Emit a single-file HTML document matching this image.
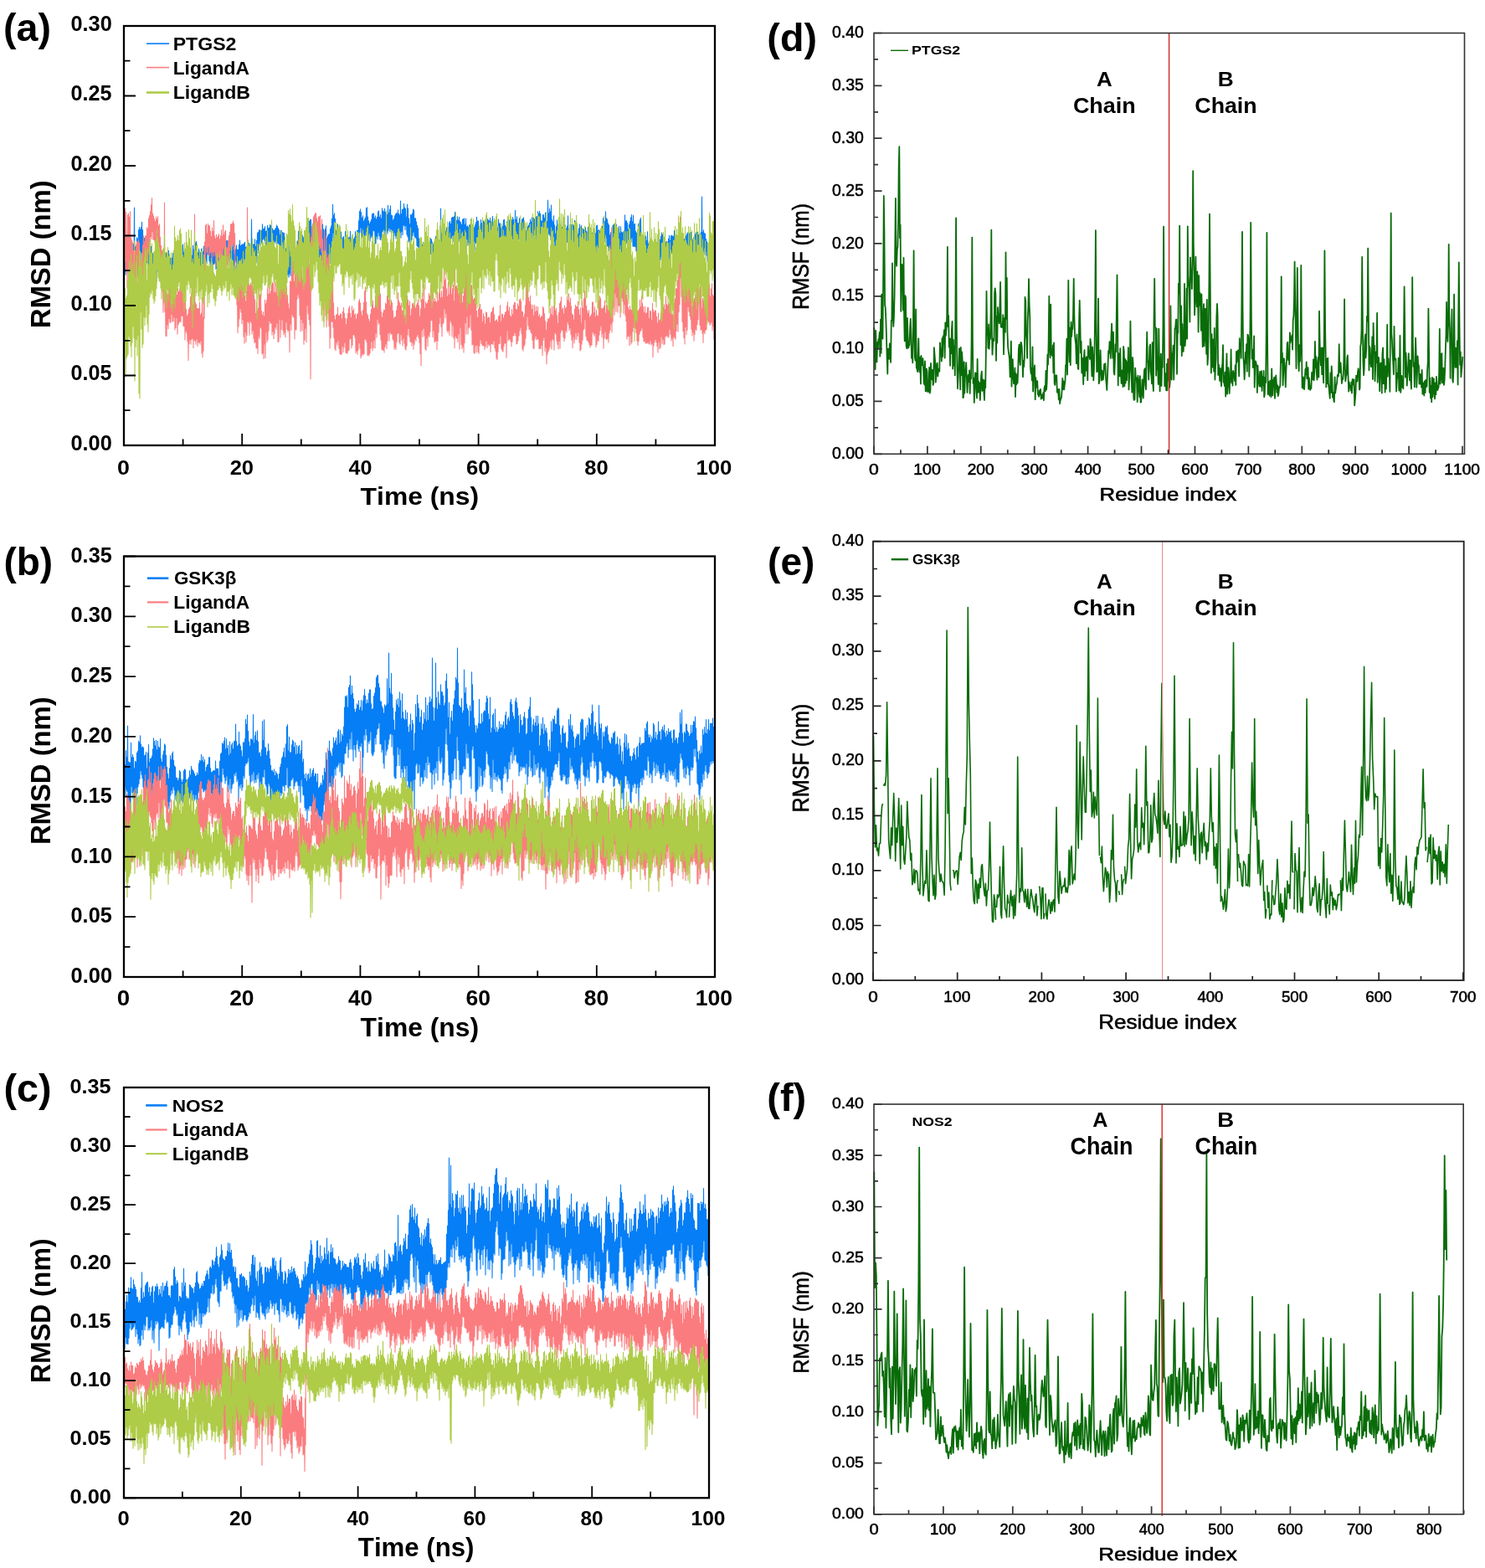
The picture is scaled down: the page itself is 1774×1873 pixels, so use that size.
<!DOCTYPE html>
<html><head><meta charset="utf-8"><title>RMSD and RMSF plots</title>
<style>html,body{margin:0;padding:0;background:#fff;}svg{display:block;}text{font-kerning:none;}</style></head>
<body><svg xmlns="http://www.w3.org/2000/svg" width="1774" height="1873" viewBox="0 0 1774 1873" font-family="'Liberation Sans', Arial, Helvetica, sans-serif">
<rect width="1774" height="1873" fill="#fff"/>
<text x="3.98" y="49.26" font-size="45.49" font-weight="bold" textLength="56.94" lengthAdjust="spacingAndGlyphs">(a)</text>
<text x="4.51" y="686.50" font-size="46.24" font-weight="bold" textLength="58.68" lengthAdjust="spacingAndGlyphs">(b)</text>
<text x="4.48" y="1316.38" font-size="45.38" font-weight="bold" textLength="57.05" lengthAdjust="spacingAndGlyphs">(c)</text>
<text x="916.38" y="60.58" font-size="46.35" font-weight="bold" textLength="59.55" lengthAdjust="spacingAndGlyphs">(d)</text>
<text x="917.11" y="686.50" font-size="46.24" font-weight="bold" textLength="56.18" lengthAdjust="spacingAndGlyphs">(e)</text>
<text x="916.26" y="1327.28" font-size="45.38" font-weight="bold" textLength="46.98" lengthAdjust="spacingAndGlyphs">(f)</text>
<g>
<polyline fill="none" stroke="#067EF6" stroke-width="1.1" stroke-linejoin="round" points="148.5,297.2 149,324.9 149.5,285.6 150,328.2 150.5,280.7 151,318.3 151.5,291 152,321.3 152.5,283.6 153,324.2 153.5,286.1 154,312.7 154.5,284.9 155,331.5 155.5,283.9 156,332.8 156.5,298.3 157,329.3 157.5,295.3 158,335 158.5,293.6 159,326.1 159.5,291.7 160,327.1 160.5,248 161,328.2 161.5,294.8 162,321.4 162.5,294.4 163,324.5 163.5,283.9 164,318.8 164.5,285.2 165,330.4 165.5,274.8 166,320.4 166.5,271.5 167,304.5 167.5,274.1 168,312.8 168.5,271.6 169,301.9 169.5,265.2 170,316.5 170.5,274.5 171,321 171.5,291.7 172,325.9 172.5,284.4 173,322.8 173.5,291.7 174,315.9 174.5,290.5 175,313.8 175.5,300.1 176,314 176.5,293.3 177,319.6 177.5,301.5 178,319.7 178.5,299 179,324 179.5,295.2 180,318.8 180.5,294.4 181,320.4 181.5,303.3 182,324.1 182.5,302.8 183,318.4 183.5,303.6 184,324.1 184.5,309.6 185,324.5 185.5,304.3 186,319.6 186.5,306.7 187,336.8 187.5,304 188,324.2 188.5,303.1 189,321.1 189.5,299.7 190,318.8 190.5,302.7 191,332.2 191.5,307.9 192,325.3 192.5,301.5 193,317.5 193.5,302.6 194,328.4 194.5,306.9 195,324.6 195.5,301.1 196,330.4 196.5,306.2 197,330.1 197.5,308.9 198,330.3 198.5,302 199,326.7 199.5,303.3 200,330.1 200.5,305.1 201,329.4 201.5,299.4 202,325.7 202.5,307.7 203,323.7 203.5,308.5 204,327.2 204.5,306 205,325.1 205.5,308.3 206,327.5 206.5,302.6 207,325.4 207.5,309.8 208,326.5 208.5,302.4 209,333 209.5,301.4 210,325.2 210.5,303.3 211,324.9 211.5,294.5 212,321.9 212.5,297.3 213,319.3 213.5,303.9 214,321.6 214.5,302.6 215,327.3 215.5,307.8 216,324.4 216.5,306.5 217,324.1 217.5,303.7 218,326.5 218.5,291.7 219,313.4 219.5,301.4 220,317.2 220.5,295.4 221,320.5 221.5,299.2 222,323.5 222.5,303.1 223,329.3 223.5,305.9 224,330.2 224.5,306.2 225,327.3 225.5,298 226,321.6 226.5,302.4 227,324.6 227.5,301.8 228,324 228.5,297.4 229,328.2 229.5,305.2 230,331.9 230.5,293.4 231,324.6 231.5,298 232,318.3 232.5,292.1 233,319.2 233.5,290.1 234,323.2 234.5,288.3 235,323.5 235.5,299.2 236,324 236.5,302 237,326.3 237.5,297.2 238,326.3 238.5,300.2 239,332.1 239.5,301.7 240,330.3 240.5,297.2 241,326.2 241.5,301.9 242,323.6 242.5,300.9 243,319.1 243.5,294 244,316.4 244.5,293.9 245,319.1 245.5,289.9 246,312.4 246.5,284.5 247,314.4 247.5,286.3 248,303.8 248.5,286.1 249,303.7 249.5,286.8 250,311.5 250.5,294.7 251,320 251.5,295 252,313.6 252.5,289.6 253,321.9 253.5,293.8 254,322.8 254.5,294.7 255,315.8 255.5,296.1 256,315.3 256.5,296.7 257,313.9 257.5,297.5 258,321.6 258.5,293.8 259,320.4 259.5,295.1 260,317.7 260.5,295.8 261,316.5 261.5,291.7 262,310.9 262.5,292 263,308.9 263.5,295.7 264,310.1 264.5,288.8 265,309.6 265.5,290.4 266,311.8 266.5,297.1 267,316.5 267.5,293.8 268,315.3 268.5,299.8 269,316.3 269.5,293.9 270,317.6 270.5,287.5 271,305.7 271.5,287.5 272,303.8 272.5,288.8 273,312 273.5,282.1 274,305.2 274.5,288.7 275,310.8 275.5,291.1 276,308 276.5,287.2 277,311.2 277.5,295.6 278,311.3 278.5,287.9 279,316.5 279.5,298.5 280,326.6 280.5,292.9 281,311.1 281.5,298.1 282,313 282.5,293 283,329 283.5,298.3 284,316.7 284.5,298.4 285,322.5 285.5,292.2 286,321 286.5,287.1 287,315.1 287.5,293.6 288,318.2 288.5,292.6 289,314.6 289.5,292.1 290,317.7 290.5,291.7 291,315 291.5,290.9 292,309.4 292.5,289.3 293,309.6 293.5,295.4 294,311.3 294.5,296.5 295,319 295.5,295.4 296,320.4 296.5,302.5 297,317.5 297.5,290.3 298,313.3 298.5,295.4 299,314.9 299.5,294.4 300,312.1 300.5,262 301,316.1 301.5,287.8 302,316.7 302.5,291.8 303,317 303.5,292 304,313.3 304.5,285.9 305,311 305.5,294.6 306,313.9 306.5,287.4 307,305.3 307.5,278.4 308,298.1 308.5,277.3 309,302.5 309.5,274.6 310,293.2 310.5,275.2 311,287.7 311.5,275 312,291.3 312.5,275.5 313,289.5 313.5,267.7 314,286.2 314.5,273.6 315,284.9 315.5,273.1 316,287.2 316.5,270.6 317,293.4 317.5,276.6 318,295.1 318.5,275.6 319,292.9 319.5,269.2 320,291.4 320.5,272.8 321,288.5 321.5,272.1 322,292.5 322.5,268.5 323,288.5 323.5,269.2 324,290.4 324.5,269.3 325,287 325.5,273 326,290.2 326.5,274.8 327,293.7 327.5,275.2 328,289.9 328.5,273.9 329,287.7 329.5,272.2 330,291.1 330.5,269.1 331,290.9 331.5,270.6 332,290.3 332.5,272.9 333,292 333.5,274.8 334,292.7 334.5,280.7 335,295 335.5,275.2 336,297.8 336.5,280.1 337,295.7 337.5,277.4 338,292.5 338.5,278.2 339,306.7 339.5,278.2 340,314.3 340.5,287.4 341,319.3 341.5,296.9 342,327.9 342.5,299.6 343,327.8 343.5,301.1 344,328.4 344.5,294.8 345,331.2 345.5,290.5 346,326.7 346.5,300.8 347,329.5 347.5,287.6 348,316.8 348.5,292.5 349,322.8 349.5,296.4 350,320.7 350.5,292.3 351,318.8 351.5,307.8 352,326.4 352.5,304.2 353,331.6 353.5,302.1 354,322 354.5,288.6 355,321.9 355.5,287.8 356,325.1 356.5,276.3 357,312.5 357.5,273 358,308.5 358.5,293.4 359,322.1 359.5,286.4 360,316.8 360.5,275.9 361,304.2 361.5,281.4 362,307.1 362.5,283.8 363,305.6 363.5,288.7 364,312 364.5,284.4 365,315.1 365.5,285.4 366,323.3 366.5,287 367,309.1 367.5,279.3 368,311.7 368.5,265.5 369,304.5 369.5,264.2 370,301.1 370.5,262.1 371,301.1 371.5,262.5 372,308 372.5,279.3 373,313.5 373.5,281.3 374,315.8 374.5,261 375,301.9 375.5,263.8 376,310.9 376.5,261.8 377,301.1 377.5,264.8 378,301.2 378.5,266.4 379,303.1 379.5,276.8 380,309.3 380.5,272.8 381,313.9 381.5,291.4 382,316.9 382.5,279 383,314.9 383.5,288.1 384,318.3 384.5,282.5 385,322.5 385.5,268 386,310.1 386.5,273.7 387,303.8 387.5,275.9 388,305.1 388.5,273.3 389,304.5 389.5,269.8 390,301.1 390.5,284.5 391,320.8 391.5,282 392,312 392.5,280 393,317 393.5,279.6 394,314.7 394.5,273.3 395,301.5 395.5,270.1 396,312.1 396.5,261.4 397,300.9 397.5,244.2 398,278.3 398.5,257.4 399,288 399.5,254.7 400,294.9 400.5,261.5 401,299.4 401.5,275.6 402,314.3 402.5,274.5 403,314.4 403.5,268.3 404,313.3 404.5,276.7 405,312.6 405.5,274.1 406,307.4 406.5,284.8 407,312.6 407.5,277 408,317.6 408.5,284.2 409,310.1 409.5,283.9 410,305 410.5,282.6 411,308.4 411.5,287 412,311.4 412.5,276.6 413,298.2 413.5,280.2 414,297.8 414.5,283.2 415,299.7 415.5,282.9 416,304.3 416.5,283.9 417,297.5 417.5,283.7 418,297.3 418.5,276.3 419,295.5 419.5,286.1 420,303.1 420.5,284.9 421,302.5 421.5,282 422,306.6 422.5,285.9 423,310 423.5,283.9 424,307.1 424.5,276.6 425,295.2 425.5,282.6 426,301.8 426.5,275.2 427,295.3 427.5,275.4 428,294.8 428.5,263.7 429,291.4 429.5,252.6 430,277.6 430.5,249.8 431,271.6 431.5,253.5 432,284 432.5,260.3 433,282.2 433.5,257.8 434,282.6 434.5,264.4 435,289.8 435.5,261.7 436,282.4 436.5,259.8 437,280.9 437.5,248.6 438,276.2 438.5,247.7 439,276 439.5,259 440,287.1 440.5,263.8 441,280.2 441.5,267.4 442,287.9 442.5,265 443,283.9 443.5,262.5 444,281.8 444.5,255.7 445,283.9 445.5,255 446,275.2 446.5,254.8 447,276 447.5,260.3 448,290.8 448.5,257.9 449,291 449.5,261.9 450,282.1 450.5,259.2 451,285.5 451.5,253.1 452,277.6 452.5,251.7 453,281.9 453.5,259.3 454,286 454.5,256.5 455,286.6 455.5,261.1 456,283.4 456.5,248.7 457,276.7 457.5,251.9 458,274.9 458.5,252.9 459,275.2 459.5,249.3 460,281.8 460.5,253.4 461,275.5 461.5,258.8 462,276.6 462.5,256.4 463,279.1 463.5,245.2 464,275.3 464.5,254.5 465,272.3 465.5,250 466,276.9 466.5,245.8 467,274 467.5,257.1 468,277.8 468.5,257.5 469,274.9 469.5,263 470,288.7 470.5,261.4 471,278 471.5,257.9 472,281.4 472.5,255.7 473,285 473.5,254.5 474,281.7 474.5,254.9 475,279.6 475.5,250.8 476,281.6 476.5,255.5 477,280.6 477.5,257.1 478,277.7 478.5,240 479,284.1 479.5,255.5 480,276.3 480.5,250.3 481,280.6 481.5,249.7 482,268.7 482.5,243.4 483,269.9 483.5,248 484,274.6 484.5,249.4 485,269.3 485.5,259.3 486,280.3 486.5,244 487,282.7 487.5,248.9 488,288.1 488.5,261.1 489,289.9 489.5,267.9 490,289.1 490.5,256.6 491,289.1 491.5,256.9 492,286.5 492.5,254.8 493,281.1 493.5,250 494,277.3 494.5,250.9 495,282.3 495.5,260.7 496,283.4 496.5,260.7 497,284.9 497.5,265 498,293.4 498.5,269.4 499,295 499.5,272.6 500,295 500.5,284.6 501,300.6 501.5,290.4 502,311.7 502.5,293.3 503,311.8 503.5,287.6 504,307.5 504.5,292.2 505,310.3 505.5,289.4 506,308.4 506.5,290.7 507,312 507.5,288.6 508,309.5 508.5,292.2 509,312.1 509.5,299.8 510,311.5 510.5,292.9 511,314.2 511.5,288.3 512,314.6 512.5,292.6 513,306.1 513.5,284.3 514,303 514.5,285 515,303.7 515.5,286 516,301.4 516.5,289.4 517,304.5 517.5,291.5 518,311.8 518.5,291.4 519,305.8 519.5,286.8 520,309.5 520.5,282.5 521,306.2 521.5,282.5 522,301.9 522.5,293 523,311.7 523.5,290.9 524,311.2 524.5,287.3 525,310.7 525.5,285.4 526,307.3 526.5,249 527,297.2 527.5,278.8 528,293.8 528.5,270.4 529,291.9 529.5,273.1 530,292.2 530.5,272 531,294.2 531.5,269.3 532,303.1 532.5,276.4 533,294.6 533.5,272.1 534,298 534.5,278.8 535,296.5 535.5,275.6 536,292.1 536.5,266 537,288.6 537.5,264.4 538,289.7 538.5,267.5 539,284.9 539.5,260.2 540,282.9 540.5,259.2 541,289 541.5,259.8 542,280.4 542.5,258.6 543,285.1 543.5,253.2 544,282.6 544.5,273.6 545,293.5 545.5,263.3 546,288.5 546.5,258.9 547,287.4 547.5,263.1 548,288.5 548.5,259.2 549,285.1 549.5,264.3 550,290.3 550.5,265.7 551,288.7 551.5,268.2 552,291 552.5,262.1 553,290.7 553.5,261.8 554,282.3 554.5,260.7 555,285.1 555.5,268.3 556,288.1 556.5,261.1 557,287.1 557.5,270.7 558,285.5 558.5,269.7 559,293.2 559.5,271.2 560,289.4 560.5,269.1 561,293.3 561.5,268.5 562,294.2 562.5,262.2 563,290.9 563.5,273 564,292.4 564.5,271.7 565,289.5 565.5,274.5 566,299.1 566.5,271.9 567,299.1 567.5,268.8 568,289.9 568.5,265.8 569,290.3 569.5,259.4 570,285.8 570.5,264 571,286.9 571.5,264 572,287.3 572.5,272.1 573,289.3 573.5,270.4 574,294.1 574.5,262.5 575,288.7 575.5,266.5 576,287.8 576.5,268 577,286.2 577.5,263.7 578,286 578.5,265.4 579,286.6 579.5,263 580,282.2 580.5,263.4 581,290 581.5,258.3 582,287.7 582.5,261.7 583,278 583.5,262.8 584,287.6 584.5,263.8 585,286.9 585.5,260.4 586,290.4 586.5,264.8 587,294.4 587.5,265.4 588,286.5 588.5,258.4 589,284.6 589.5,266.4 590,290.9 590.5,261.4 591,287.4 591.5,271.8 592,287.8 592.5,273.7 593,295 593.5,266.7 594,292.9 594.5,271.8 595,295.3 595.5,262.1 596,284.9 596.5,267.1 597,292.3 597.5,266.7 598,291.8 598.5,272.4 599,289.4 599.5,267.9 600,291.4 600.5,270.4 601,292.6 601.5,262.9 602,284 602.5,262.3 603,285 603.5,269.3 604,288.1 604.5,271.3 605,286.5 605.5,265 606,292.3 606.5,264.4 607,285.5 607.5,266.8 608,286 608.5,263.1 609,283.2 609.5,261.3 610,279.9 610.5,263.7 611,286.9 611.5,262.7 612,285.6 612.5,259.5 613,285.6 613.5,262.1 614,285.8 614.5,266 615,285.4 615.5,251.2 616,283.1 616.5,262.3 617,282.2 617.5,258.9 618,285 618.5,266.6 619,286.4 619.5,266.7 620,285 620.5,260.8 621,289.9 621.5,267.9 622,288.9 622.5,268.5 623,286.2 623.5,261.9 624,286.5 624.5,261.5 625,284.5 625.5,259.7 626,286.2 626.5,268.4 627,290 627.5,270.5 628,286.2 628.5,275.7 629,294.1 629.5,266.4 630,292.1 630.5,270.7 631,294.3 631.5,269.1 632,295.8 632.5,266.6 633,293.1 633.5,262.1 634,287.3 634.5,265.1 635,286.3 635.5,259.9 636,278.4 636.5,260 637,285.5 637.5,260.4 638,290.4 638.5,261.9 639,289.7 639.5,268.1 640,291.1 640.5,259 641,280.4 641.5,258.3 642,288.3 642.5,252.9 643,280.9 643.5,255 644,288.1 644.5,252.2 645,282 645.5,255.2 646,282.6 646.5,263.8 647,290.3 647.5,264.2 648,280.3 648.5,256.6 649,281.8 649.5,256.9 650,278.4 650.5,260.5 651,288.2 651.5,254.1 652,285.4 652.5,264.1 653,293.6 653.5,264.5 654,288.1 654.5,239 655,279.9 655.5,254.7 656,279.3 656.5,249.2 657,281.7 657.5,252.7 658,286.4 658.5,245 659,291.5 659.5,262.3 660,283.8 660.5,264.9 661,289 661.5,257.7 662,288.5 662.5,268.9 663,297.4 663.5,279.2 664,301.9 664.5,270.6 665,303.2 665.5,262.9 666,297.8 666.5,268.3 667,298.7 667.5,261.9 668,285.2 668.5,259.2 669,284.5 669.5,269.4 670,292.4 670.5,263.4 671,286 671.5,271.5 672,292.1 672.5,269 673,293.3 673.5,268.2 674,291.1 674.5,271.5 675,299.3 675.5,269.1 676,296.3 676.5,273.1 677,289 677.5,270.4 678,289.4 678.5,257.9 679,293.8 679.5,274 680,297.5 680.5,272.8 681,299.7 681.5,274.9 682,294 682.5,268.5 683,294.4 683.5,271.7 684,291.6 684.5,268.2 685,287.8 685.5,269.7 686,293.5 686.5,263.3 687,286.1 687.5,265.1 688,289.1 688.5,263.6 689,293.2 689.5,272.8 690,290.6 690.5,279.7 691,298.7 691.5,272.9 692,299.8 692.5,268.1 693,296.9 693.5,276.8 694,299.6 694.5,269.6 695,298.7 695.5,276.3 696,297.9 696.5,273.3 697,299.8 697.5,274.2 698,297.3 698.5,275.2 699,309.8 699.5,271.7 700,304.9 700.5,276 701,301.3 701.5,279 702,305.8 702.5,271.3 703,297.9 703.5,274.6 704,298.3 704.5,276.4 705,302.2 705.5,275.8 706,297 706.5,279.4 707,306.6 707.5,278.3 708,300.8 708.5,277 709,296.6 709.5,278.5 710,296.6 710.5,275.4 711,297.3 711.5,278.7 712,305.8 712.5,269.9 713,293.2 713.5,269.1 714,295.7 714.5,275.5 715,300.2 715.5,274.5 716,303.3 716.5,276.1 717,308.4 717.5,275.5 718,298.8 718.5,272.5 719,296.3 719.5,270.2 720,299.3 720.5,260.5 721,288.9 721.5,262.7 722,288.9 722.5,264.4 723,284.3 723.5,252.8 724,283.9 724.5,260.9 725,293.6 725.5,262.1 726,294.1 726.5,266.7 727,295.6 727.5,268.7 728,299.6 728.5,280.9 729,308.1 729.5,277.9 730,308.4 730.5,283.3 731,306.2 731.5,279.3 732,302.1 732.5,269.1 733,295.1 733.5,267.8 734,294.9 734.5,271 735,305.2 735.5,264.9 736,298.5 736.5,268.6 737,294.2 737.5,274.9 738,308.5 738.5,275.2 739,299.8 739.5,270.3 740,304.3 740.5,278.5 741,302.8 741.5,270.9 742,301.2 742.5,277.1 743,309.5 743.5,278 744,308.9 744.5,276.9 745,306.5 745.5,278.8 746,300.2 746.5,256.7 747,299.3 747.5,264.1 748,290.7 748.5,263.6 749,290 749.5,266.6 750,289.6 750.5,273.8 751,297.6 751.5,268.3 752,295 752.5,264.6 753,297.9 753.5,259.8 754,289 754.5,256.6 755,284 755.5,264.8 756,293.9 756.5,257.2 757,294.4 757.5,267.9 758,294.1 758.5,267.3 759,294.8 759.5,276.2 760,300.1 760.5,278.3 761,303.6 761.5,276.5 762,312.8 762.5,267.5 763,290.6 763.5,267.8 764,301.3 764.5,262.6 765,304.9 765.5,260.4 766,300.7 766.5,286.7 767,311.6 767.5,287.7 768,314.1 768.5,291 769,313.2 769.5,287.7 770,314 770.5,287.2 771,317.3 771.5,282 772,303.8 772.5,287.6 773,311.7 773.5,276.7 774,312.6 774.5,291 775,309.2 775.5,290.8 776,314.9 776.5,294.6 777,326.9 777.5,287.2 778,316.3 778.5,283.8 779,311.5 779.5,289.9 780,317.6 780.5,297 781,315.5 781.5,289.3 782,315.1 782.5,290.8 783,308.2 783.5,283.4 784,313.5 784.5,289.7 785,306.6 785.5,292.5 786,312.8 786.5,287.7 787,314.7 787.5,289.5 788,310.2 788.5,286.2 789,310.2 789.5,282.3 790,306.4 790.5,278.1 791,304.9 791.5,280.4 792,305.6 792.5,286.2 793,310.3 793.5,285 794,307.4 794.5,293.3 795,311.1 795.5,289 796,312.4 796.5,288.5 797,307.2 797.5,291 798,308.3 798.5,285.2 799,311.9 799.5,281.4 800,308 800.5,287.6 801,305.5 801.5,281.9 802,301.3 802.5,281 803,303 803.5,282 804,308.1 804.5,282.4 805,305.9 805.5,275.6 806,310.3 806.5,278.8 807,300.2 807.5,282 808,316.2 808.5,283.4 809,310.1 809.5,285.7 810,303.6 810.5,287.8 811,310 811.5,282.2 812,313.5 812.5,291.8 813,317.8 813.5,297.8 814,315.7 814.5,294.7 815,316.1 815.5,296.5 816,316.4 816.5,285.9 817,305.3 817.5,285.6 818,306.1 818.5,282.5 819,301.7 819.5,281.8 820,306.1 820.5,279.6 821,303.9 821.5,278 822,296.3 822.5,276.2 823,298.6 823.5,278.9 824,298.6 824.5,277.2 825,294 825.5,277.6 826,300.3 826.5,285.5 827,304.9 827.5,286.1 828,301.9 828.5,283.8 829,304 829.5,286.9 830,308.8 830.5,280.1 831,303.8 831.5,277.8 832,300.5 832.5,275.4 833,295.4 833.5,277.4 834,297 834.5,280.5 835,304.4 835.5,283.3 836,302.7 836.5,279.7 837,304.6 837.5,277.5 838,299.8 838.5,235 839,301.1 839.5,277.3 840,298.9 840.5,274.9 841,304 841.5,278.5 842,295.4 842.5,279.3 843,300.2 843.5,285.5 844,305 844.5,288.6 845,312.2 845.5,290.7 846,306.7 846.5,291.1 847,303.9 847.5,286 848,302 848.5,286.3 849,307.6 849.5,286.8 850,308 850.5,280.5 851,303.8 851.5,283.4 852,305.6 852.5,283 853,303 853.5,278.4 854,297.8" />
<polyline fill="none" stroke="#FB7C7F" stroke-width="1.1" stroke-linejoin="round" points="148.5,263.1 149,311.8 149.5,249 150,321.8 150.5,253.6 151,322.1 151.5,280.5 152,344 152.5,256.5 153,326.3 153.5,255.1 154,325.8 154.5,259.3 155,331.5 155.5,252.8 156,332.5 156.5,283.8 157,339.7 157.5,286.7 158,336.8 158.5,289.9 159,348 159.5,299.3 160,337.5 160.5,315.3 161,360 161.5,299.3 162,349.3 162.5,292.7 163,353.3 163.5,288.5 164,339.7 164.5,289.1 165,321.7 165.5,286.4 166,338.4 166.5,289.9 167,334.3 167.5,305.1 168,339.8 168.5,310.7 169,335.3 169.5,302.1 170,338.2 170.5,292.9 171,327.4 171.5,281.8 172,326.2 172.5,288.8 173,311.6 173.5,281.9 174,317.8 174.5,281.8 175,312.4 175.5,271.7 176,310.9 176.5,273.3 177,303.6 177.5,261.1 178,300.1 178.5,257.5 179,293 179.5,252.8 180,282.6 180.5,244.9 181,285.5 181.5,236.5 182,276.7 182.5,255.3 183,285.9 183.5,258.1 184,286.4 184.5,261.6 185,289.8 185.5,264.6 186,297.4 186.5,259.1 187,291.6 187.5,261.9 188,290.4 188.5,258.7 189,302.3 189.5,269.9 190,305.3 190.5,267.8 191,302.8 191.5,283.2 192,329.5 192.5,293.5 193,345.1 193.5,299.6 194,347.6 194.5,321 195,373.2 195.5,327.3 196,360.1 196.5,242 197,372.1 197.5,348.5 198,401.3 198.5,343.3 199,401.7 199.5,351 200,387.8 200.5,352.3 201,392.7 201.5,336.9 202,380.4 202.5,334.6 203,385.5 203.5,337.9 204,384.8 204.5,334.6 205,375.2 205.5,332.8 206,384.2 206.5,344.1 207,383.5 207.5,346.9 208,379 208.5,344.9 209,393.9 209.5,345.7 210,391.5 210.5,346.9 211,379.5 211.5,352.4 212,399.3 212.5,344 213,387.6 213.5,348.6 214,385.4 214.5,345.5 215,383.5 215.5,335.9 216,384.5 216.5,332.7 217,377.2 217.5,343.5 218,377.4 218.5,350.5 219,389.5 219.5,354.2 220,389.6 220.5,360.7 221,405.9 221.5,359.9 222,395.3 222.5,369.5 223,397.6 223.5,377.6 224,407.8 224.5,375 225,430.5 225.5,369.5 226,410.5 226.5,367.2 227,405.6 227.5,354.5 228,411.2 228.5,350.8 229,405.3 229.5,364.8 230,404.2 230.5,364 231,415.6 231.5,350 232,405.9 232.5,256 233,407.5 233.5,361.5 234,411.3 234.5,363.7 235,404.9 235.5,368.8 236,413.5 236.5,368.2 237,408.7 237.5,368.9 238,409.2 238.5,361 239,411.2 239.5,376.3 240,407.1 240.5,374 241,422 241.5,356 242,426.6 242.5,379.1 243,419.1 243.5,341.4 244,380.4 244.5,289 245,332.5 245.5,269.2 246,295.3 246.5,267.8 247,301.3 247.5,279.1 248,304.6 248.5,267.6 249,294.1 249.5,269.9 250,305.8 250.5,269.6 251,302.4 251.5,276.3 252,300.5 252.5,282.6 253,312 253.5,272 254,301.2 254.5,276.4 255,306.1 255.5,263.5 256,300.5 256.5,282.1 257,305 257.5,285.2 258,318.1 258.5,280.2 259,311.7 259.5,283.5 260,316.5 260.5,282.2 261,307.1 261.5,279.6 262,310.2 262.5,285.7 263,311.6 263.5,281.6 264,307.3 264.5,274.5 265,311.4 265.5,282.3 266,307.2 266.5,268.8 267,296.7 267.5,280.5 268,310.3 268.5,276.9 269,302 269.5,275.2 270,314.5 270.5,295.8 271,319.9 271.5,296.1 272,316.2 272.5,287 273,317.6 273.5,282.1 274,306.2 274.5,277.3 275,299 275.5,267.9 276,293.6 276.5,267.7 277,298.5 277.5,266.9 278,290.8 278.5,264 279,293.2 279.5,267.3 280,302.7 280.5,278.9 281,320.3 281.5,317.7 282,351.8 282.5,330.3 283,364.1 283.5,344.5 284,397.4 284.5,346.2 285,390 285.5,324.1 286,380.8 286.5,315.7 287,369 287.5,332.3 288,373 288.5,332.9 289,386.5 289.5,340.7 290,381.4 290.5,336.6 291,402.1 291.5,348.7 292,410.3 292.5,353.4 293,396.6 293.5,359.8 294,408.6 294.5,348.3 295,400.2 295.5,248 296,383.9 296.5,323.3 297,385.7 297.5,339.4 298,400.3 298.5,341.1 299,383.6 299.5,338.1 300,385.6 300.5,341 301,399.1 301.5,315.1 302,395 302.5,343.2 303,404.2 303.5,341.7 304,409.7 304.5,357.8 305,408.4 305.5,374.4 306,415.6 306.5,361 307,416 307.5,371.4 308,422.2 308.5,368.4 309,401.8 309.5,339.6 310,404.5 310.5,352.4 311,391 311.5,350.4 312,392.2 312.5,371.6 313,423.1 313.5,376.2 314,421.6 314.5,372.8 315,428.4 315.5,377.9 316,411 316.5,358.2 317,427.4 317.5,362.9 318,396.7 318.5,358.9 319,408.9 319.5,343.5 320,405.7 320.5,351.2 321,395 321.5,335.4 322,383.1 322.5,350.7 323,386.7 323.5,347.3 324,385.5 324.5,340.4 325,400.1 325.5,337.5 326,396 326.5,338.6 327,404.6 327.5,349.4 328,398.8 328.5,337 329,390.6 329.5,350.1 330,393.5 330.5,325.9 331,385.9 331.5,353.9 332,408.6 332.5,341.8 333,407.9 333.5,327.1 334,381.1 334.5,343.3 335,403.3 335.5,342.1 336,393.8 336.5,338.6 337,382 337.5,322.7 338,394.5 338.5,344.9 339,400 339.5,334.7 340,396.9 340.5,334.3 341,402.7 341.5,338.4 342,384.6 342.5,343 343,393.5 343.5,352.9 344,396.3 344.5,362.8 345,394.4 345.5,368.8 346,420.8 346.5,335.9 347,386.9 347.5,336.5 348,394.3 348.5,316.5 349,375.6 349.5,304.7 350,378.2 350.5,310.5 351,379.1 351.5,336.4 352,405 352.5,324.8 353,393.7 353.5,308.3 354,394.1 354.5,299.5 355,357.3 355.5,298.7 356,351.9 356.5,286.8 357,355.8 357.5,293.3 358,376.8 358.5,325.5 359,395.8 359.5,323.4 360,381.4 360.5,320.1 361,395 361.5,334.3 362,385.4 362.5,325.7 363,411.3 363.5,331.7 364,406.3 364.5,328.2 365,392.1 365.5,306.5 366,408.7 366.5,305.9 367,364.7 367.5,302.3 368,374.7 368.5,303.5 369,381.4 369.5,315.5 370,387.9 370.5,298.8 371,452.7 371.5,283.1 372,322.9 372.5,270.6 373,302.9 373.5,267.4 374,300.1 374.5,259 375,285.9 375.5,257.1 376,294.3 376.5,255 377,280.8 377.5,254.6 378,284.8 378.5,260.7 379,299.5 379.5,264.7 380,297.7 380.5,258.7 381,293 381.5,259.1 382,297.8 382.5,257.6 383,295.7 383.5,274.8 384,300.7 384.5,262 385,328.6 385.5,285.7 386,370.2 386.5,300.1 387,384.2 387.5,276.1 388,352.6 388.5,301.2 389,377.3 389.5,281.7 390,390.6 390.5,303.7 391,368.1 391.5,307.7 392,374.4 392.5,304.6 393,389.6 393.5,318.7 394,416.3 394.5,326.2 395,403.5 395.5,319.2 396,384.3 396.5,300.4 397,384.2 397.5,327 398,391.1 398.5,362.1 399,403.7 399.5,377.2 400,416.7 400.5,381.8 401,418.7 401.5,376.5 402,409.1 402.5,375.2 403,412.2 403.5,367.1 404,406.6 404.5,376.7 405,416.3 405.5,377.3 406,422.2 406.5,374.9 407,423.6 407.5,375.3 408,423.3 408.5,380.7 409,413.4 409.5,372.4 410,420.7 410.5,367.5 411,414.9 411.5,374.2 412,408.9 412.5,380.3 413,421.3 413.5,387.6 414,421.8 414.5,380.8 415,422.2 415.5,374.5 416,418.9 416.5,368.5 417,417.9 417.5,365.7 418,405.1 418.5,374.4 419,404.3 419.5,379.2 420,415.8 420.5,365.9 421,412.2 421.5,371.2 422,399.7 422.5,368.8 423,400.1 423.5,376 424,403.3 424.5,374.8 425,421.5 425.5,381.2 426,419.3 426.5,375.9 427,423.2 427.5,374.6 428,418 428.5,360.1 429,409.8 429.5,357.5 430,416 430.5,362.1 431,427.8 431.5,372.1 432,425.3 432.5,377.3 433,422.5 433.5,370.5 434,424.3 434.5,361.2 435,422.4 435.5,348.1 436,404.7 436.5,343.1 437,405.9 437.5,360.9 438,408.6 438.5,374.9 439,424.5 439.5,376.7 440,423.4 440.5,381.2 441,425.1 441.5,383.7 442,421.8 442.5,375.3 443,415.9 443.5,369.5 444,407.8 444.5,364 445,418.8 445.5,359.4 446,415.4 446.5,368.3 447,406 447.5,367.8 448,415.9 448.5,353.4 449,397.9 449.5,334.2 450,403.2 450.5,341.3 451,381.3 451.5,336.8 452,387.2 452.5,346.4 453,385.6 453.5,342.5 454,399.6 454.5,351.3 455,406.2 455.5,372.6 456,416.9 456.5,379.1 457,418.5 457.5,373.9 458,417.8 458.5,370.4 459,420.9 459.5,370.6 460,414.4 460.5,362.1 461,411 461.5,363.4 462,416.6 462.5,353.3 463,407.3 463.5,345.2 464,397.9 464.5,358.2 465,407.1 465.5,355.1 466,396.9 466.5,364.7 467,399.2 467.5,358.7 468,398.5 468.5,361.8 469,405 469.5,371.5 470,406.7 470.5,380.3 471,417.1 471.5,378.9 472,414.6 472.5,378.5 473,417.6 473.5,370.8 474,408.3 474.5,365.7 475,398.8 475.5,349.8 476,397.6 476.5,359.2 477,409 477.5,361.8 478,411.1 478.5,365.4 479,399.7 479.5,362.1 480,406.3 480.5,371.3 481,412.9 481.5,371.4 482,403.8 482.5,362.6 483,410.1 483.5,377.9 484,416.3 484.5,376.6 485,418.3 485.5,355 486,413.1 486.5,353.5 487,400 487.5,358.2 488,392.4 488.5,365.1 489,402.3 489.5,360.1 490,408.1 490.5,377.4 491,408.3 491.5,369 492,413.2 492.5,362.8 493,409.2 493.5,362.5 494,417.2 494.5,365 495,411.4 495.5,361 496,405 496.5,367.9 497,407.2 497.5,364.3 498,401.9 498.5,362.1 499,399.7 499.5,357.4 500,403.2 500.5,365.1 501,409.3 501.5,378 502,422.8 502.5,368.9 503,436.8 503.5,358.1 504,394.1 504.5,349.7 505,402.4 505.5,357.8 506,392.2 506.5,339.6 507,401.3 507.5,368.4 508,416.9 508.5,360.5 509,418.6 509.5,363.1 510,403.8 510.5,362.1 511,413.6 511.5,358.2 512,400.4 512.5,350.6 513,402.5 513.5,353.6 514,396.3 514.5,340.1 515,382.7 515.5,343.8 516,382.8 516.5,362.7 517,402.5 517.5,340 518,394.9 518.5,360.3 519,408.7 519.5,356.3 520,407.7 520.5,360 521,406.7 521.5,361.2 522,417.5 522.5,348.5 523,407.3 523.5,359.5 524,396.9 524.5,349.7 525,386.4 525.5,343.1 526,379.1 526.5,355.7 527,390.1 527.5,347.8 528,401.7 528.5,355.5 529,386.9 529.5,342.5 530,385.5 530.5,321.2 531,368.6 531.5,334.7 532,379.6 532.5,331.9 533,374.2 533.5,344.9 534,394.8 534.5,354 535,397.3 535.5,337.2 536,394.8 536.5,352 537,400.5 537.5,340.7 538,382.9 538.5,325 539,385.8 539.5,351.6 540,402 540.5,344.8 541,388.7 541.5,340.1 542,403.8 542.5,359.7 543,415.8 543.5,312.5 544,401.5 544.5,342.3 545,404 545.5,341.5 546,403.8 546.5,344.5 547,408.4 547.5,350.5 548,398.7 548.5,334.5 549,416.9 549.5,330.9 550,390.9 550.5,347.4 551,411.6 551.5,340.2 552,416.4 552.5,361.5 553,413.9 553.5,353.6 554,420.9 554.5,344.2 555,409.8 555.5,303.2 556,385.4 556.5,323 557,398.9 557.5,320.8 558,378 558.5,325.5 559,399.1 559.5,325.9 560,392 560.5,323.4 561,390.7 561.5,341 562,375.6 562.5,341 563,394.3 563.5,340.5 564,411.9 564.5,354.1 565,411.3 565.5,358.1 566,421.2 566.5,356.3 567,422.4 567.5,355.8 568,412.6 568.5,362 569,420.9 569.5,371.4 570,412.1 570.5,379.4 571,420.2 571.5,369.2 572,422.3 572.5,367 573,412.9 573.5,363.2 574,406 574.5,370.4 575,410.2 575.5,369.6 576,412.1 576.5,384.5 577,413.2 577.5,374.6 578,412.5 578.5,378.1 579,417.4 579.5,387.2 580,414.3 580.5,372.8 581,407.3 581.5,373.6 582,415.6 582.5,380.1 583,410.6 583.5,379.1 584,413.1 584.5,379.3 585,411.5 585.5,385.6 586,420.4 586.5,373.8 587,410.7 587.5,372.4 588,410.6 588.5,368.3 589,411.8 589.5,366.8 590,407.1 590.5,375.9 591,415.6 591.5,383.8 592,419.2 592.5,382.7 593,427.9 593.5,381.7 594,429.5 594.5,384.9 595,420.2 595.5,377.8 596,410.7 596.5,377.2 597,410.3 597.5,364.5 598,401.2 598.5,384.6 599,416.8 599.5,375 600,418.9 600.5,375.6 601,420.1 601.5,380.1 602,413.4 602.5,376.3 603,409.8 603.5,373.3 604,410 604.5,372.4 605,427.3 605.5,365.8 606,394.9 606.5,360.8 607,407.2 607.5,371.6 608,405.1 608.5,366.7 609,405.2 609.5,376.9 610,407.7 610.5,378.6 611,413.8 611.5,369.5 612,408.1 612.5,375.9 613,400.6 613.5,364.2 614,401.1 614.5,361.4 615,397.2 615.5,361.5 616,401 616.5,369.5 617,410.9 617.5,369.8 618,410.3 618.5,362.9 619,406.7 619.5,365.8 620,400.9 620.5,358.2 621,394.9 621.5,356.8 622,391.2 622.5,359.9 623,398.6 623.5,372.3 624,416.9 624.5,372.5 625,419.3 625.5,379.1 626,414 626.5,375.6 627,411.4 627.5,364.7 628,403.9 628.5,326.5 629,394 629.5,341.6 630,378.2 630.5,333.7 631,388.8 631.5,355.6 632,393.5 632.5,360.2 633,393.3 633.5,353.3 634,396.8 634.5,363.8 635,398.3 635.5,369.5 636,406.4 636.5,364.5 637,415.7 637.5,377.1 638,416.7 638.5,364.3 639,404.8 639.5,372.5 640,401.5 640.5,366.1 641,405.9 641.5,371.9 642,404.5 642.5,366.6 643,405.3 643.5,378 644,416.3 644.5,375.5 645,416.7 645.5,380.1 646,416.2 646.5,378 647,412.5 647.5,377.8 648,424.5 648.5,366.4 649,406.5 649.5,368 650,402.9 650.5,374.9 651,419.7 651.5,383.6 652,415 652.5,394.5 653,434.8 653.5,385.2 654,423.2 654.5,380.8 655,420.1 655.5,381.4 656,417.5 656.5,379 657,414.2 657.5,368.1 658,406.6 658.5,375.9 659,416.9 659.5,365.8 660,404.6 660.5,377.1 661,406.2 661.5,365.9 662,418.1 662.5,360.2 663,397.4 663.5,371.2 664,398.9 664.5,368.3 665,407.3 665.5,376.9 666,411.4 666.5,386.3 667,416.7 667.5,373.5 668,407.2 668.5,362.6 669,416.3 669.5,360.3 670,397.1 670.5,354.7 671,394 671.5,369.7 672,394.7 672.5,367.7 673,402.6 673.5,374.8 674,407.8 674.5,364.7 675,403.9 675.5,368.6 676,394.8 676.5,367.3 677,397.1 677.5,354.5 678,384.7 678.5,358.7 679,387.6 679.5,351.1 680,395 680.5,361.2 681,391.9 681.5,356 682,399.6 682.5,365.7 683,406.3 683.5,375 684,415.6 684.5,376.2 685,402.1 685.5,382.4 686,410 686.5,369.3 687,405.1 687.5,364.2 688,397.5 688.5,366 689,405.4 689.5,366.9 690,401.3 690.5,360.3 691,396.9 691.5,369.5 692,409.2 692.5,376.5 693,419.1 693.5,367.8 694,417.6 694.5,386 695,411.1 695.5,359.2 696,406.3 696.5,368.4 697,394 697.5,356.9 698,392.8 698.5,347.8 699,382 699.5,356.3 700,401.7 700.5,365.4 701,406 701.5,370.9 702,407 702.5,374.1 703,408.7 703.5,370.8 704,411.5 704.5,378.7 705,415 705.5,377.4 706,412.5 706.5,375.6 707,412.1 707.5,361.3 708,396.5 708.5,360.9 709,399 709.5,373.9 710,401.7 710.5,366.7 711,398.2 711.5,378.5 712,414.6 712.5,370.6 713,411.4 713.5,376.8 714,406.1 714.5,377.5 715,407.6 715.5,358.9 716,400 716.5,353.7 717,394.8 717.5,356.5 718,389.2 718.5,368.7 719,402.8 719.5,368.6 720,398.1 720.5,368.4 721,416.3 721.5,365.8 722,404.1 722.5,359.4 723,395.9 723.5,374.3 724,404.7 724.5,364.4 725,405.8 725.5,365.2 726,403.9 726.5,370.5 727,408.9 727.5,355.4 728,397.6 728.5,349.6 729,394.1 729.5,335.6 730,386.8 730.5,272 731,396.9 731.5,323.2 732,384.1 732.5,323.8 733,366.2 733.5,324.1 734,376.2 734.5,316.4 735,350.3 735.5,314.2 736,372.2 736.5,309.1 737,355.3 737.5,316.8 738,373.3 738.5,307.4 739,364.6 739.5,319.6 740,365.2 740.5,313.5 741,379 741.5,313.9 742,356 742.5,313.9 743,355.6 743.5,308.3 744,359.9 744.5,313.4 745,374.3 745.5,322.6 746,363.5 746.5,345 747,376.6 747.5,340.1 748,383.5 748.5,352.2 749,405 749.5,357.6 750,401.8 750.5,367.4 751,401.7 751.5,370.2 752,412.8 752.5,365.6 753,400.1 753.5,369.8 754,411 754.5,370.8 755,408.8 755.5,359.3 756,395.9 756.5,361.7 757,390.9 757.5,357.4 758,391.5 758.5,360.6 759,392.2 759.5,358.9 760,397.4 760.5,365.1 761,407.1 761.5,371.8 762,412.5 762.5,371 763,407.8 763.5,369.1 764,399.1 764.5,358.4 765,395.6 765.5,366.7 766,394.4 766.5,353.9 767,391.7 767.5,362.2 768,402.6 768.5,366.6 769,407.9 769.5,373.6 770,407.2 770.5,366.2 771,409.9 771.5,374.5 772,409.2 772.5,373.8 773,410.3 773.5,367.5 774,408.7 774.5,367.3 775,410.7 775.5,380.4 776,410.9 776.5,371 777,407 777.5,372.1 778,412.1 778.5,382.6 779,410.2 779.5,362.2 780,426.8 780.5,370 781,412.9 781.5,373.3 782,408.8 782.5,370.9 783,405.4 783.5,371.4 784,408.6 784.5,378.2 785,413.6 785.5,386 786,421.1 786.5,374 787,408.3 787.5,383 788,416.8 788.5,381.8 789,415.2 789.5,374.1 790,402.3 790.5,369.4 791,410.7 791.5,374 792,405.3 792.5,367.5 793,411.6 793.5,363.8 794,411.1 794.5,369.8 795,401.6 795.5,353.7 796,401.9 796.5,363.5 797,400.5 797.5,365 798,403.3 798.5,362 799,402.1 799.5,363.2 800,393.3 800.5,372.2 801,399.3 801.5,361.5 802,406.9 802.5,375.6 803,403.9 803.5,375.5 804,413.8 804.5,377.3 805,401.9 805.5,362.1 806,403.8 806.5,357 807,405.3 807.5,344.9 808,395.5 808.5,344.8 809,386.9 809.5,335 810,396.2 810.5,308.8 811,372.7 811.5,300.9 812,363.7 812.5,259.3 813,331.5 813.5,291.2 814,354.3 814.5,303.6 815,384.2 815.5,324.1 816,395.5 816.5,339 817,403.6 817.5,315.8 818,411 818.5,312.6 819,390.7 819.5,311.8 820,399.6 820.5,327.6 821,394.4 821.5,307.5 822,366.2 822.5,315.3 823,371.9 823.5,334.6 824,377.4 824.5,319 825,381.8 825.5,351.2 826,393.2 826.5,366.1 827,400.9 827.5,357.7 828,397 828.5,359.2 829,407.3 829.5,356.5 830,399.4 830.5,352.8 831,393.2 831.5,343.2 832,394.8 832.5,331.1 833,387.8 833.5,325.1 834,381.6 834.5,333.8 835,361.8 835.5,345.8 836,388.5 836.5,342.2 837,394.5 837.5,333.3 838,393.1 838.5,368.8 839,398.3 839.5,356.4 840,409.2 840.5,358.9 841,396.7 841.5,363.3 842,398.8 842.5,345 843,394.2 843.5,353.6 844,393.6 844.5,337.9 845,381.9 845.5,335.8 846,383.9 846.5,338.3 847,384.8 847.5,339.6 848,388.2 848.5,354.5 849,386.9 849.5,345 850,384.6 850.5,338.6 851,394.6 851.5,352.4 852,389.8 852.5,353.7 853,405.1 853.5,357.9 854,411.3" />
<polyline fill="none" stroke="#AECC47" stroke-width="1.1" stroke-linejoin="round" points="148.5,316.3 149,409.3 149.5,344.9 150,449.9 150.5,356.3 151,428.4 151.5,353.3 152,425.8 152.5,335.2 153,423.3 153.5,326.5 154,401.7 154.5,312.2 155,404.4 155.5,322.6 156,413.2 156.5,304.7 157,426.1 157.5,322.3 158,409.5 158.5,314.8 159,389.7 159.5,327.5 160,403.8 160.5,288 161,455 161.5,331.5 162,414.2 162.5,314.3 163,405.4 163.5,305.3 164,424.9 164.5,337.8 165,400.4 165.5,318.6 166,470 166.5,298.9 167,476 167.5,300.3 168,372.6 168.5,318.2 169,393 169.5,303.4 170,415.1 170.5,329.3 171,411 171.5,313 172,378.2 172.5,307.5 173,388.7 173.5,296.6 174,379.4 174.5,299.3 175,364.4 175.5,335.9 176,387.3 176.5,296.7 177,396.5 177.5,316.5 178,375.3 178.5,288.7 179,354.6 179.5,286.3 180,349.2 180.5,302.3 181,351.7 181.5,291 182,346.8 182.5,315.2 183,356.8 183.5,301.4 184,362.4 184.5,300 185,359.5 185.5,287.3 186,353.3 186.5,286.2 187,344.6 187.5,274.1 188,321.8 188.5,284.3 189,331.6 189.5,289.8 190,335.3 190.5,295.8 191,336.4 191.5,301.2 192,343.9 192.5,307.8 193,357 193.5,304.9 194,346.7 194.5,297.7 195,345.3 195.5,296 196,362.4 196.5,281.6 197,358.2 197.5,302.1 198,347.5 198.5,307.9 199,367.8 199.5,301.4 200,345.7 200.5,295.5 201,359.3 201.5,306.6 202,351.4 202.5,303.3 203,343.7 203.5,316.5 204,367.8 204.5,301.9 205,362.3 205.5,322.6 206,372.3 206.5,316.4 207,362.9 207.5,299 208,355.6 208.5,270 209,367.8 209.5,284.1 210,354.8 210.5,288.6 211,349.8 211.5,286.6 212,346.6 212.5,281.3 213,341.7 213.5,287.2 214,337 214.5,275.3 215,347 215.5,273.4 216,348 216.5,279.2 217,345.9 217.5,293.2 218,349.2 218.5,304.8 219,361 219.5,307.8 220,371.8 220.5,290.1 221,360.6 221.5,297.2 222,359.8 222.5,277.4 223,340.2 223.5,290.1 224,345.9 224.5,293.9 225,335.3 225.5,274.5 226,339 226.5,284.8 227,350.8 227.5,296 228,343.5 228.5,275 229,370.7 229.5,313.5 230,391.3 230.5,309.4 231,354.2 231.5,316.1 232,370.5 232.5,278.1 233,343.1 233.5,299.6 234,353.6 234.5,293.5 235,349.7 235.5,291.5 236,330.4 236.5,305.2 237,353.5 237.5,309.2 238,359.3 238.5,299.6 239,347.8 239.5,317.7 240,357.2 240.5,300.2 241,345.2 241.5,296.8 242,362.7 242.5,315.5 243,359.9 243.5,304.5 244,355.9 244.5,323.7 245,353.2 245.5,308.8 246,347.9 246.5,312.5 247,339.7 247.5,318 248,366.5 248.5,316.3 249,350.8 249.5,318.7 250,361.8 250.5,315.3 251,348.7 251.5,319.2 252,348.7 252.5,308.6 253,339 253.5,313 254,344.7 254.5,316.5 255,356.1 255.5,325.8 256,357.3 256.5,328.3 257,365.3 257.5,330.2 258,359.4 258.5,323 259,353 259.5,303.9 260,346.4 260.5,311.6 261,345.5 261.5,312.4 262,340.7 262.5,301.1 263,343.5 263.5,308.7 264,346.8 264.5,304.3 265,352.6 265.5,305.6 266,347.5 266.5,305.1 267,340.2 267.5,306.3 268,345.3 268.5,298.3 269,343.2 269.5,294.7 270,335.5 270.5,306.1 271,353.2 271.5,321.4 272,347.6 272.5,305.7 273,348 273.5,320.1 274,359 274.5,302.8 275,345.2 275.5,312.2 276,338.9 276.5,294.6 277,352.2 277.5,310.6 278,342.9 278.5,311.8 279,352.1 279.5,323.2 280,353.3 280.5,315.7 281,355.8 281.5,320.4 282,357.1 282.5,320.7 283,354.2 283.5,306.3 284,348.7 284.5,315.5 285,359.4 285.5,311.8 286,342.2 286.5,311.6 287,345.4 287.5,311.2 288,347.3 288.5,309 289,336.6 289.5,316 290,355.2 290.5,300.4 291,347.2 291.5,314.2 292,352.8 292.5,309.7 293,349.4 293.5,297.5 294,356.7 294.5,294.4 295,339.4 295.5,288.9 296,341.1 296.5,286.5 297,340.6 297.5,294.1 298,331.9 298.5,292.3 299,331.1 299.5,290.8 300,333.4 300.5,306.4 301,347.2 301.5,285.3 302,339.1 302.5,296.5 303,353.5 303.5,301.3 304,345.9 304.5,298.7 305,350.5 305.5,306.4 306,350 306.5,318 307,381.1 307.5,291.5 308,345 308.5,305.6 309,357.4 309.5,291.8 310,343.4 310.5,299.7 311,347.7 311.5,274.8 312,354.4 312.5,295.6 313,346.2 313.5,289.7 314,337.9 314.5,289.6 315,328.8 315.5,294.1 316,340.6 316.5,291.6 317,340.3 317.5,283 318,337.3 318.5,293 319,327.9 319.5,275.4 320,342.5 320.5,289.1 321,343.6 321.5,289.3 322,339.4 322.5,290.3 323,345.3 323.5,290 324,339.1 324.5,262.9 325,330.5 325.5,278.7 326,326.7 326.5,287.8 327,336.9 327.5,289.9 328,337.4 328.5,295.4 329,333.8 329.5,297.1 330,341.4 330.5,281.5 331,344.8 331.5,293.1 332,353.8 332.5,315.3 333,366.1 333.5,292.8 334,348 334.5,293 335,357.1 335.5,294.3 336,344.8 336.5,275.3 337,346.6 337.5,290 338,351.5 338.5,298.1 339,343.6 339.5,287.5 340,350.7 340.5,283.2 341,348.1 341.5,300.8 342,356.3 342.5,279.4 343,337.4 343.5,281 344,322.1 344.5,251.5 345,318.4 345.5,255.8 346,292.6 346.5,249.6 347,306 347.5,257.3 348,318.4 348.5,264.9 349,325.2 349.5,244.5 350,311.8 350.5,263.8 351,323.3 351.5,269.9 352,328.3 352.5,275.1 353,326.9 353.5,295.7 354,342.6 354.5,288.3 355,325.3 355.5,292.4 356,330 356.5,294.1 357,336.2 357.5,266.1 358,335.1 358.5,270.4 359,335.9 359.5,276.3 360,331.3 360.5,273.4 361,318.4 361.5,289.3 362,340.4 362.5,290.5 363,345.1 363.5,275.5 364,338.8 364.5,275.3 365,337.1 365.5,271.2 366,321.3 366.5,247.5 367,318.2 367.5,260.9 368,320.6 368.5,260.2 369,307.8 369.5,278.7 370,329.5 370.5,289.5 371,339.8 371.5,294.8 372,347.8 372.5,286.5 373,345.4 373.5,294.2 374,343.5 374.5,268.1 375,315.6 375.5,288.7 376,330.4 376.5,266.3 377,323.9 377.5,265.3 378,312.1 378.5,271.8 379,322 379.5,279.3 380,336.7 380.5,289.8 381,349.7 381.5,307.6 382,364.5 382.5,304.8 383,359.4 383.5,305.7 384,376.1 384.5,311.6 385,383.1 385.5,300.5 386,365 386.5,319.2 387,390.6 387.5,304.3 388,359.9 388.5,299.7 389,368.8 389.5,327.9 390,381.3 390.5,315.2 391,374.5 391.5,319.4 392,382.9 392.5,323.5 393,369.2 393.5,292.1 394,356.2 394.5,317.6 395,368.9 395.5,295.8 396,347.1 396.5,288.7 397,350.7 397.5,284.1 398,331.2 398.5,289.6 399,336 399.5,265.6 400,316.6 400.5,266.5 401,326.5 401.5,281.2 402,325.8 402.5,266.9 403,317.2 403.5,272 404,319.3 404.5,272 405,316.2 405.5,268.6 406,314.8 406.5,270.4 407,327.3 407.5,286.1 408,327.1 408.5,284.3 409,341.5 409.5,296.2 410,338.2 410.5,297.5 411,351.8 411.5,286.4 412,327.5 412.5,283.4 413,331 413.5,268.1 414,323.1 414.5,281 415,325 415.5,275.5 416,330.2 416.5,285.7 417,343.2 417.5,285.7 418,329.1 418.5,289.1 419,332.1 419.5,284.9 420,328.4 420.5,281.4 421,339.7 421.5,279.8 422,327 422.5,298.8 423,358.4 423.5,295.7 424,356.2 424.5,291.3 425,336.8 425.5,283.8 426,333.9 426.5,276.6 427,325.2 427.5,277.5 428,343 428.5,278.3 429,327.2 429.5,288.7 430,341.4 430.5,295.5 431,330.4 431.5,278.9 432,329 432.5,296.6 433,344.6 433.5,274.6 434,338.4 434.5,280.4 435,333 435.5,282.6 436,337.8 436.5,281.3 437,330.1 437.5,295.6 438,348.3 438.5,272.5 439,344.6 439.5,269.8 440,340.5 440.5,296.5 441,340.7 441.5,279.6 442,343.7 442.5,308.6 443,365.9 443.5,302.1 444,363.6 444.5,288.1 445,342.2 445.5,281.4 446,344.4 446.5,291.1 447,339 447.5,282.3 448,349.9 448.5,308.8 449,363.4 449.5,305.1 450,366.1 450.5,305.8 451,368.5 451.5,291.6 452,352.2 452.5,309.2 453,353.5 453.5,299.4 454,341.1 454.5,295.5 455,340 455.5,299.4 456,339.7 456.5,281 457,335.7 457.5,280 458,340.3 458.5,274.8 459,343.7 459.5,282.6 460,337 460.5,278.8 461,342.1 461.5,251.2 462,336.6 462.5,285.2 463,351.6 463.5,289.8 464,357 464.5,302.5 465,354.8 465.5,298.7 466,364 466.5,286.4 467,337.2 467.5,274.6 468,329.3 468.5,289.9 469,344.7 469.5,276.2 470,328 470.5,288.1 471,351.4 471.5,300.8 472,346.6 472.5,297.1 473,341.7 473.5,288.4 474,357 474.5,278 475,340.6 475.5,273.7 476,342.1 476.5,273.2 477,325.1 477.5,276.9 478,341.5 478.5,300.4 479,354.7 479.5,300.3 480,358.6 480.5,306.3 481,366.7 481.5,319 482,375.5 482.5,317.4 483,379.7 483.5,312.7 484,368.8 484.5,306.8 485,385.8 485.5,314.6 486,360.9 486.5,287.9 487,349.6 487.5,295.7 488,347.6 488.5,299.2 489,349.6 489.5,287.8 490,333.5 490.5,271.8 491,323.3 491.5,291.4 492,337.4 492.5,292.1 493,344.5 493.5,288.6 494,355.6 494.5,284.2 495,367.1 495.5,299.2 496,351.1 496.5,310.7 497,360.6 497.5,296 498,350.4 498.5,297.2 499,350.8 499.5,296.5 500,355.8 500.5,297.1 501,355.9 501.5,285.5 502,360.4 502.5,283.4 503,332.6 503.5,283.9 504,334.2 504.5,294.5 505,353.7 505.5,289.7 506,343.1 506.5,291.1 507,337.3 507.5,261.1 508,345.7 508.5,277.4 509,329.4 509.5,271.2 510,333.1 510.5,282.4 511,331.2 511.5,268.7 512,337.4 512.5,289.1 513,337 513.5,283.8 514,337.1 514.5,315.4 515,358.5 515.5,291.4 516,367.4 516.5,290.7 517,356.6 517.5,301.8 518,348.6 518.5,288.8 519,348.8 519.5,285.2 520,351 520.5,285.2 521,355.3 521.5,274.7 522,350.9 522.5,266.1 523,344.7 523.5,274.9 524,328.6 524.5,286.6 525,349.2 525.5,270.1 526,344.4 526.5,262.9 527,336.1 527.5,289 528,344.4 528.5,261.1 529,319.1 529.5,256.7 530,321.8 530.5,267.3 531,323.5 531.5,250.8 532,327.6 532.5,281.5 533,330.5 533.5,276.7 534,324.9 534.5,265.1 535,334 535.5,271.2 536,338.8 536.5,284.1 537,342 537.5,278 538,341.9 538.5,285.4 539,344.2 539.5,292.5 540,341.9 540.5,282.2 541,338.6 541.5,292.3 542,335.9 542.5,281.5 543,346.6 543.5,277 544,322.4 544.5,254 545,320.4 545.5,275.4 546,337.4 546.5,267.9 547,346.4 547.5,278.6 548,352.7 548.5,303.8 549,350.4 549.5,274 550,362 550.5,285.4 551,348 551.5,279 552,350.8 552.5,277.1 553,350.3 553.5,282.6 554,343.9 554.5,282.5 555,348.6 555.5,274.7 556,343.3 556.5,277.8 557,326 557.5,287.8 558,369.2 558.5,304.9 559,360.5 559.5,316 560,363.2 560.5,270.9 561,362.7 561.5,291.8 562,362.2 562.5,263.5 563,337.8 563.5,260.4 564,324.8 564.5,268.4 565,354 565.5,261.9 566,344.5 566.5,288.7 567,351.4 567.5,300.6 568,362.8 568.5,295.9 569,362.9 569.5,284.3 570,368 570.5,283.3 571,343.4 571.5,275 572,366.2 572.5,270.8 573,332.4 573.5,267.9 574,330.5 574.5,274.2 575,349.9 575.5,277.2 576,343.6 576.5,259.9 577,321.7 577.5,286.2 578,344.9 578.5,284.2 579,327.8 579.5,262 580,330.1 580.5,257.1 581,332.5 581.5,254.1 582,320.6 582.5,268.6 583,328.1 583.5,277.7 584,339.7 584.5,266 585,323.4 585.5,266 586,341.5 586.5,275.1 587,329.6 587.5,262.3 588,336.1 588.5,270.5 589,335.4 589.5,265.2 590,348 590.5,261.8 591,347.7 591.5,263.2 592,310.8 592.5,258.7 593,302.6 593.5,255.2 594,311.3 594.5,276.2 595,329.1 595.5,270.8 596,346.2 596.5,284.3 597,338 597.5,283.9 598,355.8 598.5,283.1 599,340.7 599.5,267 600,331.4 600.5,282 601,333.3 601.5,274.9 602,348.4 602.5,282.8 603,329.6 603.5,281.2 604,350.3 604.5,283.4 605,339 605.5,266.3 606,324 606.5,258.8 607,336.8 607.5,257 608,343.6 608.5,276 609,319.8 609.5,255.1 610,327 610.5,258.7 611,341.9 611.5,282.3 612,345.8 612.5,286.8 613,341 613.5,268.8 614,340.2 614.5,265 615,354.5 615.5,266 616,330.8 616.5,276.8 617,333.6 617.5,279.7 618,359.3 618.5,280.2 619,348.1 619.5,288.1 620,346.1 620.5,267.6 621,342.9 621.5,257.9 622,332 622.5,266.4 623,339.7 623.5,275.6 624,345.1 624.5,265.8 625,358.7 625.5,273.1 626,343.9 626.5,263.6 627,342.5 627.5,266.5 628,339.9 628.5,289.2 629,355.9 629.5,265.8 630,346.7 630.5,276 631,337.5 631.5,272.5 632,348.3 632.5,271.5 633,342.5 633.5,267.7 634,334 634.5,278.3 635,340.2 635.5,285.5 636,335.2 636.5,255.3 637,323.6 637.5,281.7 638,325.4 638.5,274.9 639,343.8 639.5,239.4 640,339.6 640.5,287.5 641,353.3 641.5,271.1 642,334 642.5,255.4 643,332.6 643.5,258.9 644,316.4 644.5,258.7 645,316.9 645.5,279.8 646,339.5 646.5,271.1 647,337.5 647.5,271.3 648,345.8 648.5,266 649,335.9 649.5,272.3 650,343.6 650.5,265.9 651,335.8 651.5,264.5 652,312.5 652.5,253.6 653,337.4 653.5,273.2 654,347.1 654.5,272.3 655,356.8 655.5,300.1 656,373.7 656.5,307.6 657,365.2 657.5,293.1 658,356.6 658.5,271.8 659,334.4 659.5,277.1 660,340.4 660.5,275.2 661,351.4 661.5,283.9 662,365.7 662.5,294.6 663,364.5 663.5,293.9 664,340.4 664.5,287 665,333.7 665.5,275.8 666,338.2 666.5,268.5 667,347.1 667.5,259.7 668,312.1 668.5,237.7 669,322.5 669.5,269.5 670,325 670.5,255.3 671,338.5 671.5,273.5 672,327.4 672.5,256.1 673,332.7 673.5,259.5 674,314.8 674.5,250.3 675,328.1 675.5,269.7 676,350.9 676.5,274.5 677,336.1 677.5,299.7 678,354.4 678.5,275.5 679,345.3 679.5,273.7 680,344.3 680.5,268.2 681,341.1 681.5,254 682,343.5 682.5,287 683,348.1 683.5,260.9 684,324.3 684.5,275 685,330.8 685.5,290.8 686,351.5 686.5,265.5 687,335.7 687.5,264.6 688,334.8 688.5,257.2 689,324.2 689.5,266.7 690,350.4 690.5,284.3 691,351.2 691.5,295.5 692,363.9 692.5,281.3 693,350.9 693.5,270.7 694,356.4 694.5,283.8 695,364.5 695.5,272.2 696,329.5 696.5,279.3 697,349.4 697.5,286 698,349.3 698.5,270.1 699,333.1 699.5,278.2 700,355.6 700.5,288.2 701,355.7 701.5,277.4 702,339.6 702.5,287.8 703,348.2 703.5,256.6 704,341.9 704.5,266.9 705,331.2 705.5,272 706,332.4 706.5,268.3 707,332.4 707.5,279.6 708,340.8 708.5,262.3 709,348.9 709.5,273.4 710,349.5 710.5,266.5 711,331.3 711.5,295.2 712,361.2 712.5,301.3 713,344.6 713.5,293 714,368.3 714.5,296.1 715,370.2 715.5,276.4 716,331.4 716.5,278.9 717,349.7 717.5,272.9 718,344.1 718.5,270.1 719,334.7 719.5,272.9 720,350.7 720.5,267.6 721,340.6 721.5,258 722,320.8 722.5,292.5 723,342.8 723.5,281 724,361.1 724.5,291.1 725,368.2 725.5,305.6 726,352.5 726.5,295.1 727,369.8 727.5,311.3 728,371.5 728.5,293.6 729,374.5 729.5,297.8 730,378.3 730.5,320.8 731,379.8 731.5,269.2 732,358.4 732.5,283.7 733,368.8 733.5,279.3 734,344.9 734.5,266.7 735,321.6 735.5,261.7 736,333.6 736.5,270.1 737,333.3 737.5,271.6 738,342.8 738.5,272.7 739,339.8 739.5,285.7 740,362.6 740.5,298.4 741,354.4 741.5,293.5 742,373.2 742.5,301.8 743,348.7 743.5,287.7 744,346.1 744.5,287.2 745,338.3 745.5,275.4 746,358.4 746.5,288.4 747,342.7 747.5,276.6 748,350.4 748.5,296.8 749,345.4 749.5,276.5 750,357.1 750.5,287.2 751,362.9 751.5,272.3 752,337.7 752.5,273.6 753,331.6 753.5,286 754,343.2 754.5,305.1 755,369 755.5,300.9 756,375 756.5,309.1 757,369.7 757.5,330 758,407.6 758.5,307.4 759,383.6 759.5,313.1 760,381.6 760.5,300.6 761,384.9 761.5,274.2 762,347 762.5,270.6 763,333.7 763.5,265.9 764,347 764.5,282.6 765,346.2 765.5,277.8 766,344.8 766.5,277.6 767,356.4 767.5,280.6 768,357.2 768.5,257.4 769,346.7 769.5,282.1 770,346.4 770.5,277.5 771,347.2 771.5,293.1 772,343.3 772.5,302.6 773,354 773.5,297.3 774,354.1 774.5,293.9 775,353.8 775.5,288.2 776,342.4 776.5,253.8 777,336.2 777.5,285 778,354.5 778.5,273.8 779,345.7 779.5,287 780,346.7 780.5,289.5 781,359.9 781.5,271.9 782,345.2 782.5,286.1 783,360.2 783.5,278.2 784,366.8 784.5,290.4 785,348.2 785.5,279.9 786,343.2 786.5,264.7 787,328.7 787.5,274.2 788,353 788.5,311.2 789,357.9 789.5,320.3 790,384.6 790.5,290.6 791,382.1 791.5,290 792,373.5 792.5,277.6 793,349.3 793.5,283.4 794,342.1 794.5,271.3 795,339.6 795.5,294.8 796,350.9 796.5,289.7 797,353.3 797.5,288.5 798,361.9 798.5,290.7 799,356.2 799.5,310.1 800,372.9 800.5,289.4 801,374.2 801.5,298.7 802,363.9 802.5,320.6 803,374.9 803.5,293.8 804,370.7 804.5,287 805,393.3 805.5,287.1 806,352.8 806.5,270.4 807,335.4 807.5,281 808,341.4 808.5,273.7 809,326.4 809.5,281 810,333.2 810.5,257.8 811,329.4 811.5,266.1 812,314.4 812.5,265.9 813,312.9 813.5,252.4 814,337.3 814.5,278.5 815,357 815.5,271.7 816,346 816.5,278.9 817,353.1 817.5,288 818,361.2 818.5,270.9 819,341.6 819.5,287.2 820,353.3 820.5,291 821,348 821.5,293.3 822,359.5 822.5,270.6 823,343.7 823.5,294 824,346.7 824.5,271.6 825,355.4 825.5,287.7 826,361.6 826.5,275.4 827,377.6 827.5,301.8 828,364.8 828.5,284.7 829,352.5 829.5,266.7 830,348.4 830.5,286.5 831,360 831.5,301.9 832,369.2 832.5,267.4 833,344 833.5,292.9 834,360.5 834.5,292.7 835,363.8 835.5,260.8 836,339.2 836.5,280.2 837,357.4 837.5,280.6 838,342 838.5,296.1 839,354.3 839.5,285.9 840,353.5 840.5,302.2 841,363.1 841.5,308.3 842,373.5 842.5,287.9 843,367.1 843.5,313.2 844,378.1 844.5,325.2 845,386.7 845.5,290.4 846,351.5 846.5,289.9 847,343.6 847.5,254.4 848,322.5 848.5,257.9 849,327 849.5,277.8 850,323.4 850.5,280 851,335.2 851.5,264.3 852,321.3 852.5,265.1 853,331.4 853.5,258.4 854,330" />
</g>
<path d="M148 532L162 532 M148 490.2L155.5 490.2 M148 448.5L162 448.5 M148 406.8L155.5 406.8 M148 365L162 365 M148 323.2L155.5 323.2 M148 281.5L162 281.5 M148 239.8L155.5 239.8 M148 198L162 198 M148 156.2L155.5 156.2 M148 114.5L162 114.5 M148 72.7L155.5 72.7 M148 31L162 31 M148 532L148 518 M218.6 532L218.6 524.5 M289.2 532L289.2 518 M359.8 532L359.8 524.5 M430.4 532L430.4 518 M501 532L501 524.5 M571.6 532L571.6 518 M642.2 532L642.2 524.5 M712.8 532L712.8 518 M783.4 532L783.4 524.5 M854 532L854 518" stroke="#000" stroke-width="1.8" fill="none"/>
<rect x="148" y="31" width="706" height="501" fill="none" stroke="#000" stroke-width="2.3"/>
<text x="84.50" y="537.95" font-size="25.42" font-weight="bold" textLength="49.24" lengthAdjust="spacingAndGlyphs">0.00</text>
<text x="84.51" y="454.45" font-size="25.42" font-weight="bold" textLength="48.89" lengthAdjust="spacingAndGlyphs">0.05</text>
<text x="84.50" y="370.95" font-size="25.42" font-weight="bold" textLength="49.24" lengthAdjust="spacingAndGlyphs">0.10</text>
<text x="84.51" y="287.45" font-size="25.42" font-weight="bold" textLength="48.89" lengthAdjust="spacingAndGlyphs">0.15</text>
<text x="84.50" y="203.95" font-size="25.42" font-weight="bold" textLength="49.24" lengthAdjust="spacingAndGlyphs">0.20</text>
<text x="84.51" y="120.45" font-size="25.42" font-weight="bold" textLength="48.89" lengthAdjust="spacingAndGlyphs">0.25</text>
<text x="84.50" y="36.92" font-size="25.37" font-weight="bold" textLength="49.24" lengthAdjust="spacingAndGlyphs">0.30</text>
<text x="140.09" y="566.76" font-size="24.72" font-weight="bold" textLength="14.89" lengthAdjust="spacingAndGlyphs">0</text>
<text x="274.65" y="566.76" font-size="24.72" font-weight="bold" textLength="28.41" lengthAdjust="spacingAndGlyphs">20</text>
<text x="416.59" y="566.76" font-size="24.72" font-weight="bold" textLength="27.89" lengthAdjust="spacingAndGlyphs">40</text>
<text x="556.97" y="566.76" font-size="24.72" font-weight="bold" textLength="28.47" lengthAdjust="spacingAndGlyphs">60</text>
<text x="698.36" y="566.76" font-size="24.72" font-weight="bold" textLength="28.33" lengthAdjust="spacingAndGlyphs">80</text>
<text x="831.49" y="566.76" font-size="24.72" font-weight="bold" textLength="42.90" lengthAdjust="spacingAndGlyphs">100</text>
<text x="430.64" y="602.60" font-size="30.38" font-weight="bold" textLength="141.44" lengthAdjust="spacingAndGlyphs">Time (ns)</text>
<text transform="translate(60.20,392.20) rotate(-90)" font-size="32.56" font-weight="bold" textLength="176.83" lengthAdjust="spacingAndGlyphs">RMSD (nm)</text>
<line x1="175" y1="52.1" x2="202" y2="52.1" stroke="#067EF6" stroke-width="1.6"/>
<text x="206.65" y="60.30" font-size="22.09" font-weight="bold" textLength="75.77" lengthAdjust="spacingAndGlyphs">PTGS2</text>
<line x1="175" y1="80.6" x2="202" y2="80.6" stroke="#FB7C7F" stroke-width="1.6"/>
<text x="206.67" y="89.10" font-size="22.67" font-weight="bold" textLength="91.23" lengthAdjust="spacingAndGlyphs">LigandA</text>
<line x1="175" y1="110.5" x2="202" y2="110.5" stroke="#AECC47" stroke-width="2.6"/>
<text x="206.65" y="118.40" font-size="22.09" font-weight="bold" textLength="92.39" lengthAdjust="spacingAndGlyphs">LigandB</text>
<polyline fill="none" stroke="#067EF6" stroke-width="1.1" stroke-linejoin="round" points="148.5,909.7 149,940.1 149.5,913.8 150,951.1 150.5,896.6 151,943.2 151.5,904.9 152,945.8 152.5,867 153,968.3 153.5,910 154,960 154.5,910.6 155,958 155.5,911.2 156,971.6 156.5,887.4 157,939.3 157.5,904.7 158,946.8 158.5,901.2 159,954 159.5,904.7 160,946.8 160.5,917.7 161,962.5 161.5,909.2 162,958.2 162.5,910.2 163,963.8 163.5,899.3 164,947.5 164.5,897.4 165,939.7 165.5,885.3 166,936.2 166.5,886.7 167,930.3 167.5,878.7 168,920.7 168.5,889.1 169,925.2 169.5,892.8 170,929.4 170.5,891.8 171,940.1 171.5,893.2 172,949.2 172.5,902.8 173,949.9 173.5,901.8 174,953.9 174.5,898.4 175,950.8 175.5,918.1 176,955.1 176.5,899.5 177,943.1 177.5,889.6 178,933.4 178.5,910.9 179,957.1 179.5,906.3 180,937.7 180.5,905.9 181,955.4 181.5,903 182,942.6 182.5,894.7 183,943 183.5,881.7 184,930 184.5,885.2 185,933.2 185.5,890.8 186,937.1 186.5,884.2 187,934 187.5,895.8 188,943 188.5,885.2 189,946.2 189.5,892.3 190,942.7 190.5,893.4 191,932.3 191.5,882.6 192,930.4 192.5,906.7 193,957.6 193.5,910.4 194,961.2 194.5,901.8 195,954.7 195.5,897.1 196,949.9 196.5,888.8 197,946.3 197.5,890.1 198,945.1 198.5,902.3 199,958.6 199.5,916.2 200,961.4 200.5,924.2 201,962.6 201.5,930.2 202,966.1 202.5,917.7 203,957.4 203.5,902.5 204,949.7 204.5,907.4 205,943.9 205.5,900.4 206,947.8 206.5,898 207,939.7 207.5,908.2 208,943.3 208.5,914.9 209,955.2 209.5,916.2 210,949.8 210.5,929.1 211,957 211.5,929.3 212,956 212.5,932.5 213,961.6 213.5,930 214,960.2 214.5,920.4 215,946.9 215.5,922.1 216,956.7 216.5,931 217,955.1 217.5,934.5 218,958.7 218.5,931.6 219,956.7 219.5,920.7 220,949.5 220.5,918.9 221,949.6 221.5,919.9 222,951 222.5,931.2 223,956.2 223.5,934.2 224,957 224.5,930.7 225,956.9 225.5,928.7 226,953.8 226.5,920.5 227,952.3 227.5,925.7 228,957.4 228.5,915.2 229,943.5 229.5,918.8 230,956.1 230.5,920.2 231,948.6 231.5,921.8 232,956.5 232.5,924.3 233,954.5 233.5,927.3 234,949.3 234.5,926.6 235,959.3 235.5,923 236,957.2 236.5,925.9 237,946.8 237.5,912 238,944.3 238.5,908.4 239,946.7 239.5,909.1 240,942.6 240.5,901.4 241,941.9 241.5,908.7 242,941.7 242.5,903.9 243,946 243.5,910.5 244,944.7 244.5,907.4 245,942.9 245.5,921.5 246,955.7 246.5,916.6 247,958.7 247.5,913.8 248,941.3 248.5,913 249,946.1 249.5,904.7 250,940.4 250.5,904.5 251,946.3 251.5,917.9 252,947.3 252.5,922.7 253,947.5 253.5,922 254,972.8 254.5,921.1 255,949.9 255.5,920.2 256,956.4 256.5,920.7 257,951.2 257.5,909 258,948.8 258.5,918 259,948.1 259.5,918.6 260,959.5 260.5,918 261,954 261.5,926.8 262,957.5 262.5,909.2 263,950.9 263.5,900.6 264,951.9 264.5,899.5 265,933.8 265.5,887.7 266,917.4 266.5,888.7 267,924.9 267.5,885.6 268,928.5 268.5,881 269,936 269.5,894.9 270,932.1 270.5,882.8 271,927 271.5,894.1 272,945.5 272.5,890.3 273,936.9 273.5,902.4 274,943 274.5,886 275,929.8 275.5,900.1 276,947.3 276.5,889.8 277,941.7 277.5,887.6 278,936.8 278.5,894.7 279,935.3 279.5,885.7 280,924.2 280.5,885.1 281,926.8 281.5,865.1 282,922.1 282.5,885.7 283,933.5 283.5,891.2 284,930.8 284.5,889.9 285,957 285.5,874.2 286,938.2 286.5,888.8 287,941.5 287.5,891.5 288,936.4 288.5,896.9 289,944.2 289.5,903.8 290,940.3 290.5,886.7 291,926.8 291.5,887 292,929.7 292.5,882.7 293,914.5 293.5,859.4 294,911.4 294.5,865.4 295,912.2 295.5,854 296,910 296.5,873.2 297,905 297.5,886 298,926.2 298.5,891.2 299,938.6 299.5,882.8 300,933.8 300.5,883.1 301,924.7 301.5,884.1 302,932.6 302.5,853.5 303,921.6 303.5,887.8 304,935.3 304.5,878.8 305,931 305.5,874.4 306,934.6 306.5,884.5 307,925.2 307.5,872.9 308,930.2 308.5,886 309,922.7 309.5,899.7 310,945.7 310.5,898.8 311,933.2 311.5,903.9 312,947.1 312.5,895.7 313,940.8 313.5,861.5 314,927.4 314.5,884.6 315,928.7 315.5,859.8 316,919 316.5,892.7 317,936.8 317.5,893 318,939.1 318.5,902.4 319,948.7 319.5,897.8 320,948.1 320.5,888.5 321,935.6 321.5,896.8 322,938.6 322.5,906.4 323,958.5 323.5,914.3 324,954.5 324.5,920.5 325,944.5 325.5,920.4 326,953.2 326.5,922.5 327,951.2 327.5,918.9 328,956 328.5,926.6 329,958.4 329.5,921.6 330,956.4 330.5,923.9 331,950.4 331.5,925.1 332,959.1 332.5,930.8 333,956.3 333.5,924.3 334,954.8 334.5,916.4 335,946.5 335.5,912.7 336,950.2 336.5,905.7 337,947.4 337.5,904 338,938.3 338.5,898.7 339,939.3 339.5,893.4 340,944.7 340.5,905 341,937.3 341.5,888.8 342,937.4 342.5,867.9 343,916.7 343.5,865.6 344,940.7 344.5,897.1 345,950.5 345.5,880.4 346,938.5 346.5,899.1 347,939.1 347.5,898.8 348,932.1 348.5,889.7 349,930.7 349.5,884 350,928.7 350.5,885.6 351,942.6 351.5,892.6 352,938.7 352.5,887.1 353,934.6 353.5,901.6 354,932.4 354.5,890.3 355,933.9 355.5,900.5 356,938.3 356.5,891.8 357,945.8 357.5,890.5 358,938.2 358.5,900.7 359,958.5 359.5,896.6 360,931.2 360.5,884.8 361,939.2 361.5,910.5 362,949.2 362.5,906.9 363,949.9 363.5,925.4 364,964.5 364.5,930 365,968.2 365.5,923.9 366,966.2 366.5,933.4 367,980.4 367.5,925.6 368,965.5 368.5,924.2 369,968.3 369.5,930.2 370,962.8 370.5,918.4 371,962.5 371.5,928.4 372,968.9 372.5,923.9 373,974.3 373.5,920.4 374,969 374.5,917.9 375,958.7 375.5,927.5 376,971.8 376.5,924.1 377,968.8 377.5,924.6 378,971.2 378.5,934.4 379,970.1 379.5,924.2 380,976.2 380.5,941.8 381,980.9 381.5,940.4 382,974.1 382.5,938 383,982.6 383.5,935.2 384,980.1 384.5,937.7 385,979.2 385.5,926.3 386,970.1 386.5,931.9 387,961.1 387.5,917.5 388,956.5 388.5,922.5 389,968.8 389.5,899 390,953.7 390.5,907.9 391,952.4 391.5,899.9 392,953.6 392.5,897 393,939.5 393.5,885.1 394,934.4 394.5,897.5 395,939.1 395.5,899.7 396,940 396.5,903.2 397,941.3 397.5,893.8 398,940.4 398.5,881 399,929.2 399.5,887.7 400,918.1 400.5,885.1 401,926 401.5,881.4 402,915.4 402.5,890.1 403,917.1 403.5,873.9 404,914 404.5,871.2 405,911 405.5,888.4 406,922 406.5,872.4 407,910.5 407.5,886.4 408,928.7 408.5,876.9 409,927 409.5,879.1 410,911.8 410.5,868.4 411,912.8 411.5,845.1 412,900 412.5,831.6 413,899.8 413.5,832.6 414,891.3 414.5,830.8 415,887.1 415.5,845.1 416,904.9 416.5,821.4 417,895.3 417.5,818.5 418,882.3 418.5,807.3 419,894.7 419.5,830.1 420,874.3 420.5,819.3 421,894.9 421.5,828.4 422,908.9 422.5,834.9 423,889.6 423.5,847 424,895.3 424.5,850.7 425,904.5 425.5,846.8 426,889 426.5,840.7 427,883.9 427.5,842.3 428,894.2 428.5,836.9 429,897.5 429.5,848.1 430,890.8 430.5,844.7 431,892.1 431.5,836.5 432,887.4 432.5,849.1 433,923.6 433.5,837 434,904.4 434.5,830.8 435,877.6 435.5,823.4 436,884 436.5,831.3 437,870.5 437.5,840.9 438,877.9 438.5,835.9 439,898.7 439.5,840 440,885.8 440.5,828.4 441,888.3 441.5,823.9 442,884.1 442.5,824 443,873.8 443.5,840.8 444,899.9 444.5,847.3 445,902.9 445.5,846.5 446,901.8 446.5,831.6 447,897.9 447.5,828.1 448,881.1 448.5,821.5 449,888.9 449.5,809.6 450,877.3 450.5,807 451,870.6 451.5,806.6 452,869.6 452.5,816.5 453,863.5 453.5,821.6 454,888.6 454.5,837.7 455,888.8 455.5,838 456,898.6 456.5,843.8 457,895.3 457.5,846.4 458,911.6 458.5,852 459,917.7 459.5,841.9 460,883.5 460.5,843.9 461,902.1 461.5,842.3 462,897 462.5,810.9 463,894.8 463.5,840.9 464,888.9 464.5,780 465,883 465.5,822.2 466,876.9 466.5,828.3 467,876.2 467.5,804.2 468,892 468.5,829.8 469,877.5 469.5,845.8 470,901.9 470.5,860.1 471,927.6 471.5,872 472,929.9 472.5,850.3 473,929.6 473.5,836.1 474,914.9 474.5,842.1 475,892.3 475.5,834.6 476,901.2 476.5,845.1 477,914.6 477.5,826.9 478,894.5 478.5,836.8 479,928.7 479.5,858.6 480,918.2 480.5,828.9 481,922.5 481.5,850.5 482,934.2 482.5,858.2 483,914.7 483.5,860.1 484,918 484.5,848.2 485,940.1 485.5,859.6 486,914.4 486.5,851.3 487,932.6 487.5,868.3 488,942.4 488.5,874.9 489,952.4 489.5,865.7 490,950.4 490.5,852.9 491,933.3 491.5,872.6 492,954.2 492.5,860.3 493,944.4 493.5,864.7 494,931.1 494.5,896.8 495,966.5 495.5,876.1 496,930.7 496.5,841.6 497,914 497.5,856.6 498,911.4 498.5,830.3 499,923.7 499.5,840.2 500,922.7 500.5,846.1 501,912.9 501.5,863 502,939.3 502.5,856.5 503,928.4 503.5,848.2 504,927.8 504.5,872.2 505,936.1 505.5,864.9 506,933 506.5,851.2 507,919.3 507.5,859.4 508,928 508.5,833.2 509,910.6 509.5,861.7 510,929.4 510.5,842.5 511,903.1 511.5,860.3 512,913.4 512.5,839.3 513,910.4 513.5,832.2 514,922.2 514.5,838.4 515,922.8 515.5,835 516,942.5 516.5,786 517,924.8 517.5,845.1 518,919.3 518.5,861.4 519,936.9 519.5,845.9 520,917 520.5,792 521,923.2 521.5,833.4 522,909 522.5,847.2 523,932.1 523.5,826.4 524,891.4 524.5,840 525,908.6 525.5,842.6 526,911.9 526.5,817.9 527,909.7 527.5,826.3 528,904.8 528.5,826.8 529,937.9 529.5,831.1 530,931 530.5,843.1 531,923 531.5,839.8 532,888.5 532.5,813.5 533,870 533.5,804.7 534,889.1 534.5,822.8 535,896.4 535.5,857.2 536,925.7 536.5,839.3 537,933.9 537.5,877.1 538,954 538.5,857 539,941.2 539.5,849.6 540,923.4 540.5,861.3 541,931.5 541.5,841.7 542,920.4 542.5,834.8 543,906.2 543.5,825.1 544,905.5 544.5,809.4 545,930.6 545.5,811.7 546,879.6 546.5,774 547,896.4 547.5,815.8 548,907.5 548.5,842.6 549,931.4 549.5,844.1 550,925.2 550.5,845.3 551,948.5 551.5,834.2 552,925.1 552.5,851.7 553,922.7 553.5,849.1 554,914.9 554.5,800 555,918.5 555.5,827.7 556,918.2 556.5,821.3 557,887.9 557.5,841.1 558,905.2 558.5,846.2 559,899.3 559.5,848.9 560,905.2 560.5,867.8 561,928.1 561.5,843 562,926.6 562.5,849.7 563,942 563.5,802.9 564,895.5 564.5,817.9 565,891.3 565.5,836.9 566,905.5 566.5,857.9 567,905.8 567.5,866.2 568,945.4 568.5,875.5 569,957.1 569.5,866.7 570,944 570.5,870.7 571,942.1 571.5,864.4 572,915.1 572.5,835.3 573,939.4 573.5,864.5 574,917 574.5,864.7 575,926.2 575.5,852.6 576,939.6 576.5,862.9 577,937.1 577.5,851 578,920.4 578.5,848.7 579,928.5 579.5,849.6 580,918.4 580.5,839.2 581,897 581.5,831.4 582,900.2 582.5,834.4 583,912.5 583.5,852.9 584,914.7 584.5,859.6 585,925.6 585.5,833.1 586,941.9 586.5,875.3 587,928.3 587.5,869.6 588,945.6 588.5,854.2 589,906.9 589.5,852.3 590,930.8 590.5,871.3 591,922.6 591.5,847.1 592,931.2 592.5,874.8 593,927.5 593.5,868.7 594,933.2 594.5,874.5 595,925.6 595.5,871.2 596,929 596.5,861.7 597,930.1 597.5,869.9 598,931.7 598.5,865.2 599,943.7 599.5,869.3 600,947.5 600.5,866 601,929.4 601.5,862 602,924.8 602.5,870.7 603,915.1 603.5,854.6 604,923.4 604.5,850.5 605,918 605.5,866 606,933.7 606.5,859.1 607,930 607.5,856.8 608,910 608.5,861.6 609,918.8 609.5,838.7 610,901.8 610.5,835.3 611,897.6 611.5,841.4 612,911.7 612.5,851.3 613,892 613.5,855.9 614,908.1 614.5,859.2 615,902.2 615.5,837.7 616,901.2 616.5,833.7 617,909.6 617.5,839.4 618,912.2 618.5,845.7 619,910.7 619.5,855 620,926.8 620.5,876.1 621,921.8 621.5,853.8 622,915.1 622.5,860.3 623,920 623.5,866.9 624,915.7 624.5,865.7 625,917.3 625.5,856.6 626,915.2 626.5,850.7 627,916.9 627.5,858.1 628,924.6 628.5,877.6 629,911.9 629.5,876 630,936.9 630.5,858.5 631,927.1 631.5,847.5 632,915.7 632.5,844.2 633,895.7 633.5,833 634,920.8 634.5,857 635,916.9 635.5,874.7 636,928 636.5,865.9 637,926 637.5,859 638,901.8 638.5,867.2 639,925.5 639.5,863.4 640,912.4 640.5,855.4 641,919.3 641.5,867.3 642,916.8 642.5,855.3 643,910.8 643.5,864.8 644,928.5 644.5,890.7 645,935.1 645.5,878.8 646,918.8 646.5,864.7 647,916.2 647.5,871 648,921.4 648.5,857.3 649,920 649.5,877.4 650,922.8 650.5,865.2 651,952.8 651.5,873 652,917.1 652.5,869.9 653,939.2 653.5,875.5 654,927.2 654.5,891.7 655,945.8 655.5,897.5 656,956.5 656.5,883.7 657,940.9 657.5,898.2 658,937.6 658.5,861.7 659,927.2 659.5,874.3 660,931.9 660.5,858.9 661,922 661.5,859.9 662,919.5 662.5,855.3 663,913.1 663.5,864.7 664,912.1 664.5,865.1 665,912.5 665.5,848.6 666,916.3 666.5,845.9 667,908.4 667.5,846.6 668,898.8 668.5,866.9 669,925.6 669.5,877.8 670,931.5 670.5,887.5 671,932.9 671.5,869.7 672,931.1 672.5,866.7 673,924.4 673.5,876.1 674,927.4 674.5,876.3 675,925.6 675.5,875 676,935.9 676.5,892.6 677,936.8 677.5,894.4 678,928.7 678.5,886 679,936.2 679.5,859.5 680,927.7 680.5,867.1 681,904.6 681.5,853.3 682,919.3 682.5,871.2 683,914.6 683.5,866.8 684,917.9 684.5,874.1 685,922.4 685.5,880.2 686,924 686.5,893.6 687,932.8 687.5,882.9 688,929.5 688.5,880.1 689,936.8 689.5,876.7 690,942.6 690.5,878.3 691,931.7 691.5,876.7 692,928.9 692.5,890.7 693,933 693.5,863 694,913.3 694.5,859.7 695,903.9 695.5,858.9 696,910.5 696.5,860.1 697,925.3 697.5,884.6 698,927.1 698.5,883.7 699,938.6 699.5,869.5 700,927.1 700.5,880 701,929.1 701.5,866.4 702,919 702.5,875.3 703,928.8 703.5,857.3 704,933.3 704.5,859 705,910.2 705.5,866 706,915.7 706.5,852.4 707,909.3 707.5,842 708,898.7 708.5,850 709,908.5 709.5,877.3 710,917.5 710.5,867.6 711,909.7 711.5,863.1 712,914.2 712.5,875.3 713,935 713.5,879.1 714,934.9 714.5,884.8 715,930.9 715.5,842.5 716,909.1 716.5,865.1 717,909.3 717.5,870.4 718,911.3 718.5,864.5 719,919.9 719.5,895.1 720,934.4 720.5,874.8 721,935.1 721.5,880 722,926.3 722.5,874.1 723,929 723.5,868 724,927.4 724.5,869.4 725,921.6 725.5,867 726,920.1 726.5,877.5 727,922 727.5,884.7 728,923.2 728.5,887.5 729,929.4 729.5,888.8 730,924.2 730.5,880.7 731,925.3 731.5,882.5 732,926.5 732.5,876.1 733,939.7 733.5,875.5 734,938.3 734.5,873.9 735,929.8 735.5,889.7 736,927.2 736.5,888.5 737,928.8 737.5,880.3 738,931 738.5,889.6 739,935.2 739.5,901.5 740,936.2 740.5,882.7 741,938.4 741.5,891 742,947.7 742.5,909.4 743,954.1 743.5,897.8 744,946.4 744.5,913.4 745,966.8 745.5,887.6 746,941.1 746.5,876.5 747,926.6 747.5,893.1 748,926.7 748.5,877.8 749,936.4 749.5,895.8 750,931.9 750.5,887.8 751,941.7 751.5,894.1 752,935.6 752.5,903.7 753,957.4 753.5,903.4 754,959.2 754.5,909 755,945.5 755.5,903.6 756,937.2 756.5,899.6 757,940.9 757.5,894.1 758,935.2 758.5,901.9 759,936.5 759.5,907.6 760,947.7 760.5,893 761,940.7 761.5,891.3 762,936 762.5,904.9 763,963 763.5,887.9 764,940.5 764.5,880.7 765,933.8 765.5,890.4 766,929.5 766.5,888.3 767,937.4 767.5,888 768,928.2 768.5,887.9 769,931.1 769.5,887.5 770,919 770.5,870 771,920.5 771.5,873.3 772,919.6 772.5,864.1 773,925.9 773.5,861.8 774,903.1 774.5,877.6 775,908.9 775.5,881.4 776,928.8 776.5,877.9 777,923.3 777.5,887.1 778,925.2 778.5,880 779,935.1 779.5,882.7 780,920.3 780.5,864 781,909.6 781.5,866.1 782,917 782.5,881.9 783,926.6 783.5,874.6 784,912 784.5,883.8 785,923 785.5,877.7 786,913.9 786.5,862.1 787,920.7 787.5,874 788,923.6 788.5,873.9 789,930.1 789.5,884.1 790,929.8 790.5,871.6 791,925.6 791.5,868.4 792,922.2 792.5,872.8 793,925.2 793.5,866.1 794,911.1 794.5,875.6 795,928.4 795.5,880.4 796,932.8 796.5,873.2 797,922.2 797.5,877.8 798,933.4 798.5,870.3 799,918.9 799.5,874.5 800,920.9 800.5,874.9 801,925.9 801.5,872.8 802,920.5 802.5,882.1 803,924 803.5,887.9 804,926.7 804.5,872 805,921.4 805.5,871.9 806,931.1 806.5,884.5 807,917.8 807.5,881.2 808,939.7 808.5,882.3 809,930.5 809.5,888.4 810,934.2 810.5,881.1 811,934.4 811.5,875.5 812,911.1 812.5,851.4 813,899.8 813.5,865.3 814,905.2 814.5,848.1 815,907.4 815.5,876.1 816,918.2 816.5,887 817,928.5 817.5,874.4 818,916.8 818.5,876 819,929.6 819.5,864.7 820,924.8 820.5,865.5 821,914.6 821.5,873.4 822,917.5 822.5,875.3 823,925.4 823.5,879.3 824,937.7 824.5,877.1 825,920.5 825.5,866.2 826,916 826.5,875.7 827,919.8 827.5,866.3 828,916.6 828.5,861.6 829,894.1 829.5,862.5 830,903.6 830.5,856.1 831,893.7 831.5,869.8 832,910.1 832.5,884.4 833,935.6 833.5,898.1 834,937.2 834.5,907.3 835,949.1 835.5,896.7 836,955.2 836.5,900.9 837,942.3 837.5,891 838,934.5 838.5,899.8 839,939.6 839.5,871.6 840,924.2 840.5,877.7 841,931.2 841.5,868.6 842,921 842.5,875.8 843,913.8 843.5,859.6 844,922.1 844.5,876.5 845,929.3 845.5,871.4 846,924.5 846.5,859.5 847,922.6 847.5,872.9 848,915.3 848.5,864.4 849,909.6 849.5,864.1 850,912.7 850.5,864.4 851,908.4 851.5,858.1 852,911.2 852.5,868.6 853,908.6 853.5,866.9 854,915.4" />
<polyline fill="none" stroke="#FB7C7F" stroke-width="1.1" stroke-linejoin="round" points="148.5,982.4 149,1029.5 149.5,964 150,1019.5 150.5,969.5 151,1024 151.5,948.9 152,1012 152.5,951.2 153,1022.3 153.5,953.6 154,1015.1 154.5,956.5 155,1021.5 155.5,967.9 156,1038.1 156.5,988.5 157,1030 157.5,984.2 158,1028.7 158.5,977 159,1027.4 159.5,953.9 160,1015.5 160.5,943.3 161,994.1 161.5,947.7 162,995 162.5,944.7 163,1004.2 163.5,972.7 164,1035.9 164.5,965.1 165,1015.6 165.5,965.2 166,1013.9 166.5,965.9 167,1034.7 167.5,963 168,1010.8 168.5,966.1 169,1009.5 169.5,962.3 170,1021.9 170.5,958.4 171,1006.1 171.5,942 172,996.5 172.5,933.4 173,992.5 173.5,925.8 174,993.3 174.5,939 175,987 175.5,941.7 176,980.2 176.5,932 177,985.7 177.5,931 178,969.2 178.5,915.9 179,973.7 179.5,934.7 180,976.2 180.5,923.1 181,982.4 181.5,949.3 182,992.4 182.5,936 183,999.7 183.5,939.8 184,978.5 184.5,924 185,990.8 185.5,923 186,982 186.5,927.1 187,972.8 187.5,933.1 188,970.7 188.5,927.1 189,977 189.5,916 190,958.7 190.5,932.8 191,979.2 191.5,941.8 192,992.7 192.5,915 193,989.3 193.5,928.7 194,984.1 194.5,918.8 195,975 195.5,919.3 196,954.1 196.5,915.8 197,962.3 197.5,918.8 198,963.8 198.5,938.7 199,982.2 199.5,937.9 200,982.2 200.5,958 201,996.3 201.5,970.9 202,1016.9 202.5,967.5 203,1008.4 203.5,973 204,1019.2 204.5,955.2 205,1006 205.5,972.5 206,1012 206.5,972.9 207,1002.8 207.5,970.6 208,1014.6 208.5,988.6 209,1021.1 209.5,976.6 210,1026.9 210.5,978.6 211,1031.6 211.5,980.5 212,1025.4 212.5,989.3 213,1024.5 213.5,986.8 214,1043.6 214.5,1000.1 215,1037.9 215.5,986.1 216,1033.4 216.5,990.2 217,1045.8 217.5,979.7 218,1031.7 218.5,1000 219,1038.2 219.5,988.2 220,1026.3 220.5,994.6 221,1036.1 221.5,993.2 222,1026.8 222.5,982.7 223,1025.8 223.5,978 224,1017.3 224.5,965.5 225,1013.7 225.5,985.3 226,1026.8 226.5,980.2 227,1024.7 227.5,969.9 228,1029 228.5,988.3 229,1026.5 229.5,975.2 230,1019.6 230.5,980 231,1031.2 231.5,977.8 232,1021 232.5,984.4 233,1036.2 233.5,975.9 234,1023 234.5,970.7 235,1002.2 235.5,964.3 236,1015.7 236.5,955.8 237,998 237.5,953.9 238,988.1 238.5,937.8 239,991.8 239.5,933.2 240,987.2 240.5,934.3 241,988.8 241.5,953.1 242,998.4 242.5,956.2 243,1006.3 243.5,954.8 244,998.9 244.5,952.9 245,999.1 245.5,946.6 246,996.4 246.5,943.6 247,989.7 247.5,936.5 248,983.6 248.5,931.8 249,972.3 249.5,931.7 250,964.5 250.5,933.6 251,974.6 251.5,933.2 252,971 252.5,949.4 253,983.4 253.5,950.1 254,987.9 254.5,944 255,976 255.5,937.3 256,972.8 256.5,925.8 257,976.9 257.5,942.8 258,971.1 258.5,937.3 259,977 259.5,942.3 260,983.5 260.5,929.3 261,976.8 261.5,947.4 262,985.9 262.5,950.1 263,977.2 263.5,934.6 264,988.3 264.5,949.6 265,989.2 265.5,941.3 266,997.1 266.5,941.8 267,996.8 267.5,959.7 268,1013.7 268.5,964.4 269,999.4 269.5,965.8 270,1005.7 270.5,959.4 271,1025.3 271.5,939.9 272,986.2 272.5,955.1 273,996.2 273.5,943.2 274,990.1 274.5,960.1 275,1006.3 275.5,964.8 276,1008.7 276.5,979.7 277,1013.9 277.5,972.6 278,1027.8 278.5,969.2 279,1012.8 279.5,969.4 280,1010.4 280.5,975.5 281,1024 281.5,959.2 282,1004.4 282.5,963.3 283,1012.8 283.5,965.3 284,1015 284.5,952 285,1003 285.5,960.8 286,997.7 286.5,957.1 287,1002.1 287.5,953.4 288,1010.1 288.5,978.5 289,1030 289.5,976 290,1031.2 290.5,991.5 291,1035.6 291.5,974.5 292,1021.8 292.5,991 293,1025.5 293.5,995 294,1043.9 294.5,986.9 295,1051.4 295.5,998.2 296,1045.6 296.5,1005.6 297,1057.1 297.5,985.6 298,1045.7 298.5,987 299,1032.5 299.5,987 300,1045.7 300.5,989.8 301,1078 301.5,990.9 302,1024.7 302.5,970.2 303,1030.3 303.5,977.4 304,1026.7 304.5,977.1 305,1037.9 305.5,992.9 306,1052.6 306.5,997.1 307,1037.6 307.5,1002.3 308,1045 308.5,984.8 309,1054.8 309.5,976.5 310,1026.3 310.5,975.4 311,1036.8 311.5,986.8 312,1030.4 312.5,991.9 313,1046.1 313.5,992.3 314,1045 314.5,974.7 315,1034.7 315.5,975.6 316,1025.1 316.5,967.8 317,1012.2 317.5,963.5 318,1017.1 318.5,969.8 319,1026.2 319.5,972.4 320,1025.9 320.5,986.5 321,1035.3 321.5,979.9 322,1039 322.5,980.5 323,1042 323.5,994.6 324,1051.4 324.5,979.5 325,1032.5 325.5,1001.7 326,1045.2 326.5,1004.1 327,1051.1 327.5,993.3 328,1042.7 328.5,981.5 329,1043.1 329.5,980.5 330,1026.8 330.5,964 331,1014.6 331.5,979.6 332,1037.8 332.5,985.3 333,1047.3 333.5,987.4 334,1037.8 334.5,971.4 335,1042.8 335.5,987.7 336,1043.1 336.5,999.3 337,1037.8 337.5,997.8 338,1040.5 338.5,991.8 339,1035.2 339.5,989.4 340,1042.9 340.5,977 341,1029.8 341.5,979.7 342,1037 342.5,987 343,1037.3 343.5,972.6 344,1027.2 344.5,979.9 345,1038 345.5,985.2 346,1048.6 346.5,997.6 347,1030.9 347.5,985.7 348,1038.1 348.5,994.6 349,1039 349.5,1002.3 350,1039.6 350.5,990.5 351,1035.8 351.5,990.8 352,1040.6 352.5,961.7 353,1022 353.5,963.7 354,1017.8 354.5,978.1 355,1022.6 355.5,992.3 356,1039.2 356.5,988.5 357,1035.8 357.5,994.2 358,1033.7 358.5,965.7 359,1032.2 359.5,972.1 360,1010.4 360.5,977.1 361,1009.3 361.5,973 362,1002.6 362.5,976.5 363,1015.8 363.5,977.7 364,1023.7 364.5,986 365,1012.9 365.5,978.5 366,1021 366.5,983.5 367,1022.9 367.5,989.3 368,1023.1 368.5,982.8 369,1021.3 369.5,984 370,1027.6 370.5,990.6 371,1024.3 371.5,973.7 372,1007.4 372.5,963.2 373,997.4 373.5,958.7 374,997.7 374.5,948.7 375,992.3 375.5,955.3 376,998.1 376.5,952.9 377,995.8 377.5,973.6 378,1007.7 378.5,965.8 379,1008.3 379.5,968.8 380,1010.1 380.5,973.3 381,1012.6 381.5,977.2 382,1012 382.5,979.6 383,1015 383.5,975.8 384,1023.4 384.5,985.3 385,1016 385.5,994.4 386,1028.7 386.5,970.9 387,1029.4 387.5,970 388,1016.4 388.5,948.1 389,1032.6 389.5,946.4 390,996.3 390.5,944.4 391,1002.2 391.5,893.5 392,984.8 392.5,944.8 393,1013.9 393.5,956.3 394,1019.3 394.5,951.6 395,1023.7 395.5,959.9 396,1021.4 396.5,927 397,1010.8 397.5,937.3 398,1020.1 398.5,943.9 399,1029.4 399.5,956.5 400,1011 400.5,930.8 401,1011.7 401.5,956.8 402,1024.5 402.5,952.2 403,1030.1 403.5,949.5 404,1014.4 404.5,965.6 405,1041.1 405.5,969.2 406,1053.2 406.5,999.4 407,1073.5 407.5,989.5 408,1053.1 408.5,954.2 409,1027.8 409.5,959.1 410,1016.3 410.5,961.7 411,1031.2 411.5,927 412,1001.8 412.5,953.2 413,1013.4 413.5,953.9 414,1027.3 414.5,932.8 415,1022.5 415.5,936 416,1018.9 416.5,936.6 417,1013.1 417.5,926.3 418,1022.2 418.5,943.8 419,1022.6 419.5,936.7 420,1035.6 420.5,951.3 421,1024.2 421.5,949.5 422,1022 422.5,940.6 423,1017.2 423.5,938.9 424,1000.1 424.5,944.6 425,1035.2 425.5,965.7 426,1023.6 426.5,947.8 427,1003.9 427.5,934.4 428,1017.5 428.5,942.8 429,1016.7 429.5,918.6 430,998.3 430.5,897.4 431,971.2 431.5,928.9 432,983 432.5,920.3 433,998 433.5,927.2 434,1000.7 434.5,963.9 435,1040 435.5,954.1 436,1025.1 436.5,929.5 437,1004 437.5,953.5 438,1019.3 438.5,949.7 439,1021.3 439.5,981 440,1036.2 440.5,960.2 441,1042.6 441.5,954.4 442,1040 442.5,942.3 443,1021.3 443.5,947.9 444,1029.2 444.5,969.7 445,1025.4 445.5,957.6 446,1025.8 446.5,978 447,1037.2 447.5,990.7 448,1031.2 448.5,986.9 449,1048.5 449.5,981.2 450,1048.9 450.5,997.3 451,1035 451.5,979.6 452,1022.1 452.5,972.5 453,1013.2 453.5,967.1 454,1033.4 454.5,977.3 455,1074 455.5,997.2 456,1031.3 456.5,972.8 457,1027.9 457.5,971.3 458,1027.4 458.5,988.5 459,1030.1 459.5,964.5 460,1021.3 460.5,964 461,1057.4 461.5,986.5 462,1032.9 462.5,987 463,1046.9 463.5,1000.7 464,1060.1 464.5,989.4 465,1054.7 465.5,1000.2 466,1045.6 466.5,1000.4 467,1045.2 467.5,982.8 468,1045.5 468.5,981.3 469,1023.3 469.5,969.5 470,1017.8 470.5,975 471,1022 471.5,974.6 472,1011.9 472.5,980 473,1025.6 473.5,983 474,1047.6 474.5,976.3 475,1020.6 475.5,985.9 476,1031.9 476.5,979 477,1023.4 477.5,982.9 478,1041.7 478.5,991.8 479,1046.9 479.5,982.3 480,1037.8 480.5,978.2 481,1038.2 481.5,982.7 482,1035.3 482.5,978.8 483,1055.8 483.5,964.4 484,1019.2 484.5,960.2 485,1016.4 485.5,961.1 486,1013 486.5,977.2 487,1034.8 487.5,984.1 488,1038.5 488.5,985.3 489,1025.7 489.5,958.1 490,1019.4 490.5,965.6 491,1014.7 491.5,967.9 492,1019.9 492.5,989.3 493,1030 493.5,980.9 494,1027.2 494.5,977.2 495,1054.1 495.5,986.4 496,1041.8 496.5,985.8 497,1031.5 497.5,966.2 498,1023.4 498.5,974.9 499,1026.9 499.5,972.5 500,1039.3 500.5,967.8 501,1027.2 501.5,979.1 502,1019.9 502.5,971.2 503,1022.2 503.5,981.8 504,1043.8 504.5,972.3 505,1032.2 505.5,968.4 506,1032.8 506.5,966.7 507,1034.1 507.5,973.8 508,1031.1 508.5,973.4 509,1025.7 509.5,978.5 510,1032.1 510.5,973.7 511,1034.6 511.5,963.2 512,1039 512.5,981.4 513,1034.1 513.5,979.3 514,1048 514.5,976.8 515,1053.4 515.5,971 516,1026.9 516.5,967.9 517,1035.2 517.5,964.3 518,1030.3 518.5,982.9 519,1020.4 519.5,962.8 520,1032.5 520.5,968.4 521,1018.6 521.5,961.3 522,1007.3 522.5,949.2 523,1010 523.5,969.2 524,1021.4 524.5,964.1 525,1025.6 525.5,971.6 526,1028.8 526.5,969.2 527,1019.8 527.5,977.8 528,1024.8 528.5,990.4 529,1040.9 529.5,977.4 530,1032 530.5,982.9 531,1027.4 531.5,988.9 532,1037.3 532.5,965.1 533,1021.2 533.5,952 534,1023.7 534.5,959.1 535,1011.5 535.5,952 536,1012.1 536.5,964.2 537,1035.7 537.5,981.9 538,1031.5 538.5,986.6 539,1027.5 539.5,982.9 540,1039.8 540.5,967.8 541,1031.6 541.5,971.3 542,1030 542.5,966.3 543,1031.1 543.5,972.3 544,1013 544.5,951 545,1018.4 545.5,958.1 546,1015.9 546.5,971.5 547,1015.4 547.5,968.8 548,1035.8 548.5,982.7 549,1032 549.5,983.4 550,1035.6 550.5,987.3 551,1061.5 551.5,993.2 552,1051.3 552.5,1008.3 553,1057.5 553.5,974.3 554,1043.5 554.5,977.3 555,1027.7 555.5,953.2 556,1021.5 556.5,967.9 557,1013.2 557.5,978 558,1021.7 558.5,978.8 559,1039.9 559.5,993.8 560,1035.1 560.5,957 561,1014.1 561.5,953 562,1004.8 562.5,957.8 563,1021.4 563.5,960.3 564,1021.6 564.5,979.4 565,1033.4 565.5,989.2 566,1031.1 566.5,965.3 567,1028.2 567.5,969.2 568,1033.2 568.5,961.8 569,1025.3 569.5,979.1 570,1038.4 570.5,973.1 571,1031.8 571.5,971.4 572,1025.5 572.5,986.3 573,1029.7 573.5,980.6 574,1039.8 574.5,977.4 575,1033.6 575.5,971.7 576,1037.2 576.5,971.8 577,1026.1 577.5,975.7 578,1037.1 578.5,959.5 579,1025.3 579.5,961.3 580,1014.5 580.5,982.9 581,1028.1 581.5,967.7 582,1007 582.5,955.8 583,1011.5 583.5,977.1 584,1030 584.5,968.7 585,1021.2 585.5,966.1 586,1029.3 586.5,979.1 587,1046.2 587.5,979.1 588,1030.8 588.5,965.9 589,1031.9 589.5,969.5 590,1038.5 590.5,964.8 591,1020.4 591.5,981.8 592,1025.9 592.5,963.3 593,1035.4 593.5,989.1 594,1045.2 594.5,987 595,1041.4 595.5,975.4 596,1039.8 596.5,973.2 597,1033.5 597.5,989.7 598,1029.6 598.5,969.5 599,1025.5 599.5,977.4 600,1044.1 600.5,966 601,1022.4 601.5,965.8 602,1025.2 602.5,962.8 603,1007.9 603.5,962.8 604,1030.4 604.5,968.9 605,1036.7 605.5,960.2 606,1032 606.5,972.2 607,1037.1 607.5,955 608,1019.2 608.5,959.2 609,1020.3 609.5,947.3 610,1020.7 610.5,955.2 611,1001.6 611.5,949.9 612,1006.4 612.5,931.8 613,1018.5 613.5,976.1 614,1026.1 614.5,975.5 615,1030.9 615.5,971.7 616,1031 616.5,972.3 617,1030 617.5,971.8 618,1019.6 618.5,945.8 619,997.6 619.5,951.6 620,1027.8 620.5,966.2 621,1024.1 621.5,971.5 622,1020 622.5,987.7 623,1048.5 623.5,956.9 624,1051.6 624.5,974.6 625,1040.2 625.5,965.1 626,1039.6 626.5,968.8 627,1015.4 627.5,969.9 628,1025.1 628.5,957 629,1020.3 629.5,954.6 630,1015.5 630.5,960.6 631,1011.3 631.5,977.3 632,1025.1 632.5,972.2 633,1030.7 633.5,980.5 634,1026.5 634.5,966.1 635,1029.5 635.5,955.1 636,1022.5 636.5,954.1 637,1019.2 637.5,975.5 638,1031.3 638.5,967.1 639,1019.1 639.5,979.3 640,1027.1 640.5,974.6 641,1030.9 641.5,974 642,1022.4 642.5,979 643,1018.5 643.5,963.9 644,1030.9 644.5,972.2 645,1022.6 645.5,992.1 646,1032.6 646.5,990 647,1038.8 647.5,970.5 648,1033.5 648.5,981.7 649,1039.2 649.5,980.4 650,1031.7 650.5,981 651,1039.7 651.5,1006.6 652,1062.2 652.5,969 653,1043 653.5,981.7 654,1043.4 654.5,950.8 655,1029 655.5,955.5 656,1029.3 656.5,957.8 657,1017.6 657.5,976.7 658,1023.5 658.5,988.1 659,1040.2 659.5,981.8 660,1041.9 660.5,977.8 661,1035.3 661.5,990.9 662,1037.5 662.5,975.9 663,1033.7 663.5,977.8 664,1037.5 664.5,976.9 665,1054.4 665.5,967.1 666,1034 666.5,973.4 667,1035.6 667.5,983.5 668,1039.2 668.5,983.7 669,1044.8 669.5,988.6 670,1032.2 670.5,982.4 671,1030.5 671.5,974.5 672,1043.3 672.5,990.2 673,1029.3 673.5,993.7 674,1055.7 674.5,987.2 675,1038.8 675.5,1006.3 676,1053.4 676.5,981.8 677,1036.7 677.5,980.8 678,1036 678.5,968.6 679,1032 679.5,966.1 680,1016.4 680.5,992.6 681,1045.4 681.5,979.6 682,1048.1 682.5,972.5 683,1026.3 683.5,973.8 684,1015.5 684.5,970.3 685,1037.4 685.5,975.3 686,1029 686.5,981.1 687,1018.1 687.5,984.6 688,1055.1 688.5,990.5 689,1053.4 689.5,974.5 690,1039 690.5,979.9 691,1053.1 691.5,975.6 692,1029.5 692.5,964.4 693,1031.5 693.5,935 694,1004.4 694.5,978.3 695,1033 695.5,951.8 696,1027.1 696.5,957.5 697,1008.7 697.5,974.8 698,1026.4 698.5,954.6 699,1008.6 699.5,960.6 700,1013.7 700.5,958.6 701,1023.2 701.5,958.4 702,1030.6 702.5,976 703,1034.8 703.5,986 704,1023.1 704.5,983.6 705,1044.4 705.5,994.4 706,1045 706.5,982.4 707,1043 707.5,993.3 708,1042.7 708.5,982.5 709,1050.1 709.5,984.1 710,1037.3 710.5,983.9 711,1046.4 711.5,972.7 712,1041.6 712.5,963.1 713,1028.3 713.5,970.3 714,1023.4 714.5,952.6 715,1001.6 715.5,961.5 716,1007.1 716.5,962.4 717,1026.7 717.5,965.9 718,1030.7 718.5,973.7 719,1044.1 719.5,987 720,1032.5 720.5,995.5 721,1036.7 721.5,978.3 722,1040.6 722.5,980.2 723,1050.9 723.5,982.1 724,1043.7 724.5,985.1 725,1025.9 725.5,975.5 726,1033.9 726.5,975.6 727,1030.9 727.5,961.1 728,1011.9 728.5,981.7 729,1032.7 729.5,954.3 730,1017.2 730.5,958.6 731,1026.7 731.5,956.9 732,1022.1 732.5,958.3 733,1019.6 733.5,949.4 734,1008.7 734.5,971.1 735,1026.7 735.5,966.6 736,1015.3 736.5,968.6 737,1019.2 737.5,985 738,1022.3 738.5,974.1 739,1029.2 739.5,972.4 740,1028.5 740.5,978.4 741,1033.4 741.5,993 742,1044.9 742.5,1000.1 743,1051 743.5,993.8 744,1047.8 744.5,980.2 745,1043.7 745.5,976.1 746,1024.7 746.5,979.5 747,1019.1 747.5,963.3 748,1016.9 748.5,979.4 749,1025.5 749.5,968.3 750,1040.4 750.5,974.6 751,1027.5 751.5,963.1 752,1024.7 752.5,980.6 753,1039.3 753.5,966.6 754,1034.7 754.5,965.7 755,1007.3 755.5,977.9 756,1038.1 756.5,971.5 757,1018.6 757.5,977.2 758,1037.4 758.5,992.4 759,1033.6 759.5,975 760,1028.1 760.5,966.7 761,1041.2 761.5,969.3 762,1030.9 762.5,954.6 763,1021.6 763.5,970.4 764,1020.9 764.5,968.9 765,1035.1 765.5,980.1 766,1037.7 766.5,979 767,1032.5 767.5,973.3 768,1038.8 768.5,997.8 769,1036.1 769.5,988.1 770,1045.4 770.5,1005.4 771,1050.6 771.5,975.1 772,1036.2 772.5,970.4 773,1030.4 773.5,960 774,1026 774.5,959.5 775,1010.8 775.5,972.8 776,1022.8 776.5,958.4 777,1009.5 777.5,972.5 778,1020.7 778.5,979.8 779,1040 779.5,978.7 780,1029.9 780.5,979.2 781,1024.2 781.5,974.8 782,1018.6 782.5,955.1 783,1005.9 783.5,965.7 784,1035.6 784.5,989.1 785,1032.6 785.5,981.4 786,1051.9 786.5,984.8 787,1046.6 787.5,988.6 788,1048.4 788.5,981.6 789,1038.1 789.5,970.1 790,1033.3 790.5,974.9 791,1032.3 791.5,965.9 792,1018.4 792.5,973.1 793,1027.5 793.5,976.6 794,1033.1 794.5,977.4 795,1025.5 795.5,947.4 796,1036.4 796.5,965.2 797,1016.9 797.5,958.4 798,1025.1 798.5,955.5 799,1010.1 799.5,959.2 800,1029.7 800.5,979 801,1041 801.5,990.3 802,1051.4 802.5,986.7 803,1058.8 803.5,993.5 804,1044 804.5,982.3 805,1042.4 805.5,972.6 806,1035.4 806.5,973.8 807,1028.8 807.5,979.4 808,1024.3 808.5,966.7 809,1019.5 809.5,948.1 810,1045.7 810.5,957 811,1018.2 811.5,950.6 812,1020.7 812.5,978.7 813,1028.4 813.5,967 814,1028.9 814.5,976.4 815,1031.2 815.5,982.9 816,1049.7 816.5,989.3 817,1036.8 817.5,990.2 818,1041.3 818.5,998.6 819,1051.7 819.5,996.9 820,1040.1 820.5,988.1 821,1045.4 821.5,975.9 822,1031.9 822.5,981.4 823,1043.4 823.5,980.9 824,1034.1 824.5,981.2 825,1030.7 825.5,967.7 826,1028.5 826.5,971 827,1032.8 827.5,975 828,1028.8 828.5,974.8 829,1024.7 829.5,949.5 830,1029.1 830.5,981 831,1033.5 831.5,983.1 832,1031.3 832.5,1000 833,1056.3 833.5,1004.2 834,1055.2 834.5,1002.9 835,1037.3 835.5,994.8 836,1049.8 836.5,988.9 837,1044.2 837.5,982 838,1032.2 838.5,961.6 839,1031.5 839.5,975.3 840,1029.8 840.5,971.5 841,1030 841.5,975.6 842,1026.6 842.5,975.9 843,1041.6 843.5,984.9 844,1042.7 844.5,978.1 845,1036.3 845.5,1006.3 846,1057 846.5,983 847,1049.2 847.5,992 848,1028.7 848.5,987.7 849,1029.9 849.5,983.7 850,1018.5 850.5,973.5 851,1017.2 851.5,992.7 852,1032.3 852.5,991.6 853,1035.9 853.5,980.9 854,1039.6" />
<polyline fill="none" stroke="#AECC47" stroke-width="1.1" stroke-linejoin="round" points="148.5,984.1 149,1038.2 149.5,979.2 150,1041 150.5,987.4 151,1053.9 151.5,994.3 152,1071.8 152.5,981.3 153,1054 153.5,991.5 154,1047.7 154.5,984.7 155,1045.6 155.5,979.1 156,1042.7 156.5,957.7 157,1024.1 157.5,969.8 158,1014.9 158.5,972 159,1030.1 159.5,946.1 160,1026.8 160.5,975.3 161,1043.5 161.5,972.1 162,1024.7 162.5,941.7 163,1024.3 163.5,961.6 164,1025.6 164.5,952.5 165,1023.3 165.5,950.1 166,1026.4 166.5,951.5 167,1032.3 167.5,949.1 168,1027.9 168.5,949.6 169,1033.4 169.5,943.2 170,1011.7 170.5,957.9 171,1031.5 171.5,962 172,1033.4 172.5,956.3 173,1038.7 173.5,961.4 174,1016.2 174.5,951.9 175,1017.3 175.5,943.1 176,1017 176.5,969.9 177,1028.1 177.5,969.7 178,1016.4 178.5,987.8 179,1045.9 179.5,983.3 180,1074.3 180.5,1002.6 181,1049.5 181.5,997.4 182,1042.4 182.5,1006.1 183,1052.1 183.5,990.9 184,1056.2 184.5,1005.1 185,1042.7 185.5,999.4 186,1045.7 186.5,982.6 187,1046.8 187.5,999.2 188,1048 188.5,986.1 189,1032.1 189.5,979.3 190,1040.6 190.5,978.5 191,1032.8 191.5,978.4 192,1027.9 192.5,972.2 193,1035.7 193.5,966.2 194,1030.2 194.5,956.5 195,1017.6 195.5,973.9 196,1034 196.5,979.2 197,1033.6 197.5,989 198,1043.3 198.5,991.2 199,1038.7 199.5,991.8 200,1033.9 200.5,986.2 201,1056.2 201.5,985.5 202,1043.5 202.5,992.5 203,1038.7 203.5,966.1 204,1014.9 204.5,988 205,1032.7 205.5,973.3 206,1039.1 206.5,968.1 207,1018.8 207.5,956.7 208,1016 208.5,951.9 209,1034.2 209.5,962.6 210,1029.7 210.5,964.9 211,1015.9 211.5,947 212,1036.5 212.5,944.1 213,1014.9 213.5,945.5 214,1028.5 214.5,968.3 215,1015.5 215.5,948.9 216,1028.9 216.5,972 217,1033.7 217.5,936.7 218,1019.3 218.5,963.7 219,1034.4 219.5,952.5 220,1026.8 220.5,948.7 221,1024.2 221.5,935.9 222,1022.1 222.5,934.2 223,1016.6 223.5,931.5 224,1012.2 224.5,940.7 225,1013.1 225.5,947.4 226,1015.5 226.5,962.4 227,1024.9 227.5,948.2 228,1034.9 228.5,946.7 229,1041.9 229.5,969.3 230,1014.4 230.5,956 231,1014 231.5,952.6 232,1032.6 232.5,973.1 233,1023.4 233.5,967.3 234,1028.4 234.5,964.3 235,1018.2 235.5,955.5 236,1020.7 236.5,974.5 237,1037.3 237.5,984 238,1030.7 238.5,985.3 239,1030.7 239.5,994.4 240,1047.2 240.5,998.7 241,1042.2 241.5,1002.1 242,1040.3 242.5,994.1 243,1041.4 243.5,993.5 244,1028.6 244.5,987.4 245,1033.6 245.5,988.7 246,1037.1 246.5,992.5 247,1044.2 247.5,981 248,1038.9 248.5,997.1 249,1044.8 249.5,982.3 250,1037 250.5,981.3 251,1029.8 251.5,1000.1 252,1041 252.5,996.9 253,1032 253.5,1006.7 254,1045.9 254.5,994.4 255,1026.3 255.5,993.7 256,1029 256.5,980.8 257,1021.9 257.5,981.7 258,1033.4 258.5,980.4 259,1031.5 259.5,991.5 260,1030.7 260.5,996.7 261,1028.5 261.5,984.4 262,1039 262.5,981.3 263,1024 263.5,972.2 264,1017.1 264.5,977.4 265,1023.8 265.5,992.2 266,1030.4 266.5,995.7 267,1047.5 267.5,1002.9 268,1028.8 268.5,998.8 269,1036.3 269.5,1014.9 270,1045.8 270.5,1008.3 271,1036.8 271.5,1010.7 272,1033.8 272.5,1011.7 273,1041.8 273.5,1016 274,1045.2 274.5,1007.3 275,1050 275.5,1022.9 276,1061.4 276.5,1010.3 277,1051.1 277.5,1015 278,1050.4 278.5,1007.2 279,1042.9 279.5,999.9 280,1035.1 280.5,1009 281,1036.3 281.5,996.8 282,1028.7 282.5,1002 283,1040.5 283.5,998.9 284,1028.9 284.5,1000.7 285,1028.2 285.5,1011.8 286,1048.8 286.5,1000.1 287,1039.2 287.5,1003.9 288,1033.9 288.5,1009.3 289,1040.8 289.5,999 290,1034.5 290.5,993.1 291,1021.8 291.5,975.9 292,1005.6 292.5,957.2 293,984.9 293.5,944 294,974.3 294.5,931.2 295,960.4 295.5,939 296,964.9 296.5,937.7 297,962.9 297.5,938.4 298,962.8 298.5,936.1 299,967.1 299.5,938.8 300,972 300.5,940.8 301,967.1 301.5,946.1 302,977.7 302.5,939.5 303,969.4 303.5,940.3 304,970.3 304.5,945.4 305,976.1 305.5,943.1 306,968.9 306.5,949.7 307,975.7 307.5,952.8 308,971.4 308.5,943.3 309,972.9 309.5,942.9 310,981.5 310.5,938.9 311,975.4 311.5,936.1 312,966.4 312.5,937.4 313,962.4 313.5,937.1 314,968.6 314.5,937.5 315,963.8 315.5,944 316,972.9 316.5,941.3 317,970.2 317.5,953 318,970 318.5,943.8 319,979.3 319.5,950.9 320,977.8 320.5,951.6 321,983.4 321.5,951.2 322,977.9 322.5,951.7 323,981.7 323.5,957.3 324,980.8 324.5,942.3 325,971.1 325.5,948.7 326,973 326.5,949.2 327,981.1 327.5,946.8 328,978.4 328.5,949.7 329,976.3 329.5,945.9 330,977.4 330.5,946.3 331,980 331.5,943.7 332,975.8 332.5,946.2 333,980 333.5,945.6 334,974.6 334.5,954.8 335,971.7 335.5,954.4 336,978.9 336.5,953.1 337,984 337.5,951.7 338,980.3 338.5,947 339,980.8 339.5,947.4 340,972.8 340.5,955.6 341,979 341.5,951.7 342,978.4 342.5,952.9 343,981.7 343.5,947.1 344,972.1 344.5,952.1 345,978.2 345.5,941.7 346,969.6 346.5,940.7 347,979.4 347.5,942 348,972.9 348.5,948.6 349,975.3 349.5,948.1 350,976.6 350.5,952.5 351,981.3 351.5,957.7 352,977.3 352.5,960 353,985.6 353.5,950.8 354,982.4 354.5,944.8 355,969.8 355.5,951.8 356,975.5 356.5,969.8 357,996.3 357.5,988.5 358,1018.5 358.5,1004.4 359,1028.6 359.5,1011.8 360,1037.6 360.5,1008.9 361,1036.4 361.5,998.3 362,1036.3 362.5,1008.1 363,1038.6 363.5,1008.6 364,1036.6 364.5,1004.5 365,1043.6 365.5,1010.6 366,1044.3 366.5,1007.3 367,1041.3 367.5,1019.2 368,1049.6 368.5,1015.3 369,1047.4 369.5,1018.7 370,1056.1 370.5,1014 371,1096 371.5,1021.6 372,1051.1 372.5,1009.2 373,1090 373.5,1010.4 374,1039.1 374.5,1011.6 375,1039.7 375.5,1007.2 376,1031.2 376.5,1013.8 377,1042.9 377.5,1009 378,1040.4 378.5,1015.9 379,1040.3 379.5,1014.4 380,1041.7 380.5,1014 381,1039.3 381.5,1012.8 382,1046.5 382.5,1005.6 383,1032.8 383.5,1008 384,1037.8 384.5,999.7 385,1036.7 385.5,1004.4 386,1034.7 386.5,1008.3 387,1038.4 387.5,1008 388,1053 388.5,999.4 389,1045.1 389.5,995.5 390,1042.5 390.5,983.9 391,1045.9 391.5,1001.1 392,1033.3 392.5,1003.1 393,1057.3 393.5,997.9 394,1047.6 394.5,986.7 395,1034.9 395.5,982.6 396,1023.8 396.5,965.3 397,1019.7 397.5,977.7 398,1019.1 398.5,988.3 399,1021.6 399.5,993.7 400,1022.2 400.5,989.6 401,1032.3 401.5,997.4 402,1031.9 402.5,993.1 403,1039.7 403.5,997.5 404,1027.8 404.5,981.8 405,1026.8 405.5,992.1 406,1040.5 406.5,988.2 407,1026.1 407.5,979.2 408,1021.4 408.5,990 409,1026.7 409.5,982 410,1031.9 410.5,980.8 411,1021.4 411.5,995.4 412,1025.6 412.5,991.6 413,1033.6 413.5,985.9 414,1035.5 414.5,986.7 415,1025.4 415.5,991.3 416,1027.2 416.5,981.6 417,1027.8 417.5,975 418,1024.3 418.5,976.3 419,1032.8 419.5,984.7 420,1019.6 420.5,970.1 421,1005.9 421.5,970.8 422,1015.6 422.5,973.3 423,1006.5 423.5,970.1 424,1020.7 424.5,971 425,1011.2 425.5,971.7 426,1010 426.5,987.9 427,1035.3 427.5,980.9 428,1027 428.5,990.5 429,1021.3 429.5,990.4 430,1031 430.5,977.7 431,1026 431.5,981 432,1025.7 432.5,1002.5 433,1042.3 433.5,988.1 434,1047.3 434.5,998.5 435,1033 435.5,987.1 436,1036.3 436.5,977.3 437,1014.7 437.5,959.6 438,1000.4 438.5,946.2 439,974.8 439.5,946.4 440,964.5 440.5,945.6 441,967.9 441.5,940.7 442,963 442.5,934.9 443,961.5 443.5,932.5 444,957.4 444.5,932.2 445,955.8 445.5,940.8 446,967.7 446.5,942.9 447,966.4 447.5,947.5 448,966.7 448.5,938.9 449,964.7 449.5,948 450,971.9 450.5,937.9 451,960.6 451.5,937.6 452,958 452.5,934.7 453,961.8 453.5,934.7 454,960.4 454.5,939.1 455,962 455.5,945.7 456,971.2 456.5,953.1 457,981.4 457.5,950 458,979.4 458.5,947.6 459,972.5 459.5,947.5 460,973.6 460.5,944.8 461,965.4 461.5,942.1 462,962.7 462.5,941.8 463,967.4 463.5,945.4 464,970.8 464.5,941 465,970.6 465.5,938.9 466,971.1 466.5,946.6 467,967.8 467.5,938.5 468,965.3 468.5,941.5 469,966.9 469.5,943.1 470,967.4 470.5,938.5 471,963.3 471.5,940.9 472,962.1 472.5,948.5 473,970.9 473.5,942.8 474,964.5 474.5,944 475,968.2 475.5,941.6 476,965.4 476.5,947 477,970.3 477.5,949 478,970.9 478.5,948.6 479,966.8 479.5,936 480,968.6 480.5,929.1 481,953.7 481.5,928.8 482,958.2 482.5,935.1 483,959.9 483.5,928.4 484,956.7 484.5,933.4 485,959.5 485.5,942.5 486,959 486.5,938.1 487,960.9 487.5,943 488,967.7 488.5,940.2 489,964.2 489.5,942.4 490,959.4 490.5,934.2 491,964 491.5,941.8 492,977.8 492.5,947.1 493,974.6 493.5,968.5 494,995.2 494.5,978.3 495,1013 495.5,992.9 496,1021 496.5,995.4 497,1040.9 497.5,988.1 498,1035.5 498.5,974.7 499,1010.7 499.5,980.7 500,1008.9 500.5,980.9 501,1014.9 501.5,988.4 502,1024.5 502.5,998.8 503,1035.4 503.5,997.9 504,1048.2 504.5,1005 505,1043.5 505.5,1002.3 506,1041 506.5,1006.2 507,1043.5 507.5,997.8 508,1035.9 508.5,986.7 509,1035 509.5,991.2 510,1020.4 510.5,982 511,1023.4 511.5,985.3 512,1024.3 512.5,991.1 513,1023.6 513.5,975.9 514,1012.2 514.5,983.3 515,1020.2 515.5,999.8 516,1032.1 516.5,971.4 517,1019 517.5,989.9 518,1026.1 518.5,984.1 519,1028 519.5,977.1 520,1016.7 520.5,992.1 521,1027.3 521.5,996.3 522,1034.3 522.5,1006.8 523,1034.5 523.5,994.6 524,1037.1 524.5,987.8 525,1029.9 525.5,975.6 526,1015.5 526.5,973.9 527,1015.5 527.5,981.1 528,1022.5 528.5,994.6 529,1028.4 529.5,993.5 530,1030.8 530.5,985.9 531,1040.1 531.5,998.2 532,1027.5 532.5,1000.4 533,1032 533.5,986.5 534,1037.2 534.5,991.3 535,1020.5 535.5,986.3 536,1027.5 536.5,980 537,1025.8 537.5,991.1 538,1027 538.5,988.5 539,1023 539.5,995.3 540,1030.2 540.5,993.9 541,1030.8 541.5,985 542,1023.6 542.5,992.3 543,1024.1 543.5,996.2 544,1031.8 544.5,993.6 545,1041.6 545.5,1000.1 546,1035.5 546.5,989.1 547,1038.3 547.5,996.7 548,1027.4 548.5,986.8 549,1020.5 549.5,988.5 550,1018.1 550.5,977.4 551,1017.5 551.5,986.6 552,1021.2 552.5,988.2 553,1017.9 553.5,988.4 554,1029.1 554.5,989.6 555,1029.6 555.5,986.7 556,1024.4 556.5,986.9 557,1016.1 557.5,991.4 558,1018.9 558.5,992 559,1022.7 559.5,994.6 560,1034.9 560.5,995.2 561,1033.8 561.5,999.7 562,1031.7 562.5,996.9 563,1035.5 563.5,984.3 564,1024.8 564.5,987.8 565,1023.2 565.5,991.7 566,1030 566.5,986.7 567,1017.9 567.5,995.9 568,1024.3 568.5,978.1 569,1020 569.5,985.5 570,1017.5 570.5,979.8 571,1021 571.5,989.4 572,1014.2 572.5,992.6 573,1028.6 573.5,994.1 574,1032.7 574.5,995.2 575,1022.9 575.5,996.1 576,1030.5 576.5,993 577,1030 577.5,988.4 578,1032.8 578.5,985.2 579,1033.4 579.5,985.4 580,1020.5 580.5,993.3 581,1016.6 581.5,992 582,1018.2 582.5,988.5 583,1023.9 583.5,991.6 584,1025.4 584.5,990.2 585,1014.1 585.5,994.9 586,1019.5 586.5,1001 587,1032.7 587.5,992.7 588,1026.4 588.5,1002.7 589,1031 589.5,1005.9 590,1029.3 590.5,988.2 591,1028.6 591.5,994.8 592,1026.3 592.5,977.2 593,1025.8 593.5,982.6 594,1013.3 594.5,987.3 595,1020.9 595.5,982.6 596,1015.4 596.5,988.9 597,1022.2 597.5,987.5 598,1022.7 598.5,991.6 599,1014.1 599.5,989.6 600,1010.2 600.5,992.3 601,1028.8 601.5,986.5 602,1022.4 602.5,993.9 603,1036.5 603.5,1002.9 604,1030.1 604.5,1000.4 605,1029.4 605.5,981.6 606,1033.7 606.5,983.1 607,1018.1 607.5,992 608,1024.7 608.5,988.3 609,1029.6 609.5,978.9 610,1019.9 610.5,972.6 611,1005.5 611.5,970.7 612,1007.6 612.5,967.9 613,1006.7 613.5,959.4 614,1004.9 614.5,960.2 615,1012.5 615.5,956.4 616,1019.2 616.5,993.4 617,1023.8 617.5,984.6 618,1034.2 618.5,971.3 619,1033.2 619.5,979.9 620,1051.5 620.5,964.7 621,1016.9 621.5,974.4 622,1020.4 622.5,966.9 623,1020.3 623.5,955.5 624,993 624.5,955.9 625,999.5 625.5,953.5 626,991.1 626.5,942.6 627,982.4 627.5,936.4 628,1000 628.5,952.9 629,999.9 629.5,967.2 630,1016.8 630.5,973.4 631,1025.9 631.5,979.4 632,1043.5 632.5,956.3 633,1015.3 633.5,962.1 634,1004.7 634.5,966.9 635,1005.7 635.5,951.6 636,1031.7 636.5,965.9 637,1019.8 637.5,961.6 638,1031.7 638.5,962.2 639,1019.8 639.5,965.8 640,1015.6 640.5,957.2 641,1018.1 641.5,969.7 642,1014.6 642.5,984.2 643,1038.6 643.5,962.9 644,1031.6 644.5,971.8 645,1024.4 645.5,960.8 646,1022.9 646.5,943 647,991.4 647.5,959.4 648,1007.2 648.5,933.8 649,1023.3 649.5,963 650,1012.9 650.5,978.3 651,1019.8 651.5,968.7 652,1035.9 652.5,975.8 653,1035.6 653.5,973.6 654,1027.5 654.5,974 655,1033 655.5,973.7 656,1040 656.5,964.6 657,1012.1 657.5,978.9 658,1033.5 658.5,987.1 659,1028.9 659.5,984.9 660,1029.2 660.5,976.8 661,1047.5 661.5,969.3 662,1044.7 662.5,985.2 663,1037.7 663.5,974 664,1012.8 664.5,965 665,1017.9 665.5,968 666,1028.7 666.5,965.3 667,1029.3 667.5,971 668,1025.9 668.5,954.2 669,1024.6 669.5,993.7 670,1034.5 670.5,982.4 671,1025.9 671.5,976.6 672,1045 672.5,988.3 673,1049 673.5,988.8 674,1039.3 674.5,974 675,1042.7 675.5,974.3 676,1037.9 676.5,967.9 677,1035.1 677.5,964.7 678,1049.6 678.5,963.9 679,1016 679.5,954.3 680,999.9 680.5,959.2 681,1023.4 681.5,968.2 682,1025.5 682.5,986 683,1047.5 683.5,1001.1 684,1043.9 684.5,972.7 685,1030.3 685.5,963.2 686,1015.3 686.5,964.1 687,1003.5 687.5,961 688,1017 688.5,953.1 689,997.2 689.5,966.3 690,1011.8 690.5,953.6 691,1026.8 691.5,972.3 692,1011.5 692.5,969.9 693,1038.5 693.5,954.1 694,1022.7 694.5,971.2 695,1027.5 695.5,958.2 696,1025.8 696.5,965.4 697,1017.7 697.5,951.7 698,1043.7 698.5,967.5 699,1035.5 699.5,963 700,1013.6 700.5,951.2 701,1009.7 701.5,968.6 702,1026.6 702.5,967.3 703,1031.1 703.5,975.2 704,1041.6 704.5,980.8 705,1031.2 705.5,981.9 706,1024.8 706.5,956.4 707,1024.2 707.5,951.3 708,1004 708.5,966.3 709,1008.7 709.5,954.7 710,1013.6 710.5,966.2 711,1032.6 711.5,950.5 712,1032.8 712.5,984.1 713,1040.6 713.5,974.7 714,1028.5 714.5,958.2 715,1005.8 715.5,953.9 716,1010.5 716.5,951.4 717,1019.8 717.5,953.6 718,1014.7 718.5,948.4 719,1023.2 719.5,944 720,999.1 720.5,944.6 721,997.7 721.5,958.1 722,1025 722.5,959.5 723,1023 723.5,957.3 724,1024.5 724.5,961.8 725,1014.5 725.5,960.9 726,1034.7 726.5,964.4 727,1034.1 727.5,983.9 728,1041.1 728.5,982.2 729,1031 729.5,955.1 730,1014.1 730.5,946.8 731,1018.7 731.5,956 732,1019.7 732.5,956.7 733,1041.3 733.5,942.3 734,996.2 734.5,941.9 735,1003.7 735.5,963 736,1020.4 736.5,970.6 737,1028.2 737.5,977.8 738,1025.4 738.5,972.5 739,1041.6 739.5,977.3 740,1033.2 740.5,965.6 741,1016.4 741.5,932.5 742,1021.9 742.5,965.4 743,1022.8 743.5,974.2 744,1020.4 744.5,969.7 745,1036.7 745.5,967.3 746,1029.7 746.5,967.5 747,1033.1 747.5,964.9 748,1021.4 748.5,946 749,1015.9 749.5,967.9 750,1005.6 750.5,957.9 751,1025.7 751.5,981.9 752,1030 752.5,987.6 753,1051.1 753.5,991.7 754,1061.4 754.5,989 755,1035.2 755.5,966 756,1025.7 756.5,968 757,1025.3 757.5,961.3 758,1034.3 758.5,971.5 759,1029.2 759.5,966.4 760,1037.9 760.5,973.1 761,1016.8 761.5,968.2 762,1022.1 762.5,957.5 763,1012.5 763.5,974.5 764,1032.1 764.5,991 765,1050.9 765.5,964.4 766,1018.9 766.5,977.8 767,1029.5 767.5,968.8 768,1037.2 768.5,956.2 769,1016 769.5,958.3 770,1026.6 770.5,951.9 771,1017.1 771.5,952.5 772,1029.1 772.5,981.6 773,1019.4 773.5,984.1 774,1035.8 774.5,974.8 775,1064.8 775.5,990.9 776,1047.7 776.5,979.9 777,1049 777.5,991.4 778,1043.4 778.5,973.9 779,1031.4 779.5,967.8 780,1023.7 780.5,967.2 781,1012 781.5,971.2 782,1036 782.5,983.6 783,1022.1 783.5,969.3 784,1019.3 784.5,960.3 785,1023.3 785.5,977.8 786,1034.1 786.5,974 787,1064.7 787.5,960.2 788,1033 788.5,977.1 789,1032.9 789.5,963.5 790,1017.3 790.5,970.6 791,1019.6 791.5,981 792,1028.3 792.5,986.2 793,1046.1 793.5,961.9 794,1026.5 794.5,959.3 795,1019.3 795.5,962.2 796,1010.3 796.5,959.1 797,1008.1 797.5,963.5 798,1007.6 798.5,955.2 799,1012.4 799.5,952.1 800,1019.6 800.5,956.6 801,1028.8 801.5,973.8 802,1024.9 802.5,959.9 803,1017.3 803.5,978.4 804,1023.2 804.5,962 805,1017.4 805.5,974.9 806,1032.9 806.5,969.2 807,1043.1 807.5,966.9 808,1027.5 808.5,962.4 809,1025.1 809.5,976.2 810,1034 810.5,955.2 811,1037.5 811.5,958.1 812,1021 812.5,975.4 813,1027.5 813.5,969.8 814,1021.2 814.5,946.8 815,1041.5 815.5,980.3 816,1014.9 816.5,960.1 817,1028.3 817.5,954.7 818,1023 818.5,965.5 819,1029.1 819.5,986 820,1044.5 820.5,987.4 821,1040 821.5,988.1 822,1051.8 822.5,969.1 823,1030.8 823.5,964.6 824,1054.7 824.5,973 825,1020.4 825.5,962.1 826,1023.6 826.5,955.3 827,1018.6 827.5,979.3 828,1027.9 828.5,960.3 829,1024 829.5,974.6 830,1017 830.5,958.5 831,1006.9 831.5,967.6 832,1008.5 832.5,953 833,1013.7 833.5,974.3 834,1027.2 834.5,993.3 835,1039.2 835.5,958 836,1029.3 836.5,956.4 837,1016.6 837.5,961.9 838,1007 838.5,950.5 839,1017.7 839.5,971 840,1025.2 840.5,955.4 841,1030.1 841.5,966.3 842,1036.7 842.5,967.7 843,1023.7 843.5,981.8 844,1040.8 844.5,985.2 845,1034.6 845.5,974.7 846,1037.4 846.5,968.9 847,1028.6 847.5,971.8 848,1024.1 848.5,952.3 849,1020 849.5,969.2 850,1029.8 850.5,962.5 851,1026.2 851.5,985.9 852,1039.7 852.5,972.5 853,1039.1 853.5,954.4 854,1041.7" />
<path d="M148 1167L162 1167 M148 1131.1L155.5 1131.1 M148 1095.2L162 1095.2 M148 1059.3L155.5 1059.3 M148 1023.4L162 1023.4 M148 987.5L155.5 987.5 M148 951.6L162 951.6 M148 915.8L155.5 915.8 M148 879.9L162 879.9 M148 844L155.5 844 M148 808.1L162 808.1 M148 772.2L155.5 772.2 M148 736.3L162 736.3 M148 700.4L155.5 700.4 M148 664.5L162 664.5 M148 1167L148 1153 M218.6 1167L218.6 1159.5 M289.2 1167L289.2 1153 M359.8 1167L359.8 1159.5 M430.4 1167L430.4 1153 M501 1167L501 1159.5 M571.6 1167L571.6 1153 M642.2 1167L642.2 1159.5 M712.8 1167L712.8 1153 M783.4 1167L783.4 1159.5 M854 1167L854 1153" stroke="#000" stroke-width="1.8" fill="none"/>
<rect x="148" y="664.5" width="706" height="502.5" fill="none" stroke="#000" stroke-width="2.3"/>
<text x="84.60" y="1174.14" font-size="26.41" font-weight="bold" textLength="49.45" lengthAdjust="spacingAndGlyphs">0.00</text>
<text x="84.60" y="1102.36" font-size="26.41" font-weight="bold" textLength="49.10" lengthAdjust="spacingAndGlyphs">0.05</text>
<text x="84.60" y="1030.57" font-size="26.41" font-weight="bold" textLength="49.45" lengthAdjust="spacingAndGlyphs">0.10</text>
<text x="84.60" y="958.78" font-size="26.41" font-weight="bold" textLength="49.10" lengthAdjust="spacingAndGlyphs">0.15</text>
<text x="84.60" y="887.00" font-size="26.41" font-weight="bold" textLength="49.45" lengthAdjust="spacingAndGlyphs">0.20</text>
<text x="84.60" y="815.21" font-size="26.41" font-weight="bold" textLength="49.10" lengthAdjust="spacingAndGlyphs">0.25</text>
<text x="84.60" y="743.39" font-size="26.36" font-weight="bold" textLength="49.45" lengthAdjust="spacingAndGlyphs">0.30</text>
<text x="84.60" y="671.60" font-size="26.36" font-weight="bold" textLength="49.10" lengthAdjust="spacingAndGlyphs">0.35</text>
<text x="139.81" y="1201.25" font-size="25.56" font-weight="bold" textLength="15.40" lengthAdjust="spacingAndGlyphs">0</text>
<text x="274.15" y="1201.25" font-size="25.56" font-weight="bold" textLength="29.39" lengthAdjust="spacingAndGlyphs">20</text>
<text x="416.12" y="1201.25" font-size="25.56" font-weight="bold" textLength="28.84" lengthAdjust="spacingAndGlyphs">40</text>
<text x="556.47" y="1201.25" font-size="25.56" font-weight="bold" textLength="29.44" lengthAdjust="spacingAndGlyphs">60</text>
<text x="697.86" y="1201.25" font-size="25.56" font-weight="bold" textLength="29.30" lengthAdjust="spacingAndGlyphs">80</text>
<text x="830.72" y="1201.25" font-size="25.56" font-weight="bold" textLength="44.37" lengthAdjust="spacingAndGlyphs">100</text>
<text x="430.64" y="1237.60" font-size="30.67" font-weight="bold" textLength="141.44" lengthAdjust="spacingAndGlyphs">Time (ns)</text>
<text transform="translate(60.20,1009.10) rotate(-90)" font-size="32.56" font-weight="bold" textLength="176.83" lengthAdjust="spacingAndGlyphs">RMSD (nm)</text>
<line x1="175.9" y1="690.7" x2="201.3" y2="690.7" stroke="#067EF6" stroke-width="2.6"/>
<text x="207.98" y="697.80" font-size="21.22" font-weight="bold" textLength="74.37" lengthAdjust="spacingAndGlyphs">GSK3β</text>
<line x1="175.9" y1="719.4" x2="201.3" y2="719.4" stroke="#FB7C7F" stroke-width="2.2"/>
<text x="207.38" y="726.50" font-size="21.80" font-weight="bold" textLength="90.82" lengthAdjust="spacingAndGlyphs">LigandA</text>
<line x1="175.9" y1="748.9" x2="201.3" y2="748.9" stroke="#AECC47" stroke-width="1.6"/>
<text x="207.37" y="756.10" font-size="21.80" font-weight="bold" textLength="91.67" lengthAdjust="spacingAndGlyphs">LigandB</text>
<polyline fill="none" stroke="#067EF6" stroke-width="1.1" stroke-linejoin="round" points="148.5,1562.7 149,1611.1 149.5,1564.5 150,1597.2 150.5,1555 151,1604.8 151.5,1547.2 152,1605.2 152.5,1555.8 153,1605.4 153.5,1538.2 154,1598.3 154.5,1544.8 155,1586.8 155.5,1538.8 156,1581 156.5,1525.7 157,1588.8 157.5,1539.1 158,1587.5 158.5,1540 159,1586.3 159.5,1528.8 160,1584.7 160.5,1534.5 161,1581 161.5,1537.2 162,1596.4 162.5,1540.3 163,1587.4 163.5,1549.2 164,1593.5 164.5,1549.9 165,1604.8 165.5,1556.1 166,1599.2 166.5,1553.6 167,1607.7 167.5,1556.6 168,1606.5 168.5,1538.5 169,1594.9 169.5,1519.8 170,1588.2 170.5,1551.2 171,1600 171.5,1543.9 172,1581.7 172.5,1549.5 173,1588.8 173.5,1535.7 174,1583.6 174.5,1533.5 175,1572.8 175.5,1531.7 176,1572.6 176.5,1531.5 177,1588.9 177.5,1543.9 178,1586.2 178.5,1537.9 179,1588.6 179.5,1548.2 180,1584.9 180.5,1543.6 181,1576.8 181.5,1537.9 182,1599.9 182.5,1536.2 183,1588.7 183.5,1556.6 184,1603.9 184.5,1542.7 185,1586.4 185.5,1536.5 186,1577.8 186.5,1537.6 187,1581.9 187.5,1533.7 188,1577.8 188.5,1537.1 189,1579.8 189.5,1547.5 190,1612.9 190.5,1540.1 191,1588 191.5,1545.7 192,1586.8 192.5,1536.4 193,1584.9 193.5,1549.3 194,1584.6 194.5,1532.4 195,1585.8 195.5,1542.1 196,1586.7 196.5,1536.7 197,1575.9 197.5,1536.4 198,1568.1 198.5,1533.1 199,1580 199.5,1530.3 200,1578.1 200.5,1537.5 201,1579.4 201.5,1547.8 202,1598.6 202.5,1547.6 203,1597.2 203.5,1550.3 204,1585.7 204.5,1536.2 205,1582 205.5,1535.4 206,1582.1 206.5,1536.6 207,1570.8 207.5,1516.6 208,1568.1 208.5,1513.6 209,1560.4 209.5,1525.2 210,1564.3 210.5,1534.1 211,1571.1 211.5,1529.8 212,1569.1 212.5,1532.6 213,1583 213.5,1554.8 214,1594.6 214.5,1548.3 215,1583.8 215.5,1549.1 216,1587.2 216.5,1550.6 217,1590.3 217.5,1532.2 218,1578.8 218.5,1542.7 219,1575.7 219.5,1515.4 220,1569 220.5,1536.3 221,1565.5 221.5,1532.2 222,1578.7 222.5,1548.8 223,1586.8 223.5,1551.5 224,1600.1 224.5,1550.3 225,1593.7 225.5,1552 226,1590.7 226.5,1534.6 227,1578.2 227.5,1535.6 228,1579.5 228.5,1537.6 229,1584 229.5,1538.9 230,1564.2 230.5,1539.2 231,1577 231.5,1544.9 232,1584.9 232.5,1537.5 233,1572.9 233.5,1532.5 234,1570.8 234.5,1520.5 235,1577.8 235.5,1518.9 236,1554.9 236.5,1532.1 237,1562.5 237.5,1534 238,1582 238.5,1539.8 239,1567.9 239.5,1538.9 240,1585.4 240.5,1536.3 241,1581.4 241.5,1533.6 242,1568.2 242.5,1536.6 243,1572.4 243.5,1530.3 244,1568.8 244.5,1530.2 245,1570.8 245.5,1524.7 246,1569.1 246.5,1522.1 247,1566.7 247.5,1517.7 248,1561 248.5,1522.4 249,1550.3 249.5,1528.2 250,1567.5 250.5,1514.5 251,1550.6 251.5,1513 252,1544.1 252.5,1515.4 253,1544.9 253.5,1505.1 254,1534.8 254.5,1506.3 255,1546 255.5,1511.6 256,1544.3 256.5,1507.1 257,1534 257.5,1502.7 258,1527.1 258.5,1489.8 259,1537.2 259.5,1500.6 260,1554.2 260.5,1510.4 261,1556.3 261.5,1513.7 262,1560.7 262.5,1501.8 263,1542 263.5,1499 264,1542.3 264.5,1486.8 265,1522.1 265.5,1493.7 266,1517.1 266.5,1503.4 267,1529.7 267.5,1504.9 268,1536 268.5,1505.5 269,1534.6 269.5,1501 270,1532.8 270.5,1500.8 271,1540.1 271.5,1494.3 272,1532.6 272.5,1484.9 273,1527.1 273.5,1495.6 274,1524.6 274.5,1485.6 275,1530.2 275.5,1496.6 276,1532.3 276.5,1493.3 277,1542.9 277.5,1503.9 278,1550.3 278.5,1513.7 279,1547.7 279.5,1512.8 280,1556.8 280.5,1519.6 281,1568.2 281.5,1513.7 282,1558.3 282.5,1527.2 283,1585.2 283.5,1527.1 284,1563 284.5,1536.9 285,1583.4 285.5,1538.4 286,1576.2 286.5,1522.6 287,1564.8 287.5,1523 288,1574.2 288.5,1521.2 289,1564.1 289.5,1525.7 290,1578.2 290.5,1524.3 291,1576 291.5,1525.6 292,1571 292.5,1526.9 293,1570.5 293.5,1536.5 294,1576.5 294.5,1529.3 295,1578.3 295.5,1535.6 296,1575.7 296.5,1543.1 297,1572.4 297.5,1538.5 298,1567.2 298.5,1519.2 299,1568.9 299.5,1524 300,1560.1 300.5,1510.3 301,1558 301.5,1499.9 302,1550.3 302.5,1499.2 303,1565.6 303.5,1511.3 304,1558.6 304.5,1501.9 305,1547.1 305.5,1527.1 306,1573.8 306.5,1530.3 307,1567 307.5,1518.9 308,1568.6 308.5,1536.9 309,1573.6 309.5,1517.5 310,1576.2 310.5,1508 311,1555.3 311.5,1514.9 312,1559.6 312.5,1513.1 313,1567.8 313.5,1522.5 314,1570.3 314.5,1533.8 315,1568.2 315.5,1532.1 316,1572.2 316.5,1514.3 317,1575.8 317.5,1513.5 318,1563 318.5,1519.7 319,1568.8 319.5,1514.2 320,1560.4 320.5,1515.8 321,1567.7 321.5,1520.1 322,1563.1 322.5,1515.3 323,1552.8 323.5,1512.8 324,1556.8 324.5,1516.1 325,1563.1 325.5,1502.6 326,1559.9 326.5,1504.1 327,1556.3 327.5,1502.5 328,1570.3 328.5,1512.2 329,1557.4 329.5,1506.5 330,1555.4 330.5,1517.9 331,1564.3 331.5,1528.9 332,1564.9 332.5,1520.9 333,1569.7 333.5,1525.1 334,1578.9 334.5,1505.5 335,1551 335.5,1502.4 336,1551.6 336.5,1519.4 337,1566.5 337.5,1519.9 338,1558.3 338.5,1533.8 339,1567.4 339.5,1529.3 340,1564.5 340.5,1518.6 341,1559.5 341.5,1520.8 342,1569.8 342.5,1533.8 343,1573.1 343.5,1526 344,1565.5 344.5,1516.4 345,1571.5 345.5,1521.8 346,1555.7 346.5,1517.4 347,1554.4 347.5,1520.9 348,1568.3 348.5,1513 349,1569.7 349.5,1519.8 350,1574.1 350.5,1515.9 351,1568 351.5,1515 352,1559.2 352.5,1518.7 353,1566 353.5,1522.6 354,1576.7 354.5,1526.5 355,1574.6 355.5,1524.6 356,1569.4 356.5,1528.1 357,1587.2 357.5,1534.1 358,1583.1 358.5,1538.9 359,1575.4 359.5,1538.3 360,1573.4 360.5,1528.7 361,1580.7 361.5,1530.2 362,1575.6 362.5,1522.2 363,1568.6 363.5,1525.8 364,1568.7 364.5,1507.4 365,1557 365.5,1524.2 366,1558.8 366.5,1521.8 367,1564.5 367.5,1513.9 368,1566.5 368.5,1509.8 369,1545.7 369.5,1498.9 370,1537.4 370.5,1493.2 371,1546.8 371.5,1481.8 372,1533.6 372.5,1486.7 373,1533 373.5,1499.6 374,1549 374.5,1521.1 375,1557.8 375.5,1516.2 376,1546.1 376.5,1509.5 377,1555.6 377.5,1502.8 378,1552.3 378.5,1482.8 379,1529.1 379.5,1481.7 380,1539.9 380.5,1501.8 381,1532.8 381.5,1503.6 382,1543.3 382.5,1487.9 383,1547.3 383.5,1509.5 384,1552.3 384.5,1500.2 385,1543.2 385.5,1506.6 386,1534.6 386.5,1504.2 387,1537.5 387.5,1490.2 388,1546.7 388.5,1497.9 389,1541.2 389.5,1504.7 390,1538.6 390.5,1479 391,1547.3 391.5,1498.7 392,1540.6 392.5,1494.5 393,1534.4 393.5,1510.6 394,1550 394.5,1496.3 395,1538.6 395.5,1486.5 396,1532.9 396.5,1496 397,1543.9 397.5,1490.6 398,1533.4 398.5,1502.7 399,1548.4 399.5,1503.5 400,1550.8 400.5,1504.4 401,1533.2 401.5,1509.6 402,1554.1 402.5,1510.7 403,1558.1 403.5,1508.4 404,1554.6 404.5,1500.7 405,1550.4 405.5,1505.3 406,1542.6 406.5,1506.2 407,1547.5 407.5,1517.5 408,1546 408.5,1514.7 409,1544.1 409.5,1506.4 410,1552.3 410.5,1512.4 411,1538.4 411.5,1509.4 412,1533.3 412.5,1510.2 413,1536.7 413.5,1510.6 414,1539.6 414.5,1513.7 415,1546.5 415.5,1513.6 416,1544.3 416.5,1514.3 417,1545.1 417.5,1508.5 418,1537.5 418.5,1504.6 419,1544.1 419.5,1508.4 420,1551.9 420.5,1516 421,1551.2 421.5,1529 422,1556.4 422.5,1512.2 423,1552.1 423.5,1502.4 424,1549.1 424.5,1504.4 425,1543.7 425.5,1501.6 426,1542.7 426.5,1509.4 427,1534.7 427.5,1497.6 428,1537.4 428.5,1502.6 429,1537.3 429.5,1511.6 430,1541.7 430.5,1511.5 431,1562.3 431.5,1523.2 432,1557.1 432.5,1528 433,1567.6 433.5,1519.2 434,1554.7 434.5,1504.6 435,1553.9 435.5,1508.5 436,1552.3 436.5,1497.5 437,1540.5 437.5,1514.7 438,1543.3 438.5,1513.7 439,1549.3 439.5,1519.2 440,1556.5 440.5,1507.1 441,1547 441.5,1518.9 442,1545.7 442.5,1519.5 443,1543.5 443.5,1509.3 444,1551 444.5,1513.1 445,1547 445.5,1515.5 446,1545.5 446.5,1506.5 447,1547.8 447.5,1516.6 448,1556.8 448.5,1516.1 449,1551.6 449.5,1500.2 450,1544.9 450.5,1507.9 451,1546.3 451.5,1497.9 452,1540.9 452.5,1510.5 453,1556.1 453.5,1519.8 454,1549 454.5,1517 455,1560.9 455.5,1526.5 456,1568.7 456.5,1522.6 457,1554.7 457.5,1525.4 458,1557.3 458.5,1513.6 459,1541.5 459.5,1493.1 460,1542.1 460.5,1513.6 461,1544.3 461.5,1514.7 462,1543.8 462.5,1509.7 463,1544.3 463.5,1517.9 464,1551.2 464.5,1497.7 465,1540.6 465.5,1500.1 466,1546.5 466.5,1502.2 467,1546.5 467.5,1506.8 468,1541.8 468.5,1507.4 469,1531.3 469.5,1498.9 470,1538.1 470.5,1500.2 471,1536 471.5,1485.4 472,1522.8 472.5,1484 473,1527.5 473.5,1488.7 474,1545 474.5,1506.7 475,1543.7 475.5,1451.6 476,1543.4 476.5,1495.1 477,1543.6 477.5,1488.9 478,1545.1 478.5,1487.1 479,1540.4 479.5,1495.1 480,1545.3 480.5,1499 481,1536.1 481.5,1487.9 482,1544.2 482.5,1479.2 483,1528.2 483.5,1483 484,1531.8 484.5,1474.1 485,1527 485.5,1492.6 486,1532.8 486.5,1492.3 487,1527.9 487.5,1475.5 488,1540.6 488.5,1460.8 489,1536.9 489.5,1445.1 490,1505.4 490.5,1440.4 491,1498.1 491.5,1454.5 492,1497.1 492.5,1438.6 493,1502.4 493.5,1453.7 494,1525.2 494.5,1457.3 495,1531.2 495.5,1443 496,1500.9 496.5,1461.6 497,1543.5 497.5,1452.9 498,1510.9 498.5,1450 499,1505.8 499.5,1465.1 500,1515.8 500.5,1467.5 501,1531.8 501.5,1478.2 502,1534.6 502.5,1487.2 503,1544.9 503.5,1473 504,1532 504.5,1488.8 505,1545 505.5,1475.5 506,1533.5 506.5,1480.5 507,1540.3 507.5,1468.9 508,1540.4 508.5,1477.8 509,1522.1 509.5,1465.2 510,1536.3 510.5,1461.3 511,1522.4 511.5,1455.5 512,1519.5 512.5,1461.8 513,1518.2 513.5,1485.1 514,1531.6 514.5,1479.7 515,1522.3 515.5,1486.9 516,1530.1 516.5,1490.1 517,1534.7 517.5,1498.6 518,1540.3 518.5,1510.1 519,1545.1 519.5,1498.8 520,1549.1 520.5,1510.8 521,1544.1 521.5,1505.3 522,1544.5 522.5,1510.6 523,1559.2 523.5,1508.5 524,1543.9 524.5,1505.3 525,1546.2 525.5,1505.5 526,1543.4 526.5,1502.2 527,1538.5 527.5,1510.3 528,1545.9 528.5,1510.3 529,1552.3 529.5,1508.8 530,1543.2 530.5,1508.2 531,1549.8 531.5,1507.6 532,1558.4 532.5,1506.7 533,1538 533.5,1474.4 534,1528.7 534.5,1464.2 535,1513.4 535.5,1445.7 536,1508.4 536.5,1383 537,1513.6 537.5,1438.9 538,1500.9 538.5,1392 539,1492 539.5,1442.5 540,1501.6 540.5,1425.6 541,1486.7 541.5,1434.3 542,1490.8 542.5,1453.3 543,1507.7 543.5,1443.5 544,1481.2 544.5,1426.6 545,1492.9 545.5,1427.5 546,1488.4 546.5,1422.9 547,1476.9 547.5,1443.4 548,1499.9 548.5,1448.3 549,1504.7 549.5,1430.7 550,1499.9 550.5,1450.6 551,1507.5 551.5,1427.8 552,1503.1 552.5,1443.4 553,1498.8 553.5,1427.7 554,1504.1 554.5,1443 555,1501.7 555.5,1441.3 556,1500.8 556.5,1446.4 557,1511.8 557.5,1473.6 558,1518.4 558.5,1463.7 559,1536.4 559.5,1442.9 560,1529.9 560.5,1414 561,1517.3 561.5,1451.3 562,1502.1 562.5,1435.2 563,1496.2 563.5,1420.4 564,1506.7 564.5,1419.6 565,1478.8 565.5,1421.5 566,1475.7 566.5,1413 567,1492.6 567.5,1445.5 568,1490 568.5,1461.2 569,1516.9 569.5,1448.8 570,1523.5 570.5,1445.1 571,1495.9 571.5,1434.5 572,1491.8 572.5,1425.1 573,1504.5 573.5,1443.4 574,1516 574.5,1440.4 575,1498.4 575.5,1417.4 576,1492.9 576.5,1428.7 577,1511.1 577.5,1426.4 578,1492.1 578.5,1437.7 579,1487.8 579.5,1445.4 580,1523 580.5,1443.6 581,1501 581.5,1430.8 582,1491.8 582.5,1447 583,1515.8 583.5,1446.5 584,1505.7 584.5,1418 585,1516.7 585.5,1459.1 586,1504.1 586.5,1446.4 587,1506 587.5,1443.8 588,1526.6 588.5,1442.6 589,1508.2 589.5,1425.6 590,1497 590.5,1414.5 591,1498.9 591.5,1403.7 592,1470.9 592.5,1396.8 593,1465.7 593.5,1395.6 594,1458.3 594.5,1412.6 595,1474.8 595.5,1415.5 596,1499.4 596.5,1438.3 597,1490.5 597.5,1424.9 598,1491.9 598.5,1416.2 599,1528.2 599.5,1447 600,1520.7 600.5,1430.8 601,1505 601.5,1427.8 602,1503.8 602.5,1425.6 603,1503.8 603.5,1414.5 604,1488.2 604.5,1406.6 605,1470.9 605.5,1427.5 606,1482.2 606.5,1424 607,1480.6 607.5,1443.3 608,1512 608.5,1434 609,1494 609.5,1437.2 610,1509.9 610.5,1422.2 611,1485.7 611.5,1426.8 612,1501.4 612.5,1429.3 613,1500.5 613.5,1447.7 614,1507.7 614.5,1462.8 615,1525.2 615.5,1437.9 616,1510.2 616.5,1446.5 617,1505.2 617.5,1422.5 618,1500.4 618.5,1419.2 619,1503.2 619.5,1452.2 620,1496.1 620.5,1419.9 621,1517 621.5,1445.7 622,1503.4 622.5,1436.2 623,1512.8 623.5,1445.5 624,1488.5 624.5,1414.4 625,1494.6 625.5,1438 626,1495.3 626.5,1429.6 627,1493.4 627.5,1420.8 628,1483 628.5,1429.2 629,1491.7 629.5,1427.8 630,1495.2 630.5,1437.5 631,1514.6 631.5,1450 632,1510.3 632.5,1445.2 633,1516.5 633.5,1434.1 634,1495.7 634.5,1435.9 635,1484.8 635.5,1441.9 636,1503.6 636.5,1441.9 637,1524 637.5,1426.3 638,1500.4 638.5,1432.7 639,1494 639.5,1435.1 640,1481 640.5,1413.7 641,1466.8 641.5,1442 642,1502.9 642.5,1448.4 643,1517.1 643.5,1444.9 644,1502.8 644.5,1456.7 645,1517.2 645.5,1441.8 646,1506.6 646.5,1437.8 647,1510.9 647.5,1459 648,1525.8 648.5,1453.7 649,1518.6 649.5,1448.2 650,1521.2 650.5,1460.7 651,1513.4 651.5,1414.7 652,1486.1 652.5,1418.2 653,1502.6 653.5,1420.6 654,1501.9 654.5,1409.9 655,1472.5 655.5,1442.7 656,1490.6 656.5,1433.1 657,1486.4 657.5,1434 658,1491.2 658.5,1452.9 659,1494.2 659.5,1449.3 660,1502.9 660.5,1442.9 661,1488 661.5,1431.8 662,1517.1 662.5,1432.5 663,1493.2 663.5,1444 664,1498.3 664.5,1445.6 665,1490.1 665.5,1419.2 666,1494.4 666.5,1433.7 667,1496.1 667.5,1416.3 668,1489.9 668.5,1429.7 669,1500.9 669.5,1450.8 670,1497.9 670.5,1462.9 671,1515.2 671.5,1467.3 672,1522.2 672.5,1459.9 673,1525.8 673.5,1467 674,1522.6 674.5,1461.5 675,1510.3 675.5,1478.4 676,1528.5 676.5,1462.1 677,1537.3 677.5,1442.9 678,1512 678.5,1456 679,1504.5 679.5,1443.8 680,1496 680.5,1439.4 681,1499.8 681.5,1449.9 682,1491.3 682.5,1426 683,1508.8 683.5,1446.9 684,1516.9 684.5,1453.7 685,1533.6 685.5,1445.3 686,1514 686.5,1447.9 687,1508.4 687.5,1465.4 688,1510.2 688.5,1436.9 689,1505 689.5,1435.3 690,1528.4 690.5,1465.4 691,1514.3 691.5,1474.2 692,1531.5 692.5,1460.3 693,1517.1 693.5,1458.1 694,1506.8 694.5,1447.6 695,1505 695.5,1441.7 696,1509.1 696.5,1456.6 697,1497.9 697.5,1438.3 698,1505.5 698.5,1448.3 699,1511 699.5,1446.4 700,1497.2 700.5,1439 701,1514.4 701.5,1436.4 702,1500.9 702.5,1441.1 703,1531.7 703.5,1448.9 704,1530.7 704.5,1458.7 705,1505.6 705.5,1465.5 706,1525.9 706.5,1460 707,1529.8 707.5,1462.6 708,1527.2 708.5,1465.8 709,1531.5 709.5,1453.4 710,1495.2 710.5,1460.4 711,1511.5 711.5,1453.7 712,1518.2 712.5,1451.8 713,1506.4 713.5,1467.5 714,1533.2 714.5,1466 715,1522.4 715.5,1449.2 716,1506.8 716.5,1464 717,1529.3 717.5,1472.7 718,1538.6 718.5,1455.4 719,1540.7 719.5,1493.2 720,1554.3 720.5,1496.6 721,1555 721.5,1485 722,1538.8 722.5,1476.3 723,1529.9 723.5,1447.4 724,1519.3 724.5,1429.7 725,1494.2 725.5,1449.9 726,1492 726.5,1439.7 727,1509 727.5,1436.1 728,1506.3 728.5,1449.8 729,1525.7 729.5,1457.5 730,1527.7 730.5,1460.4 731,1520.9 731.5,1473.3 732,1535.7 732.5,1448.8 733,1520.4 733.5,1456.2 734,1533.1 734.5,1483.2 735,1535.1 735.5,1480.6 736,1531.8 736.5,1462.5 737,1540 737.5,1478.5 738,1543.6 738.5,1459.7 739,1518.2 739.5,1448.7 740,1495.6 740.5,1431.1 741,1490.5 741.5,1415.3 742,1476.6 742.5,1424.5 743,1489.7 743.5,1433.4 744,1494.7 744.5,1437.1 745,1519.8 745.5,1461.8 746,1519.3 746.5,1469.7 747,1512.9 747.5,1457.5 748,1526 748.5,1449.1 749,1535.8 749.5,1473.9 750,1541.4 750.5,1473.6 751,1537.1 751.5,1478.9 752,1524.7 752.5,1455.7 753,1523.4 753.5,1471.8 754,1545.2 754.5,1456.4 755,1531.9 755.5,1470.5 756,1542 756.5,1464.2 757,1528.7 757.5,1450.2 758,1507.7 758.5,1444.3 759,1504.3 759.5,1443.5 760,1513 760.5,1471.6 761,1520.3 761.5,1468 762,1511.6 762.5,1456.8 763,1516.5 763.5,1449.8 764,1514.6 764.5,1435.5 765,1498.9 765.5,1446 766,1518 766.5,1450.4 767,1493.2 767.5,1450.2 768,1522.5 768.5,1439.4 769,1509 769.5,1448.8 770,1496.8 770.5,1427.1 771,1485.5 771.5,1444.8 772,1491.5 772.5,1458 773,1516.9 773.5,1466.9 774,1537 774.5,1449.3 775,1522.1 775.5,1456.3 776,1510.3 776.5,1455.4 777,1516.2 777.5,1444.5 778,1497.3 778.5,1452.1 779,1509.4 779.5,1446.8 780,1505.5 780.5,1448.2 781,1512.4 781.5,1454.1 782,1512.4 782.5,1474.8 783,1539.2 783.5,1453.9 784,1526.2 784.5,1452.5 785,1532.6 785.5,1461.6 786,1524.1 786.5,1442.8 787,1511.8 787.5,1455.3 788,1514.4 788.5,1446.9 789,1519.1 789.5,1443.2 790,1507 790.5,1427.4 791,1516.8 791.5,1438.6 792,1500.2 792.5,1447.9 793,1520.6 793.5,1435.7 794,1516.6 794.5,1440.8 795,1513.7 795.5,1435.1 796,1500.7 796.5,1439.1 797,1493.3 797.5,1430.9 798,1493.4 798.5,1435.1 799,1492.9 799.5,1453.9 800,1492.4 800.5,1449.3 801,1492.6 801.5,1443.3 802,1498.2 802.5,1448.4 803,1497.6 803.5,1421.6 804,1487.1 804.5,1416.9 805,1485.8 805.5,1428 806,1508.7 806.5,1437 807,1502 807.5,1447.4 808,1530.2 808.5,1472.2 809,1520.5 809.5,1467.9 810,1531 810.5,1458.5 811,1521 811.5,1443.1 812,1493.7 812.5,1440.5 813,1515.5 813.5,1433.6 814,1484.4 814.5,1437.5 815,1506.5 815.5,1464.3 816,1518.6 816.5,1457.7 817,1521.3 817.5,1448.8 818,1528.8 818.5,1448.8 819,1501.8 819.5,1436.6 820,1498.7 820.5,1430.2 821,1493.2 821.5,1422 822,1487.2 822.5,1432.2 823,1500.5 823.5,1438.2 824,1505.6 824.5,1448.3 825,1502.1 825.5,1425.6 826,1507.9 826.5,1431.9 827,1486.4 827.5,1427.2 828,1504.9 828.5,1456.1 829,1517 829.5,1458.1 830,1537.5 830.5,1467.6 831,1541.8 831.5,1469.6 832,1547 832.5,1469.3 833,1519 833.5,1437.4 834,1529 834.5,1437.9 835,1514.4 835.5,1437.6 836,1505.5 836.5,1446.5 837,1513.1 837.5,1435.6 838,1504.2 838.5,1438.7 839,1501 839.5,1436.3 840,1495.7 840.5,1419.6 841,1482 841.5,1443.5 842,1504.9 842.5,1438.4 843,1506.2 843.5,1444.4 844,1510.7 844.5,1456.8 845,1513 845.5,1456.9 846,1523.4 846.5,1446.6 847,1520.2" />
<polyline fill="none" stroke="#FB7C7F" stroke-width="1.1" stroke-linejoin="round" points="148.5,1629.6 149,1656.5 149.5,1621.4 150,1651.8 150.5,1629.5 151,1652.4 151.5,1628.1 152,1662.1 152.5,1635 153,1656.6 153.5,1637.6 154,1666.5 154.5,1631 155,1659.6 155.5,1637.9 156,1664.3 156.5,1627.1 157,1659.4 157.5,1631.4 158,1662.5 158.5,1631 159,1661.2 159.5,1641.8 160,1670.9 160.5,1640.5 161,1671.9 161.5,1632.5 162,1663.2 162.5,1634.6 163,1665.5 163.5,1628.2 164,1654.6 164.5,1629.9 165,1658.8 165.5,1631.2 166,1665.3 166.5,1627 167,1652.8 167.5,1627.6 168,1658.8 168.5,1623.3 169,1656.3 169.5,1625.8 170,1653.4 170.5,1621.2 171,1655.7 171.5,1625.5 172,1654.2 172.5,1635.8 173,1658.5 173.5,1637.4 174,1673.1 174.5,1642.1 175,1673.7 175.5,1643.1 176,1666.6 176.5,1638.3 177,1665.5 177.5,1631.5 178,1669.5 178.5,1631.8 179,1659 179.5,1625.2 180,1659.7 180.5,1612 181,1660 181.5,1630.6 182,1661.5 182.5,1636.4 183,1659.8 183.5,1639.3 184,1664.6 184.5,1633.1 185,1664.4 185.5,1625 186,1654.5 186.5,1628 187,1657.9 187.5,1628.3 188,1662.5 188.5,1630.3 189,1667.8 189.5,1634.5 190,1660.6 190.5,1633.5 191,1653 191.5,1628.8 192,1652.7 192.5,1623.6 193,1653 193.5,1627.6 194,1664.2 194.5,1641.7 195,1664.1 195.5,1638.4 196,1664.3 196.5,1636.2 197,1663.9 197.5,1628.3 198,1656 198.5,1610.9 199,1654.2 199.5,1629.9 200,1653.9 200.5,1627.4 201,1657.6 201.5,1624.4 202,1656.8 202.5,1629.8 203,1659.7 203.5,1623.7 204,1652.3 204.5,1626.4 205,1654 205.5,1618.1 206,1656.3 206.5,1626 207,1656.7 207.5,1626.3 208,1655 208.5,1625.4 209,1662.7 209.5,1635.4 210,1657 210.5,1640.2 211,1667.6 211.5,1631.1 212,1664.8 212.5,1623.6 213,1658.3 213.5,1623.6 214,1660 214.5,1620.9 215,1650.4 215.5,1617.7 216,1650.6 216.5,1620.1 217,1658.2 217.5,1613.1 218,1665.5 218.5,1618.9 219,1660.3 219.5,1610.5 220,1650.9 220.5,1594.2 221,1655.1 221.5,1600.9 222,1661.3 222.5,1601.3 223,1656.4 223.5,1618.4 224,1663.9 224.5,1602.6 225,1653.7 225.5,1605.4 226,1649.7 226.5,1608.3 227,1642.4 227.5,1604.9 228,1646.5 228.5,1614 229,1658.8 229.5,1609.6 230,1670.2 230.5,1603.5 231,1664.9 231.5,1616.8 232,1684.9 232.5,1623.1 233,1676.9 233.5,1644.5 234,1693.2 234.5,1617.1 235,1682.7 235.5,1600.9 236,1683.9 236.5,1613 237,1671.2 237.5,1603.1 238,1653.7 238.5,1620.2 239,1666.9 239.5,1600.1 240,1671.8 240.5,1631 241,1699.4 241.5,1623.1 242,1671.1 242.5,1609.4 243,1673.2 243.5,1613.6 244,1701.7 244.5,1615.5 245,1667.4 245.5,1601.8 246,1674.6 246.5,1606.2 247,1654.5 247.5,1608.5 248,1675.2 248.5,1620.1 249,1661.7 249.5,1587.5 250,1660 250.5,1617.9 251,1669 251.5,1598.6 252,1660.8 252.5,1590.2 253,1653.7 253.5,1617.1 254,1665.6 254.5,1605.3 255,1660.9 255.5,1608.8 256,1671.9 256.5,1599.5 257,1657.8 257.5,1617.9 258,1669.5 258.5,1588.3 259,1667.5 259.5,1605.3 260,1663.3 260.5,1609.8 261,1682.7 261.5,1611.7 262,1669.4 262.5,1614.6 263,1653 263.5,1590.9 264,1662.1 264.5,1599.7 265,1658 265.5,1603.2 266,1689.7 266.5,1633.2 267,1712 267.5,1644.1 268,1724.5 268.5,1655.4 269,1743.1 269.5,1628.9 270,1723.9 270.5,1640.4 271,1718.9 271.5,1612.6 272,1696.2 272.5,1616.7 273,1708.3 273.5,1612.6 274,1692.9 274.5,1612.5 275,1688.3 275.5,1651.4 276,1727.4 276.5,1629 277,1709.5 277.5,1637.9 278,1727.5 278.5,1650.1 279,1734.2 279.5,1655.6 280,1714.9 280.5,1622.8 281,1737.6 281.5,1614.2 282,1692.7 282.5,1608.4 283,1713.6 283.5,1624.5 284,1721.8 284.5,1621.7 285,1707.7 285.5,1637.8 286,1731.6 286.5,1630.2 287,1737.6 287.5,1647.3 288,1714.4 288.5,1619.6 289,1701.8 289.5,1640 290,1718 290.5,1623 291,1708.7 291.5,1615.1 292,1690.6 292.5,1630.2 293,1681.7 293.5,1625.9 294,1701.2 294.5,1626.8 295,1691.6 295.5,1628.5 296,1699 296.5,1625 297,1696.9 297.5,1607.8 298,1683.7 298.5,1581.5 299,1697.4 299.5,1628.3 300,1692.3 300.5,1624.4 301,1693 301.5,1612.5 302,1694.3 302.5,1615.7 303,1699.4 303.5,1619.1 304,1679.4 304.5,1633.5 305,1730.5 305.5,1633.8 306,1705.2 306.5,1634 307,1726.4 307.5,1664.4 308,1716.6 308.5,1620.6 309,1704.3 309.5,1623.3 310,1718.4 310.5,1615.1 311,1695.7 311.5,1610.5 312,1699.9 312.5,1624.4 313,1750.2 313.5,1588.3 314,1708.9 314.5,1614.9 315,1703.3 315.5,1601.7 316,1683.2 316.5,1590.2 317,1683.3 317.5,1610.4 318,1692.9 318.5,1605.7 319,1685.5 319.5,1611.2 320,1725.8 320.5,1636.2 321,1714.5 321.5,1610.7 322,1691.8 322.5,1639 323,1713.3 323.5,1636.9 324,1723.9 324.5,1653.9 325,1733.6 325.5,1642.7 326,1715 326.5,1616.7 327,1707.3 327.5,1586.2 328,1687 328.5,1600.7 329,1702.2 329.5,1597.1 330,1667.9 330.5,1611.5 331,1693.3 331.5,1606.8 332,1693.1 332.5,1628.2 333,1700.9 333.5,1627.2 334,1690.3 334.5,1609.1 335,1738.9 335.5,1621 336,1704.1 336.5,1623.2 337,1705.1 337.5,1676.1 338,1718.6 338.5,1669.5 339,1725.4 339.5,1679.2 340,1731.5 340.5,1681.9 341,1728.4 341.5,1674.3 342,1718.2 342.5,1679 343,1723.9 343.5,1666.5 344,1724.4 344.5,1675.9 345,1720.8 345.5,1671 346,1711.8 346.5,1671.3 347,1725.1 347.5,1688.8 348,1735.3 348.5,1668 349,1742 349.5,1665.9 350,1710 350.5,1672.6 351,1710.2 351.5,1660.6 352,1715.4 352.5,1673 353,1709.1 353.5,1666.4 354,1720.3 354.5,1680 355,1729.6 355.5,1684.2 356,1726.9 356.5,1686.2 357,1736.3 357.5,1672.1 358,1733.4 358.5,1674.3 359,1727 359.5,1668.1 360,1727.6 360.5,1668.9 361,1715.5 361.5,1692.8 362,1737.7 362.5,1694.1 363,1737.1 363.5,1706.7 364,1757.5 364.5,1670.4 365,1726.2 365.5,1560 366,1647.2 366.5,1557 367,1592.5 367.5,1555.7 368,1603.3 368.5,1557.2 369,1594 369.5,1550.6 370,1586.1 370.5,1548.9 371,1588.2 371.5,1540.8 372,1577.6 372.5,1545.5 373,1590 373.5,1539.9 374,1586.5 374.5,1544.7 375,1578.3 375.5,1546.5 376,1595.2 376.5,1548.2 377,1587.1 377.5,1564.5 378,1598.7 378.5,1559.8 379,1597.3 379.5,1561.8 380,1590.2 380.5,1547.3 381,1595.5 381.5,1562 382,1588.3 382.5,1548.5 383,1590.6 383.5,1545.4 384,1582.9 384.5,1555.1 385,1588.3 385.5,1534 386,1571.5 386.5,1543.4 387,1577.4 387.5,1536.3 388,1572.7 388.5,1536.1 389,1568.1 389.5,1535.7 390,1582.7 390.5,1543.7 391,1589.3 391.5,1549.9 392,1585.6 392.5,1560.4 393,1601.2 393.5,1560.2 394,1590 394.5,1569.4 395,1604.4 395.5,1555.9 396,1592.8 396.5,1548.9 397,1591.6 397.5,1555.6 398,1585.1 398.5,1541.9 399,1578.7 399.5,1538 400,1582.5 400.5,1538.9 401,1566.7 401.5,1539.8 402,1574.4 402.5,1542.3 403,1587.3 403.5,1536.8 404,1579 404.5,1542 405,1583.7 405.5,1543.6 406,1576.1 406.5,1534.2 407,1572.6 407.5,1535 408,1582.3 408.5,1540.6 409,1571.7 409.5,1549.4 410,1591.9 410.5,1570.5 411,1604 411.5,1560.7 412,1605.2 412.5,1564.5 413,1601.6 413.5,1569.6 414,1605.2 414.5,1557.5 415,1606.4 415.5,1563 416,1595.9 416.5,1561.9 417,1609 417.5,1568.7 418,1607.5 418.5,1563.6 419,1596.7 419.5,1557.9 420,1608.2 420.5,1572.9 421,1610.4 421.5,1559.4 422,1596.5 422.5,1554.3 423,1609.7 423.5,1544.3 424,1587.7 424.5,1545.1 425,1587.9 425.5,1553.7 426,1584.5 426.5,1559.9 427,1599.2 427.5,1559.5 428,1590.2 428.5,1565.5 429,1612 429.5,1557.6 430,1589.1 430.5,1566.9 431,1600.3 431.5,1562.3 432,1597.6 432.5,1558.8 433,1603.3 433.5,1563.8 434,1600.1 434.5,1551.4 435,1599.1 435.5,1547.6 436,1599.1 436.5,1550.8 437,1596.1 437.5,1555.2 438,1595.2 438.5,1565.9 439,1603.7 439.5,1549.7 440,1587.9 440.5,1555.6 441,1590.1 441.5,1562 442,1587.3 442.5,1560.4 443,1598.5 443.5,1552.8 444,1591.6 444.5,1552.6 445,1590.9 445.5,1562.7 446,1588.8 446.5,1551.8 447,1585.2 447.5,1547.4 448,1591.9 448.5,1540.3 449,1587.2 449.5,1540.7 450,1581.6 450.5,1552.5 451,1593.6 451.5,1551.2 452,1585.5 452.5,1557.2 453,1595.1 453.5,1550.8 454,1589.9 454.5,1552.7 455,1593.7 455.5,1541.6 456,1579.7 456.5,1539.3 457,1588.1 457.5,1534.5 458,1577.7 458.5,1537.9 459,1579.5 459.5,1545 460,1582.5 460.5,1559.7 461,1589.1 461.5,1551.4 462,1596.8 462.5,1551 463,1591.3 463.5,1548.3 464,1588.5 464.5,1562.6 465,1592 465.5,1557.2 466,1610.2 466.5,1562.4 467,1607.1 467.5,1562.5 468,1601 468.5,1568.9 469,1595.6 469.5,1557 470,1592.5 470.5,1562.3 471,1602.6 471.5,1571.1 472,1615.3 472.5,1574 473,1598.2 473.5,1567.6 474,1606.7 474.5,1559.9 475,1592 475.5,1555.8 476,1596.1 476.5,1552.7 477,1593 477.5,1560.3 478,1599.1 478.5,1558.4 479,1606 479.5,1557.4 480,1600.8 480.5,1570.9 481,1605.9 481.5,1558.8 482,1604.7 482.5,1552.5 483,1595.3 483.5,1553 484,1599.4 484.5,1545.5 485,1599.4 485.5,1557 486,1600.4 486.5,1565.2 487,1596.2 487.5,1557 488,1604.3 488.5,1564.1 489,1598.7 489.5,1542.7 490,1587.1 490.5,1552.7 491,1576.8 491.5,1547.2 492,1603 492.5,1549.3 493,1592.2 493.5,1563.7 494,1604.2 494.5,1564.9 495,1600.2 495.5,1560.3 496,1600.9 496.5,1553.3 497,1595.4 497.5,1548.6 498,1596.6 498.5,1553.8 499,1590.7 499.5,1558.4 500,1592 500.5,1546.8 501,1586.5 501.5,1553.2 502,1591.9 502.5,1538 503,1584.2 503.5,1542.1 504,1590.4 504.5,1563.1 505,1594.2 505.5,1561.6 506,1602 506.5,1564.4 507,1591.6 507.5,1534.3 508,1596.3 508.5,1539 509,1577.9 509.5,1547.7 510,1575.8 510.5,1533.8 511,1579 511.5,1539.3 512,1580.4 512.5,1554.2 513,1584.2 513.5,1551.9 514,1588 514.5,1556.2 515,1588.3 515.5,1551.8 516,1585.7 516.5,1549.8 517,1587.6 517.5,1540.4 518,1578.6 518.5,1549.6 519,1581.7 519.5,1543.8 520,1593.2 520.5,1549.3 521,1594.1 521.5,1563.5 522,1595.6 522.5,1558.4 523,1602.9 523.5,1555.2 524,1605.4 524.5,1564.7 525,1614.6 525.5,1541.6 526,1606.7 526.5,1562 527,1597.7 527.5,1567.5 528,1597.8 528.5,1562.2 529,1605.1 529.5,1549.8 530,1594.7 530.5,1546.1 531,1581.2 531.5,1539.7 532,1590.1 532.5,1538.9 533,1578.2 533.5,1554.3 534,1591.5 534.5,1553.5 535,1601.7 535.5,1559.5 536,1601 536.5,1552.2 537,1592.8 537.5,1547.4 538,1609.7 538.5,1546 539,1583.8 539.5,1539.5 540,1590.2 540.5,1550.4 541,1588.2 541.5,1564 542,1605.7 542.5,1570.2 543,1612.6 543.5,1559.2 544,1598.5 544.5,1547.5 545,1594.9 545.5,1543.9 546,1584.4 546.5,1556.3 547,1601.9 547.5,1562.7 548,1603.2 548.5,1567.6 549,1598.9 549.5,1569.9 550,1604.8 550.5,1549.8 551,1593.4 551.5,1540.3 552,1584.1 552.5,1537.3 553,1572.4 553.5,1536 554,1573.5 554.5,1533 555,1585.2 555.5,1551.3 556,1586.6 556.5,1548.3 557,1586.7 557.5,1551.8 558,1592.3 558.5,1555.3 559,1591.6 559.5,1547.2 560,1590.2 560.5,1549.5 561,1600.2 561.5,1561.2 562,1603.2 562.5,1563.5 563,1601.4 563.5,1563.7 564,1601.2 564.5,1565.7 565,1623.6 565.5,1564.9 566,1607.4 566.5,1562.8 567,1596.7 567.5,1550.6 568,1582.7 568.5,1544 569,1584 569.5,1558.1 570,1600.6 570.5,1544.7 571,1600 571.5,1539.4 572,1589.4 572.5,1550.2 573,1583.1 573.5,1540.9 574,1590.2 574.5,1541.5 575,1582.2 575.5,1546.8 576,1605.3 576.5,1551.3 577,1587.5 577.5,1552.3 578,1599 578.5,1554.7 579,1589.7 579.5,1543.5 580,1594.2 580.5,1545.9 581,1597.7 581.5,1558.8 582,1602.2 582.5,1553.8 583,1597.9 583.5,1537.7 584,1591.8 584.5,1558.9 585,1593 585.5,1555.9 586,1603.3 586.5,1548.4 587,1591 587.5,1553.7 588,1602.5 588.5,1554.5 589,1588.2 589.5,1560.3 590,1602.4 590.5,1563.5 591,1598.3 591.5,1566.9 592,1611.3 592.5,1567.1 593,1604.2 593.5,1555.9 594,1595.9 594.5,1556.2 595,1610.7 595.5,1563.8 596,1605.7 596.5,1563 597,1608 597.5,1551.6 598,1608.3 598.5,1553.2 599,1595 599.5,1553.6 600,1585.6 600.5,1552.4 601,1597.1 601.5,1556.1 602,1593.1 602.5,1545.2 603,1604.2 603.5,1553.4 604,1607.3 604.5,1572.9 605,1611.1 605.5,1568.9 606,1607.5 606.5,1571.4 607,1607 607.5,1556.3 608,1624.4 608.5,1562.4 609,1592.6 609.5,1560.1 610,1602.2 610.5,1556.4 611,1602.2 611.5,1578.5 612,1611.5 612.5,1558.2 613,1598.4 613.5,1568.3 614,1609.8 614.5,1560 615,1609.1 615.5,1556.5 616,1607.5 616.5,1559.3 617,1600.9 617.5,1565 618,1597.6 618.5,1558.7 619,1602.3 619.5,1546.2 620,1582.9 620.5,1543.7 621,1583.4 621.5,1536.2 622,1581.9 622.5,1535.4 623,1585.7 623.5,1539.1 624,1584.7 624.5,1546.3 625,1584.8 625.5,1551.5 626,1589 626.5,1560.3 627,1596.8 627.5,1560.7 628,1595.2 628.5,1554.8 629,1604.7 629.5,1573.3 630,1608.7 630.5,1554.2 631,1607.3 631.5,1571.1 632,1624.2 632.5,1565.6 633,1597.9 633.5,1553.3 634,1586.7 634.5,1556.3 635,1617.1 635.5,1557.8 636,1614.6 636.5,1559.2 637,1600.8 637.5,1571.3 638,1613.9 638.5,1566.8 639,1605.4 639.5,1568.5 640,1607.5 640.5,1570.9 641,1619.4 641.5,1562.3 642,1614.9 642.5,1559.5 643,1608.7 643.5,1562 644,1595.7 644.5,1554.9 645,1591.1 645.5,1552.3 646,1586.5 646.5,1554.4 647,1594.1 647.5,1546.1 648,1583.8 648.5,1543.3 649,1591.4 649.5,1548.1 650,1582.9 650.5,1551.6 651,1586.6 651.5,1556.5 652,1595.2 652.5,1561.2 653,1601.3 653.5,1558.5 654,1608.6 654.5,1552.3 655,1595.5 655.5,1545.7 656,1598.5 656.5,1555.7 657,1608.8 657.5,1570.5 658,1608 658.5,1566.5 659,1609.1 659.5,1578.7 660,1611.8 660.5,1558.1 661,1596.5 661.5,1555.9 662,1605.2 662.5,1567.5 663,1618.7 663.5,1559.4 664,1608.7 664.5,1565 665,1609.7 665.5,1578.2 666,1622.3 666.5,1563.2 667,1612.1 667.5,1568.5 668,1605.4 668.5,1560.3 669,1613.6 669.5,1581.3 670,1616.9 670.5,1572.8 671,1613.2 671.5,1551.4 672,1600.7 672.5,1555.5 673,1592.2 673.5,1532 674,1581.3 674.5,1546.4 675,1586.5 675.5,1539.2 676,1591.5 676.5,1545.6 677,1582.6 677.5,1565.2 678,1593.6 678.5,1557.4 679,1600.7 679.5,1556.1 680,1605.9 680.5,1555.6 681,1594.1 681.5,1555 682,1601.4 682.5,1549.9 683,1588.9 683.5,1553 684,1604.7 684.5,1541.1 685,1590.5 685.5,1555.8 686,1595.2 686.5,1556.5 687,1592.1 687.5,1559 688,1599.7 688.5,1556 689,1596.6 689.5,1553 690,1602.3 690.5,1554.7 691,1603.5 691.5,1558.7 692,1596 692.5,1547.7 693,1595.2 693.5,1574.4 694,1610.2 694.5,1556 695,1598.2 695.5,1561.2 696,1604.3 696.5,1564.2 697,1605.8 697.5,1546.2 698,1588.4 698.5,1562.1 699,1619.2 699.5,1548.4 700,1592.3 700.5,1551.3 701,1589.8 701.5,1548.3 702,1587.6 702.5,1534.7 703,1582.7 703.5,1541.8 704,1585.4 704.5,1550 705,1586.8 705.5,1539.7 706,1586.4 706.5,1555.2 707,1586.9 707.5,1542.4 708,1591.1 708.5,1535.1 709,1588.5 709.5,1537.8 710,1583.3 710.5,1555.5 711,1602.7 711.5,1559.8 712,1603.4 712.5,1568.3 713,1618.1 713.5,1566.5 714,1606.4 714.5,1555.3 715,1599.8 715.5,1550.3 716,1601.2 716.5,1552.1 717,1588.2 717.5,1553.4 718,1593.4 718.5,1564.8 719,1591.1 719.5,1558.1 720,1600.4 720.5,1561.3 721,1601.4 721.5,1556.9 722,1598.5 722.5,1550.5 723,1598.4 723.5,1547.8 724,1609.3 724.5,1550.5 725,1599 725.5,1550.7 726,1596.6 726.5,1549.9 727,1590.2 727.5,1556.9 728,1598.4 728.5,1561.8 729,1602.7 729.5,1557.2 730,1597.5 730.5,1543.4 731,1597.9 731.5,1553.9 732,1594.4 732.5,1554.5 733,1589.2 733.5,1566.6 734,1608 734.5,1562 735,1607.5 735.5,1562.5 736,1594 736.5,1551.1 737,1595.6 737.5,1561 738,1592 738.5,1548.2 739,1602.8 739.5,1551.9 740,1595.9 740.5,1548.1 741,1591.8 741.5,1548.8 742,1601.7 742.5,1559.2 743,1609.3 743.5,1550.8 744,1593.7 744.5,1553.6 745,1592.2 745.5,1547.6 746,1613 746.5,1546 747,1595.6 747.5,1551.9 748,1605 748.5,1563.1 749,1611.5 749.5,1555 750,1597.6 750.5,1565 751,1608.8 751.5,1560.1 752,1616.8 752.5,1553.8 753,1593.7 753.5,1547.4 754,1603 754.5,1554.2 755,1606.1 755.5,1547.8 756,1594.9 756.5,1549.4 757,1601.3 757.5,1556.9 758,1602.3 758.5,1562 759,1610.5 759.5,1568.8 760,1606.9 760.5,1559 761,1613.7 761.5,1570.8 762,1604.1 762.5,1555.6 763,1607.9 763.5,1562.2 764,1615 764.5,1558.6 765,1615.8 765.5,1569.6 766,1611.5 766.5,1573.2 767,1613.9 767.5,1557.3 768,1607.9 768.5,1562 769,1593.9 769.5,1549.4 770,1595.7 770.5,1531 771,1581.4 771.5,1535.1 772,1585.9 772.5,1542.1 773,1592.2 773.5,1558.4 774,1613 774.5,1569.6 775,1604.8 775.5,1557.3 776,1594.5 776.5,1560.6 777,1609 777.5,1544.6 778,1588.7 778.5,1543.7 779,1606.1 779.5,1552.6 780,1601.8 780.5,1549.7 781,1595 781.5,1563.6 782,1602 782.5,1556.1 783,1608.7 783.5,1558.2 784,1601.7 784.5,1556.6 785,1610.4 785.5,1558.6 786,1598.8 786.5,1545.9 787,1584.6 787.5,1541.8 788,1584.5 788.5,1545.3 789,1589.9 789.5,1545.2 790,1593.1 790.5,1554.6 791,1595.6 791.5,1565.9 792,1599.7 792.5,1577.6 793,1612.8 793.5,1573.7 794,1618.7 794.5,1573.3 795,1604.9 795.5,1568.1 796,1612.5 796.5,1554 797,1592.3 797.5,1549.5 798,1589.4 798.5,1563.1 799,1598 799.5,1551.8 800,1606.7 800.5,1543.5 801,1587.2 801.5,1538.5 802,1575.2 802.5,1540.6 803,1580.7 803.5,1539.8 804,1586.9 804.5,1553.9 805,1595 805.5,1565.8 806,1615.3 806.5,1554.6 807,1599.3 807.5,1556.1 808,1608.7 808.5,1559 809,1601.6 809.5,1558.8 810,1613.6 810.5,1552.7 811,1616.3 811.5,1546.2 812,1605.8 812.5,1551.6 813,1603.3 813.5,1569.5 814,1617.2 814.5,1558.7 815,1625.1 815.5,1581.1 816,1637.2 816.5,1555.8 817,1614.8 817.5,1576.1 818,1615.7 818.5,1554.8 819,1616.8 819.5,1568.4 820,1617.6 820.5,1554.2 821,1620 821.5,1562.8 822,1624.1 822.5,1566.1 823,1615.7 823.5,1554.3 824,1616.9 824.5,1550.4 825,1609.5 825.5,1560 826,1619.1 826.5,1575.4 827,1628.7 827.5,1561 828,1625.1 828.5,1571.3 829,1690 829.5,1556.8 830,1625.4 830.5,1550.9 831,1607.5 831.5,1552.6 832,1608.3 832.5,1552.9 833,1694 833.5,1554.6 834,1621.7 834.5,1555.2 835,1634.1 835.5,1573.2 836,1629.5 836.5,1580.9 837,1626.1 837.5,1561.2 838,1623.6 838.5,1557 839,1626.3 839.5,1568.9 840,1619 840.5,1559.8 841,1627.1 841.5,1593.6 842,1643.6 842.5,1600.3 843,1653.2 843.5,1588.9 844,1657.3 844.5,1605.8 845,1649 845.5,1598.7 846,1637.7 846.5,1585.2 847,1648.2" />
<polyline fill="none" stroke="#AECC47" stroke-width="1.1" stroke-linejoin="round" points="148.5,1668.2 149,1719.2 149.5,1667.4 150,1713.1 150.5,1655.2 151,1704.7 151.5,1654.7 152,1719.3 152.5,1655.4 153,1714.7 153.5,1666.6 154,1706.6 154.5,1667.3 155,1702.5 155.5,1660.5 156,1721.4 156.5,1662.8 157,1711 157.5,1659.9 158,1721.6 158.5,1676.8 159,1730.3 159.5,1671.4 160,1718.1 160.5,1663.7 161,1726.9 161.5,1656.6 162,1717.3 162.5,1648.9 163,1703.4 163.5,1674.3 164,1723.6 164.5,1682.1 165,1732.1 165.5,1677 166,1718.4 166.5,1680.4 167,1730.9 167.5,1683.1 168,1724 168.5,1662.4 169,1729.1 169.5,1668.9 170,1716.5 170.5,1678.9 171,1723.9 171.5,1688.7 172,1748.3 172.5,1663.5 173,1730.9 173.5,1685.7 174,1737.7 174.5,1672 175,1712.2 175.5,1661.3 176,1729.8 176.5,1675.8 177,1711.2 177.5,1659.6 178,1711.8 178.5,1658 179,1698.4 179.5,1652.9 180,1702.5 180.5,1649.9 181,1700.4 181.5,1646.7 182,1710.2 182.5,1666.4 183,1714.2 183.5,1663.2 184,1700 184.5,1649.7 185,1701.3 185.5,1657 186,1700.1 186.5,1668.3 187,1712.7 187.5,1660 188,1704.7 188.5,1652.1 189,1720.2 189.5,1655.1 190,1716.1 190.5,1640.3 191,1700.1 191.5,1664.9 192,1712.7 192.5,1640.7 193,1705.6 193.5,1649.9 194,1702.9 194.5,1664.3 195,1702.9 195.5,1652.5 196,1700.5 196.5,1645.3 197,1693.3 197.5,1635.7 198,1695.6 198.5,1661 199,1704.4 199.5,1657.1 200,1713.8 200.5,1666.5 201,1705.3 201.5,1664.8 202,1713.3 202.5,1652.4 203,1716.2 203.5,1661.7 204,1703.1 204.5,1671 205,1703.8 205.5,1670.3 206,1711.9 206.5,1654.1 207,1704.7 207.5,1672.2 208,1724.7 208.5,1663.5 209,1699.6 209.5,1663.3 210,1697.2 210.5,1652.6 211,1702.7 211.5,1662.7 212,1719.6 212.5,1661.6 213,1715.1 213.5,1684.1 214,1734.6 214.5,1681.4 215,1736.6 215.5,1666 216,1716.5 216.5,1671.1 217,1718.7 217.5,1663.5 218,1715.7 218.5,1672.7 219,1719.6 219.5,1671.4 220,1722.1 220.5,1653.5 221,1715 221.5,1657 222,1710.6 222.5,1684.2 223,1716 223.5,1680.5 224,1729 224.5,1696.8 225,1740.8 225.5,1675.2 226,1737.2 226.5,1662.9 227,1711.9 227.5,1669.7 228,1727.4 228.5,1669.2 229,1722.5 229.5,1663.5 230,1719.8 230.5,1674.8 231,1731.5 231.5,1662.4 232,1714.5 232.5,1661.5 233,1699 233.5,1651.2 234,1688.7 234.5,1659.1 235,1710.2 235.5,1662.5 236,1720.4 236.5,1660.5 237,1724 237.5,1664.7 238,1717.5 238.5,1660 239,1701.3 239.5,1649.8 240,1712.6 240.5,1661.5 241,1721.3 241.5,1653.7 242,1696.9 242.5,1649.8 243,1708.3 243.5,1653.6 244,1709.8 244.5,1658.4 245,1711.9 245.5,1655.4 246,1713.2 246.5,1666.8 247,1719.9 247.5,1674.3 248,1708.8 248.5,1652.1 249,1699 249.5,1652.3 250,1699.2 250.5,1657.8 251,1700.4 251.5,1667.9 252,1707.6 252.5,1680.9 253,1720.2 253.5,1672.1 254,1715.4 254.5,1661.4 255,1709.3 255.5,1673 256,1709.9 256.5,1669.3 257,1722.2 257.5,1665.9 258,1709.9 258.5,1661.6 259,1703 259.5,1665.6 260,1716.1 260.5,1646.9 261,1715.3 261.5,1670.7 262,1722.5 262.5,1665.7 263,1713.5 263.5,1658.2 264,1708.4 264.5,1668.6 265,1715.2 265.5,1643.1 266,1706 266.5,1616.8 267,1688.1 267.5,1611.1 268,1677 268.5,1627.2 269,1679.4 269.5,1640.3 270,1703.8 270.5,1621.8 271,1712.3 271.5,1632.9 272,1722.5 272.5,1631.2 273,1703.2 273.5,1644 274,1707.7 274.5,1634.2 275,1731.3 275.5,1644.9 276,1728.6 276.5,1667.3 277,1730 277.5,1624.5 278,1691.1 278.5,1625.7 279,1738.6 279.5,1648.4 280,1724.1 280.5,1617 281,1699.5 281.5,1627.7 282,1695.6 282.5,1619.7 283,1679.8 283.5,1611.9 284,1687.3 284.5,1651.9 285,1696.3 285.5,1621.6 286,1701.6 286.5,1631.4 287,1696.3 287.5,1633.1 288,1689.6 288.5,1611.1 289,1703.4 289.5,1636.2 290,1713 290.5,1650.6 291,1725.7 291.5,1608.4 292,1723.5 292.5,1650.9 293,1727.7 293.5,1652.7 294,1721.8 294.5,1620.4 295,1707.5 295.5,1629.7 296,1691.6 296.5,1613.8 297,1689.4 297.5,1587.7 298,1667.6 298.5,1617.6 299,1692.9 299.5,1596.8 300,1671.1 300.5,1621.6 301,1690.3 301.5,1603.4 302,1673 302.5,1621.7 303,1675.3 303.5,1624.8 304,1680 304.5,1621.3 305,1687.1 305.5,1639.8 306,1690.6 306.5,1615.9 307,1677.7 307.5,1637 308,1691 308.5,1619.8 309,1698.8 309.5,1644.3 310,1713.5 310.5,1631 311,1701.7 311.5,1617.1 312,1697.1 312.5,1613.8 313,1695.1 313.5,1622.4 314,1692.3 314.5,1599.8 315,1686.7 315.5,1614.9 316,1685.7 316.5,1624.7 317,1713.1 317.5,1630.4 318,1693.5 318.5,1620.2 319,1704.5 319.5,1621.8 320,1678.3 320.5,1611.8 321,1695.5 321.5,1631 322,1701.6 322.5,1608.1 323,1679.7 323.5,1629.4 324,1691.5 324.5,1581.6 325,1691.5 325.5,1605.2 326,1689.5 326.5,1609.2 327,1675.9 327.5,1628.6 328,1690.4 328.5,1605.2 329,1690.3 329.5,1625.3 330,1699.8 330.5,1624 331,1689.7 331.5,1622.2 332,1695.8 332.5,1595.7 333,1702 333.5,1625.2 334,1717.2 334.5,1648.9 335,1707.1 335.5,1640 336,1704 336.5,1625.8 337,1689.8 337.5,1616.3 338,1657.5 338.5,1624.8 339,1650.5 339.5,1616.3 340,1644.6 340.5,1613.2 341,1653.1 341.5,1617.9 342,1640.5 342.5,1622.4 343,1647.3 343.5,1624.7 344,1649.4 344.5,1630.1 345,1654.7 345.5,1629.5 346,1654 346.5,1634.7 347,1660.9 347.5,1617.2 348,1645.4 348.5,1621.3 349,1646.3 349.5,1612.4 350,1649.3 350.5,1613.5 351,1637 351.5,1612.4 352,1647.5 352.5,1609.6 353,1636.1 353.5,1613.1 354,1641.2 354.5,1607.6 355,1639.4 355.5,1613.6 356,1648.4 356.5,1622.2 357,1656.4 357.5,1632 358,1655.4 358.5,1629.8 359,1665 359.5,1633.5 360,1659.3 360.5,1623.8 361,1650.8 361.5,1628.8 362,1653.4 362.5,1615.5 363,1653.5 363.5,1615.3 364,1650.5 364.5,1617.2 365,1642.7 365.5,1612.7 366,1641 366.5,1610 367,1654.3 367.5,1627.5 368,1662.2 368.5,1626.1 369,1658.9 369.5,1633.2 370,1675.6 370.5,1636.5 371,1659.9 371.5,1620.7 372,1660.7 372.5,1630.5 373,1663.1 373.5,1626.6 374,1663.9 374.5,1626.6 375,1673.3 375.5,1637.9 376,1672.7 376.5,1626.9 377,1673.7 377.5,1633.1 378,1667.8 378.5,1628.4 379,1662 379.5,1620.1 380,1665.7 380.5,1626.5 381,1667 381.5,1624 382,1656.8 382.5,1629.8 383,1662.7 383.5,1624.8 384,1659.9 384.5,1616.4 385,1657.3 385.5,1623.8 386,1662.5 386.5,1615.2 387,1657.9 387.5,1611 388,1656.5 388.5,1625.1 389,1669.3 389.5,1627.6 390,1654 390.5,1632.6 391,1657.2 391.5,1622.6 392,1668.3 392.5,1631.7 393,1655.7 393.5,1624.3 394,1669 394.5,1619.8 395,1658.9 395.5,1621.6 396,1662.9 396.5,1625.1 397,1651.4 397.5,1614.8 398,1650.2 398.5,1623.7 399,1644.7 399.5,1622.7 400,1649 400.5,1619.2 401,1648.7 401.5,1626.8 402,1654.7 402.5,1628.1 403,1652.6 403.5,1628.9 404,1656.9 404.5,1626.1 405,1674 405.5,1629.2 406,1661.8 406.5,1626.8 407,1662.7 407.5,1636 408,1654.3 408.5,1626.9 409,1665.3 409.5,1628.1 410,1661 410.5,1631.4 411,1664.7 411.5,1629.2 412,1652.3 412.5,1621.6 413,1651.5 413.5,1617.1 414,1652.4 414.5,1622.8 415,1640.8 415.5,1622.4 416,1652 416.5,1621.2 417,1653.7 417.5,1622.8 418,1646.2 418.5,1615.6 419,1645 419.5,1616.9 420,1642.1 420.5,1630.7 421,1659.5 421.5,1629.4 422,1656.7 422.5,1634.2 423,1663.6 423.5,1632.3 424,1664.9 424.5,1634.5 425,1659.9 425.5,1623.5 426,1655 426.5,1626.3 427,1662.8 427.5,1625 428,1656.4 428.5,1626.3 429,1659.9 429.5,1627 430,1657.2 430.5,1629.6 431,1659.5 431.5,1621.1 432,1652.5 432.5,1625.9 433,1664.2 433.5,1620.4 434,1648.9 434.5,1619.7 435,1649.6 435.5,1618.8 436,1654.8 436.5,1619.2 437,1649 437.5,1624.4 438,1653.5 438.5,1619.7 439,1650.9 439.5,1622.2 440,1652.7 440.5,1621.8 441,1649.7 441.5,1617.7 442,1649.4 442.5,1630 443,1652.7 443.5,1629.2 444,1656.9 444.5,1628.6 445,1657 445.5,1631.4 446,1668 446.5,1628.7 447,1675.2 447.5,1629.6 448,1668.7 448.5,1631.5 449,1657.6 449.5,1620.5 450,1655 450.5,1623.6 451,1657.6 451.5,1607.3 452,1647.7 452.5,1618.6 453,1651.5 453.5,1625.7 454,1655.6 454.5,1612.9 455,1641.4 455.5,1619.2 456,1651.9 456.5,1618.6 457,1638.4 457.5,1602.2 458,1647.1 458.5,1620.9 459,1653.8 459.5,1623.2 460,1647.6 460.5,1627.8 461,1659.4 461.5,1630.8 462,1655.9 462.5,1627.9 463,1654.7 463.5,1617.7 464,1664.8 464.5,1629.7 465,1652.8 465.5,1623 466,1652.7 466.5,1616.3 467,1655.6 467.5,1611.4 468,1642.2 468.5,1622.8 469,1657.5 469.5,1618.3 470,1654.2 470.5,1625.9 471,1655.2 471.5,1636.8 472,1665 472.5,1630.1 473,1662.7 473.5,1632.8 474,1660.3 474.5,1625.7 475,1654.4 475.5,1617 476,1647.1 476.5,1614.4 477,1648.4 477.5,1610.3 478,1636.2 478.5,1602.9 479,1642.8 479.5,1619.3 480,1641.8 480.5,1614.7 481,1648.1 481.5,1623.9 482,1653.8 482.5,1623.9 483,1659 483.5,1628.1 484,1668.1 484.5,1630.3 485,1665.3 485.5,1625 486,1656.5 486.5,1620.3 487,1651.2 487.5,1615 488,1642.2 488.5,1611.9 489,1649 489.5,1617.1 490,1656.6 490.5,1609.5 491,1652 491.5,1622.3 492,1644.8 492.5,1612.6 493,1654.9 493.5,1622.1 494,1652.8 494.5,1632.6 495,1657.8 495.5,1636.4 496,1660.8 496.5,1626.9 497,1657.1 497.5,1627.3 498,1673.2 498.5,1627.7 499,1662.1 499.5,1622.9 500,1656.8 500.5,1624.4 501,1658.8 501.5,1626.9 502,1653.1 502.5,1624.3 503,1656.9 503.5,1622.5 504,1651 504.5,1619.3 505,1657.9 505.5,1623.9 506,1660.6 506.5,1628.2 507,1660.2 507.5,1631 508,1662.7 508.5,1639.8 509,1663.5 509.5,1630 510,1670.3 510.5,1621.4 511,1651.5 511.5,1625.4 512,1659.6 512.5,1620.1 513,1657.4 513.5,1612.7 514,1641.2 514.5,1607.7 515,1646.4 515.5,1618.1 516,1645.7 516.5,1612.6 517,1637.6 517.5,1615.8 518,1652.3 518.5,1606.1 519,1639.6 519.5,1609.8 520,1640.1 520.5,1613.6 521,1649.6 521.5,1612.7 522,1642.8 522.5,1627.6 523,1659.6 523.5,1628.8 524,1659.2 524.5,1632.2 525,1672.7 525.5,1627.6 526,1649.5 526.5,1624.3 527,1652 527.5,1622.1 528,1658.7 528.5,1623.6 529,1655.8 529.5,1626.7 530,1662.2 530.5,1625.7 531,1658.4 531.5,1624.4 532,1666.4 532.5,1629.8 533,1661.3 533.5,1626 534,1662 534.5,1623.2 535,1658.1 535.5,1619.6 536,1669.6 536.5,1615 537,1653.2 537.5,1620.2 538,1720 538.5,1624.9 539,1724 539.5,1615.1 540,1652.7 540.5,1622.2 541,1648.7 541.5,1618.5 542,1642.8 542.5,1614.6 543,1644.9 543.5,1619.7 544,1647.4 544.5,1612.7 545,1641.5 545.5,1606.6 546,1642.2 546.5,1616.9 547,1642.4 547.5,1619.7 548,1649.8 548.5,1626.9 549,1653.5 549.5,1614.4 550,1655.7 550.5,1617.6 551,1645.4 551.5,1623.3 552,1652.2 552.5,1624.5 553,1657.3 553.5,1622.4 554,1660.7 554.5,1624.1 555,1654.9 555.5,1634.9 556,1668.4 556.5,1628.2 557,1666.1 557.5,1626 558,1656.7 558.5,1630.9 559,1659 559.5,1621.8 560,1648.1 560.5,1619.2 561,1653.2 561.5,1634.1 562,1658.9 562.5,1624.2 563,1656.1 563.5,1630.5 564,1661 564.5,1621.1 565,1657.6 565.5,1620.9 566,1657.9 566.5,1626.1 567,1649.7 567.5,1619.9 568,1659.5 568.5,1625 569,1659.7 569.5,1615.7 570,1656.2 570.5,1622.2 571,1651.5 571.5,1623.3 572,1655.1 572.5,1620.7 573,1662.2 573.5,1622.6 574,1653 574.5,1617.6 575,1649.1 575.5,1619.5 576,1661 576.5,1625.4 577,1655.5 577.5,1628.4 578,1679.4 578.5,1618.3 579,1660.4 579.5,1616.8 580,1658.2 580.5,1616 581,1657.4 581.5,1610.5 582,1647.8 582.5,1606.9 583,1639.8 583.5,1619.9 584,1654.5 584.5,1606.6 585,1637.9 585.5,1616.1 586,1652.9 586.5,1623.8 587,1670.7 587.5,1630.2 588,1656.9 588.5,1630.6 589,1667.4 589.5,1625.1 590,1662.4 590.5,1634.7 591,1665.4 591.5,1616.5 592,1657.4 592.5,1619.5 593,1649.8 593.5,1628.9 594,1657.4 594.5,1612 595,1655.1 595.5,1625.7 596,1665 596.5,1616.6 597,1655.8 597.5,1621.1 598,1648.7 598.5,1623.7 599,1656.7 599.5,1620.2 600,1653.7 600.5,1628.6 601,1660.1 601.5,1622.7 602,1659.3 602.5,1623.4 603,1656.3 603.5,1629 604,1664 604.5,1632.8 605,1665.3 605.5,1631.7 606,1654 606.5,1622 607,1650.1 607.5,1613.3 608,1655.2 608.5,1628.4 609,1652.9 609.5,1628 610,1651.4 610.5,1624.8 611,1664.4 611.5,1623.4 612,1654.3 612.5,1612.4 613,1656.1 613.5,1618.9 614,1651.7 614.5,1606.9 615,1651 615.5,1617.4 616,1658.6 616.5,1627.5 617,1661.7 617.5,1629.1 618,1671.7 618.5,1642.3 619,1679 619.5,1639.9 620,1672.4 620.5,1627.8 621,1669.3 621.5,1625.8 622,1664.5 622.5,1614.4 623,1646.7 623.5,1616.7 624,1648 624.5,1626.1 625,1654.4 625.5,1612.9 626,1659.9 626.5,1615.1 627,1657.6 627.5,1612.9 628,1652.2 628.5,1627.9 629,1661.6 629.5,1615.1 630,1656.7 630.5,1625.1 631,1662.7 631.5,1629.1 632,1664.5 632.5,1616.5 633,1663.5 633.5,1617.5 634,1653.8 634.5,1628.9 635,1663.7 635.5,1623.1 636,1666.6 636.5,1630.8 637,1659.4 637.5,1633.2 638,1667.5 638.5,1634.4 639,1672.3 639.5,1626.1 640,1661.6 640.5,1626 641,1651.8 641.5,1615.7 642,1651.8 642.5,1612 643,1652.9 643.5,1620.6 644,1657.2 644.5,1626.2 645,1659.6 645.5,1640.2 646,1671.5 646.5,1632.3 647,1669.3 647.5,1632.7 648,1664.3 648.5,1624.7 649,1660.2 649.5,1615.6 650,1647.7 650.5,1614.2 651,1651.9 651.5,1628.3 652,1656.7 652.5,1618.9 653,1656.9 653.5,1625.6 654,1653.8 654.5,1624.6 655,1658.7 655.5,1616.9 656,1645 656.5,1615.8 657,1655 657.5,1608.1 658,1646 658.5,1623.3 659,1648.9 659.5,1614.9 660,1655.7 660.5,1616.3 661,1659.7 661.5,1628.3 662,1665.4 662.5,1613.3 663,1653.5 663.5,1625.9 664,1666.6 664.5,1610.3 665,1660.2 665.5,1624.8 666,1666.4 666.5,1632.7 667,1665.7 667.5,1623.2 668,1670 668.5,1636.8 669,1668.6 669.5,1627.5 670,1664 670.5,1621.3 671,1658.5 671.5,1621.8 672,1659.4 672.5,1620.8 673,1659 673.5,1612.6 674,1650.6 674.5,1621.8 675,1648.7 675.5,1615.3 676,1659.2 676.5,1615.8 677,1645.4 677.5,1610.7 678,1656.9 678.5,1619.5 679,1648.3 679.5,1623 680,1657.7 680.5,1626.4 681,1657.7 681.5,1619 682,1647.2 682.5,1635.6 683,1660.1 683.5,1617.4 684,1654.7 684.5,1619.9 685,1657.4 685.5,1620.9 686,1645.6 686.5,1611.5 687,1658 687.5,1604.2 688,1647.1 688.5,1614.7 689,1652.6 689.5,1614.9 690,1642.9 690.5,1623 691,1668 691.5,1619.7 692,1654.3 692.5,1620.2 693,1662.4 693.5,1632.1 694,1659.5 694.5,1606.8 695,1666.8 695.5,1623.2 696,1666.8 696.5,1630.6 697,1661.5 697.5,1628.6 698,1667.1 698.5,1621.4 699,1664.3 699.5,1620.8 700,1660 700.5,1617.7 701,1658.2 701.5,1610.6 702,1643.1 702.5,1620.1 703,1653.5 703.5,1623.5 704,1659.6 704.5,1619.9 705,1663.4 705.5,1631.7 706,1662.2 706.5,1618 707,1657.2 707.5,1629.7 708,1657.8 708.5,1629.2 709,1656.3 709.5,1618.7 710,1663 710.5,1627 711,1669.4 711.5,1624.3 712,1666.2 712.5,1636.1 713,1669.6 713.5,1627.8 714,1662.1 714.5,1624.5 715,1659.4 715.5,1629.6 716,1666.7 716.5,1637.8 717,1671.3 717.5,1618 718,1655.5 718.5,1627.3 719,1662.5 719.5,1624.7 720,1661.4 720.5,1629.6 721,1652.9 721.5,1627.6 722,1670.2 722.5,1626.6 723,1665.1 723.5,1626.1 724,1659.9 724.5,1617.1 725,1658.4 725.5,1627.2 726,1657.5 726.5,1625.4 727,1661.8 727.5,1629.2 728,1668 728.5,1640.5 729,1677.2 729.5,1634.9 730,1682.3 730.5,1639.4 731,1680.3 731.5,1632.7 732,1680.2 732.5,1622.9 733,1669.2 733.5,1632.8 734,1672.7 734.5,1630.2 735,1660.6 735.5,1620.2 736,1660.1 736.5,1621 737,1646.6 737.5,1617.3 738,1652.4 738.5,1620.3 739,1655.6 739.5,1622.7 740,1660.8 740.5,1629.2 741,1660.4 741.5,1624.4 742,1665.2 742.5,1624.9 743,1657.3 743.5,1629.2 744,1656.3 744.5,1615.2 745,1662.4 745.5,1626.6 746,1660.8 746.5,1621 747,1654.5 747.5,1623.5 748,1663.9 748.5,1625.7 749,1662.1 749.5,1625.2 750,1665.4 750.5,1618.6 751,1658.4 751.5,1617.3 752,1648.1 752.5,1612.1 753,1647.3 753.5,1598.2 754,1646.2 754.5,1604 755,1645.2 755.5,1608.1 756,1656.5 756.5,1622.4 757,1646.9 757.5,1620.4 758,1660.4 758.5,1621.8 759,1649.5 759.5,1611.6 760,1649.9 760.5,1620.2 761,1656.2 761.5,1622.2 762,1666.8 762.5,1618.4 763,1685.1 763.5,1615.2 764,1684.6 764.5,1613 765,1676.2 765.5,1615.7 766,1680 766.5,1613.8 767,1671.9 767.5,1612.5 768,1683.2 768.5,1620.6 769,1669.2 769.5,1620.7 770,1679.1 770.5,1636.3 771,1731.7 771.5,1626.5 772,1672.1 772.5,1619.6 773,1728 773.5,1646.1 774,1703 774.5,1629.6 775,1696.3 775.5,1653.3 776,1707.8 776.5,1650.6 777,1695.5 777.5,1638.8 778,1698.9 778.5,1650.5 779,1713.4 779.5,1648 780,1701.1 780.5,1620 781,1664 781.5,1620.3 782,1663.2 782.5,1606.9 783,1651.5 783.5,1611.9 784,1647 784.5,1623.9 785,1654.7 785.5,1611.3 786,1655.4 786.5,1608.5 787,1648.6 787.5,1615.4 788,1644.9 788.5,1610.7 789,1646.9 789.5,1627.6 790,1655.8 790.5,1610.6 791,1654.9 791.5,1609 792,1658.7 792.5,1616.1 793,1651.1 793.5,1620.9 794,1649.2 794.5,1618 795,1656.3 795.5,1637.6 796,1676.5 796.5,1625.6 797,1663 797.5,1635.7 798,1662.2 798.5,1629.1 799,1653.4 799.5,1614.5 800,1658.4 800.5,1622 801,1663.7 801.5,1616.1 802,1646.5 802.5,1614.1 803,1653.3 803.5,1622.3 804,1658.8 804.5,1612.4 805,1644.1 805.5,1623.1 806,1672.9 806.5,1630.3 807,1659.6 807.5,1620.2 808,1654.3 808.5,1630.7 809,1664.2 809.5,1617.7 810,1652.8 810.5,1610.5 811,1652.1 811.5,1613.1 812,1646.3 812.5,1615.3 813,1654.8 813.5,1613.3 814,1658.4 814.5,1627.6 815,1651.3 815.5,1618.3 816,1658 816.5,1627.2 817,1660.2 817.5,1618.4 818,1658.2 818.5,1632.5 819,1660.1 819.5,1629.6 820,1661.6 820.5,1629.2 821,1662.9 821.5,1631.2 822,1662.5 822.5,1625 823,1661 823.5,1623.9 824,1652.2 824.5,1617.4 825,1658.8 825.5,1614 826,1650.9 826.5,1618.1 827,1646.4 827.5,1610.9 828,1645.6 828.5,1606.2 829,1652.9 829.5,1619.4 830,1656.3 830.5,1610.1 831,1652.7 831.5,1619.4 832,1666.7 832.5,1627.5 833,1660 833.5,1624.2 834,1659.1 834.5,1639.2 835,1673.9 835.5,1635.1 836,1664.6 836.5,1617.2 837,1663.1 837.5,1616.2 838,1653.2 838.5,1608.8 839,1642.5 839.5,1609.4 840,1651.4 840.5,1624.1 841,1656.1 841.5,1632.2 842,1663.2 842.5,1623.8 843,1682.2 843.5,1625.3 844,1663.3 844.5,1623 845,1659.9 845.5,1623 846,1662.2 846.5,1620.5 847,1652.4" />
<path d="M148 1789.3L162 1789.3 M148 1754.3L155.5 1754.3 M148 1719.3L162 1719.3 M148 1684.2L155.5 1684.2 M148 1649.2L162 1649.2 M148 1614.2L155.5 1614.2 M148 1579.2L162 1579.2 M148 1544.1L155.5 1544.1 M148 1509.1L162 1509.1 M148 1474.1L155.5 1474.1 M148 1439.1L162 1439.1 M148 1404.1L155.5 1404.1 M148 1369L162 1369 M148 1334L155.5 1334 M148 1299L162 1299 M148 1789.3L148 1775.3 M217.9 1789.3L217.9 1781.8 M287.8 1789.3L287.8 1775.3 M357.7 1789.3L357.7 1781.8 M427.6 1789.3L427.6 1775.3 M497.5 1789.3L497.5 1781.8 M567.4 1789.3L567.4 1775.3 M637.3 1789.3L637.3 1781.8 M707.2 1789.3L707.2 1775.3 M777.1 1789.3L777.1 1781.8 M847 1789.3L847 1775.3" stroke="#000" stroke-width="1.8" fill="none"/>
<rect x="148" y="1299" width="699" height="490.3" fill="none" stroke="#000" stroke-width="2.3"/>
<text x="83.50" y="1795.96" font-size="24.72" font-weight="bold" textLength="49.45" lengthAdjust="spacingAndGlyphs">0.00</text>
<text x="83.50" y="1725.92" font-size="24.72" font-weight="bold" textLength="49.10" lengthAdjust="spacingAndGlyphs">0.05</text>
<text x="83.50" y="1655.87" font-size="24.72" font-weight="bold" textLength="49.45" lengthAdjust="spacingAndGlyphs">0.10</text>
<text x="83.50" y="1585.83" font-size="24.72" font-weight="bold" textLength="49.10" lengthAdjust="spacingAndGlyphs">0.15</text>
<text x="83.50" y="1515.79" font-size="24.72" font-weight="bold" textLength="49.45" lengthAdjust="spacingAndGlyphs">0.20</text>
<text x="83.50" y="1445.74" font-size="24.72" font-weight="bold" textLength="49.10" lengthAdjust="spacingAndGlyphs">0.25</text>
<text x="83.50" y="1375.67" font-size="24.67" font-weight="bold" textLength="49.45" lengthAdjust="spacingAndGlyphs">0.30</text>
<text x="83.50" y="1305.62" font-size="24.67" font-weight="bold" textLength="49.10" lengthAdjust="spacingAndGlyphs">0.35</text>
<text x="140.45" y="1822.37" font-size="23.59" font-weight="bold" textLength="14.21" lengthAdjust="spacingAndGlyphs">0</text>
<text x="273.91" y="1822.37" font-size="23.59" font-weight="bold" textLength="27.11" lengthAdjust="spacingAndGlyphs">20</text>
<text x="414.42" y="1822.37" font-size="23.59" font-weight="bold" textLength="26.61" lengthAdjust="spacingAndGlyphs">40</text>
<text x="553.44" y="1822.37" font-size="23.59" font-weight="bold" textLength="27.16" lengthAdjust="spacingAndGlyphs">60</text>
<text x="693.42" y="1822.37" font-size="23.59" font-weight="bold" textLength="27.04" lengthAdjust="spacingAndGlyphs">80</text>
<text x="825.52" y="1822.37" font-size="23.59" font-weight="bold" textLength="40.94" lengthAdjust="spacingAndGlyphs">100</text>
<text x="427.85" y="1859.20" font-size="30.67" font-weight="bold" textLength="138.60" lengthAdjust="spacingAndGlyphs">Time (ns)</text>
<text transform="translate(60.20,1652.25) rotate(-90)" font-size="32.56" font-weight="bold" textLength="172.84" lengthAdjust="spacingAndGlyphs">RMSD (nm)</text>
<line x1="174.2" y1="1320.4" x2="199.6" y2="1320.4" stroke="#067EF6" stroke-width="2.6"/>
<text x="205.69" y="1328.30" font-size="20.93" font-weight="bold" textLength="61.62" lengthAdjust="spacingAndGlyphs">NOS2</text>
<line x1="174.2" y1="1349.5" x2="199.6" y2="1349.5" stroke="#FB7C7F" stroke-width="2.2"/>
<text x="205.68" y="1357.10" font-size="21.80" font-weight="bold" textLength="90.92" lengthAdjust="spacingAndGlyphs">LigandA</text>
<line x1="174.2" y1="1378.2" x2="199.6" y2="1378.2" stroke="#AECC47" stroke-width="2.0"/>
<text x="205.66" y="1386.40" font-size="21.80" font-weight="bold" textLength="91.88" lengthAdjust="spacingAndGlyphs">LigandB</text>
<path fill="none" stroke="#096C09" stroke-width="1.8" stroke-linejoin="round" d="M1044.3 391.2L1044.9 425.7L1045.6 441.1L1046.2 394.8L1046.9 421.7L1047.5 432.4L1048.1 408.8L1048.8 416.9L1049.4 405.4L1050.1 405.2L1050.7 397L1051.3 425.7L1052 381.7L1052.6 421.7L1053.2 351.6L1053.9 390L1054.5 404.5L1055.2 325.5L1055.8 234L1056.4 275.7L1057.1 365L1057.7 366.8L1058.4 382.5L1059 403.4L1059.6 426.4L1060.3 446.5L1060.9 416.6L1061.6 428.8L1062.2 428.7L1062.8 410.4L1063.5 425.7L1064.1 432.8L1064.8 382.7L1065.4 383.2L1066 314.5L1066.7 379.8L1067.3 389.9L1067.9 379.5L1068.6 352.4L1069.2 300.1L1069.9 237L1070.5 309.4L1071.1 317.8L1071.8 297.5L1072.4 295.1L1073.1 264.1L1073.7 200L1074.3 175.2L1075 284.3L1075.6 268.7L1076.3 371.8L1076.9 328.4L1077.5 316L1078.2 327.6L1078.8 370.3L1079.5 307.9L1080.1 377.3L1080.7 407.4L1081.4 353.1L1082 355.5L1082.6 413L1083.3 416.4L1083.9 379.8L1084.6 404.7L1085.2 415.6L1085.8 413.5L1086.5 411.9L1087.1 391.4L1087.8 380.9L1088.4 398L1089 427.8L1089.7 420L1090.3 433.3L1091 380.1L1091.6 299.5L1092.2 394.1L1092.9 426.6L1093.5 430.5L1094.1 369.5L1094.8 439.4L1095.4 440.2L1096.1 444.2L1096.7 424.1L1097.3 404.4L1098 441.7L1098.6 444.6L1099.3 426.6L1099.9 458.4L1100.5 425L1101.2 435.8L1101.8 436.3L1102.5 428.2L1103.1 441.3L1103.7 457.3L1104.4 459.5L1105 431.5L1105.7 467.3L1106.3 467.4L1106.9 440.4L1107.6 444.4L1108.2 468L1108.8 468.2L1109.5 462.9L1110.1 438.9L1110.8 469.6L1111.4 466.9L1112 433.8L1112.7 449.3L1113.3 453.4L1114 442L1114.6 459.9L1115.2 458L1115.9 415.2L1116.5 423.2L1117.2 432.5L1117.8 456.7L1118.4 448.7L1119.1 435.4L1119.7 433.6L1120.4 449.5L1121 440.9L1121.6 440.9L1122.3 443.7L1122.9 409.4L1123.5 421.5L1124.2 416.8L1124.8 431.4L1125.5 404.1L1126.1 426L1126.7 401.3L1127.4 403.1L1128 394.1L1128.7 427.6L1129.3 385.5L1129.9 401L1130.6 392.3L1131.2 379.1L1131.9 294.9L1132.5 390.2L1133.1 377L1133.8 414.4L1134.4 404.2L1135.1 436.8L1135.7 404.8L1136.3 422.2L1137 392.4L1137.6 383.9L1138.2 440.6L1138.9 405.9L1139.5 436.6L1140.2 413.5L1140.8 448.3L1141.4 370.4L1142.1 260.3L1142.7 383.8L1143.4 438.3L1144 464.2L1144.6 452.1L1145.3 437.6L1145.9 416.1L1146.6 419.2L1147.2 465.3L1147.8 414.8L1148.5 448.2L1149.1 420.4L1149.8 431.2L1150.4 475.2L1151 474.2L1151.7 432.4L1152.3 469.7L1152.9 450.6L1153.6 443.9L1154.2 433.2L1154.9 451L1155.5 468.9L1156.1 457.9L1156.8 447.8L1157.4 456L1158.1 442.3L1158.7 469.9L1159.3 446L1160 452.5L1160.6 406.8L1161.3 283.6L1161.9 405.3L1162.5 457.8L1163.2 451.5L1163.8 480.9L1164.5 461.2L1165.1 445.4L1165.7 445.6L1166.4 467.6L1167 475.5L1167.6 428.8L1168.3 468.5L1168.9 455.3L1169.6 468.7L1170.2 457.4L1170.8 477.9L1171.5 463.2L1172.1 449.4L1172.8 443.6L1173.4 466.9L1174 463.4L1174.7 453.5L1175.3 468.5L1176 477.9L1176.6 454.2L1177.2 463.2L1177.9 418.3L1178.5 348L1179.2 399.9L1179.8 393.9L1180.4 415.8L1181.1 387.5L1181.7 416.6L1182.3 402.1L1183 404.9L1183.6 375.7L1184.3 274.7L1184.9 397.1L1185.5 423.7L1186.2 408.7L1186.8 404.3L1187.5 407.1L1188.1 349.9L1188.7 344.4L1189.4 351.3L1190 430.8L1190.7 378L1191.3 409.6L1191.9 367.2L1192.6 382.2L1193.2 382.7L1193.8 386.4L1194.5 361L1195.1 337L1195.8 390.6L1196.4 387.2L1197 391.1L1197.7 389.7L1198.3 376.1L1199 423.2L1199.6 400.3L1200.2 379.7L1200.9 396.7L1201.5 301.4L1202.2 380.9L1202.8 331.9L1203.4 395.5L1204.1 413.9L1204.7 419.4L1205.4 424.2L1206 429.3L1206.6 450.3L1207.3 430.4L1207.9 407.7L1208.5 461.6L1209.2 439.9L1209.8 429.2L1210.5 451.5L1211.1 458.3L1211.7 452.2L1212.4 439.5L1213 474.1L1213.7 446.1L1214.3 459.4L1214.9 448.2L1215.6 457.5L1216.2 442L1216.9 416.9L1217.5 411.6L1218.1 430.5L1218.8 436.1L1219.4 408.9L1220.1 409.5L1220.7 414.3L1221.3 425.9L1222 450.2L1222.6 430.8L1223.2 438.1L1223.9 426L1224.5 354.8L1225.2 359.1L1225.8 399.9L1226.4 405.8L1227.1 427.8L1227.7 383.7L1228.4 365.8L1229 333.2L1229.6 362.6L1230.3 379.2L1230.9 437.7L1231.6 446.3L1232.2 439.8L1232.8 454.4L1233.5 414.5L1234.1 467.6L1234.8 439.8L1235.4 444.4L1236 436.5L1236.7 477.2L1237.3 451.1L1237.9 460.9L1238.6 462.8L1239.2 455.2L1239.9 471.3L1240.5 471.8L1241.1 473.7L1241.8 466.3L1242.4 471.2L1243.1 464.8L1243.7 476.7L1244.3 471.4L1245 473.9L1245.6 475.6L1246.3 469.1L1246.9 478.1L1247.5 463.6L1248.2 461L1248.8 467.4L1249.5 442.8L1250.1 465.4L1250.7 456.3L1251.4 423.6L1252 435.5L1252.6 409.7L1253.3 353.7L1253.9 415L1254.6 427.3L1255.2 363.7L1255.8 423.6L1256.5 418.9L1257.1 425.2L1257.8 412.5L1258.4 445.2L1259 409.5L1259.7 458L1260.3 459.9L1261 448.6L1261.6 448.4L1262.2 448.3L1262.9 468.7L1263.5 464.7L1264.2 467.8L1264.8 477.4L1265.4 464.9L1266.1 482.1L1266.7 478.1L1267.3 476.3L1268 474.8L1268.6 466.5L1269.3 451.8L1269.9 465L1270.5 455.3L1271.2 465.3L1271.8 459.8L1272.5 454.8L1273.1 436.2L1273.7 435.1L1274.4 404.6L1275 447.5L1275.7 410L1276.3 335L1276.9 402L1277.6 432.4L1278.2 391.7L1278.8 436L1279.5 384.7L1280.1 402.3L1280.8 393.6L1281.4 392.9L1282 376.8L1282.7 333L1283.3 374.6L1284 399.4L1284.6 406.5L1285.2 411.1L1285.9 434.1L1286.5 399.5L1287.2 428.6L1287.8 440.2L1288.4 441L1289.1 383.4L1289.7 359L1290.4 386.1L1291 421.4L1291.6 407.7L1292.3 445.5L1292.9 427.7L1293.5 429.7L1294.2 459.1L1294.8 427.4L1295.5 418.2L1296.1 449.1L1296.7 427.7L1297.4 442.7L1298 426.1L1298.7 432.2L1299.3 454.2L1299.9 413.4L1300.6 426.4L1301.2 418.9L1301.9 428.9L1302.5 404.9L1303.1 409.7L1303.8 432.6L1304.4 449.4L1305.1 414.4L1305.7 428.5L1306.3 454.3L1307 439.5L1307.6 414.4L1308.2 366.8L1308.9 275.2L1309.5 385.2L1310.2 444L1310.8 443.9L1311.4 434.6L1312.1 356.7L1312.7 458.2L1313.4 455.8L1314 435.6L1314.6 418.3L1315.3 443.9L1315.9 454.5L1316.6 442.3L1317.2 448L1317.8 453.6L1318.5 447L1319.1 435L1319.8 434.8L1320.4 434.2L1321 451.5L1321.7 458.5L1322.3 466L1322.9 451.4L1323.6 434.1L1324.2 419L1324.9 421.7L1325.5 408.1L1326.1 418.3L1326.8 427.9L1327.4 403.6L1328.1 386.6L1328.7 408.8L1329.3 427.6L1330 396.7L1330.6 444.1L1331.3 447.7L1331.9 432.1L1332.5 411.1L1333.2 420.3L1333.8 376.7L1334.5 328.5L1335.1 387.3L1335.7 460.3L1336.4 422.1L1337 434.3L1337.6 449.3L1338.3 416.1L1338.9 444.9L1339.6 457.9L1340.2 442.4L1340.8 452.6L1341.5 462.1L1342.1 414L1342.8 419.9L1343.4 461.3L1344 428.6L1344.7 457.5L1345.3 430.7L1346 454.1L1346.6 433L1347.2 444.6L1347.9 415.1L1348.5 465.4L1349.2 449.5L1349.8 438L1350.4 383.6L1351.1 430.2L1351.7 452.2L1352.3 468.7L1353 426.8L1353.6 434L1354.3 476L1354.9 477.9L1355.5 477.2L1356.2 439.6L1356.8 451L1357.5 451.2L1358.1 458L1358.7 480.1L1359.4 448.6L1360 453.6L1360.7 466.2L1361.3 474.3L1361.9 449.1L1362.6 480.7L1363.2 480.5L1363.8 468.8L1364.5 453.4L1365.1 469.6L1365.8 475.5L1366.4 452.9L1367 442.1L1367.7 440.2L1368.3 459.9L1369 465.3L1369.6 428.6L1370.2 396.6L1370.9 431.6L1371.5 431.4L1372.2 453.4L1372.8 436.1L1373.4 413.9L1374.1 411.5L1374.7 443.8L1375.4 449.3L1376 458.2L1376.6 409.2L1377.3 459.5L1377.9 467.1L1378.5 383.5L1379.2 333L1379.8 390.2L1380.5 391.4L1381.1 448.7L1381.7 392.5L1382.4 441.6L1383 434.3L1383.7 458.9L1384.3 392.7L1384.9 430.4L1385.6 467.4L1386.2 438.2L1386.9 422.6L1387.5 460.9L1388.1 434.7L1388.8 438.8L1389.4 391.4L1390.1 270.6L1390.7 381.2L1391.3 461.1L1392 446L1392.6 452.5L1393.2 466.3L1393.9 434.6L1394.5 466.3L1395.2 428.9L1395.8 454.4L1396.4 438.7L1397.1 463.2L1397.7 457.2L1398.4 365.3L1399 421.7L1399.6 453.6L1400.3 422.2L1400.9 424.8L1401.6 412.7L1402.2 453.5L1402.8 431.2L1403.5 392.1L1404.1 392.3L1404.8 382L1405.4 381.6L1406 446.7L1406.7 394.4L1407.3 397.8L1407.9 338.7L1408.6 350.8L1409.2 269.6L1409.9 372.7L1410.5 412.2L1411.1 365.3L1411.8 425.1L1412.4 387.1L1413.1 418.1L1413.7 419.9L1414.3 404.8L1415 339L1415.6 413.1L1416.3 404.1L1416.9 403.1L1417.5 344.6L1418.2 404.7L1418.8 270.5L1419.5 329.3L1420.1 339.1L1420.7 345.1L1421.4 384.6L1422 307.6L1422.6 327.9L1423.3 322.8L1423.9 345.1L1424.6 301.2L1425.2 204.2L1425.8 291.2L1426.5 325.4L1427.1 376.3L1427.8 353.3L1428.4 306.7L1429 354.5L1429.7 366.4L1430.3 324.4L1431 341.3L1431.6 396.6L1432.2 329.1L1432.9 364.9L1433.5 349.8L1434.2 366.9L1434.8 394.7L1435.4 351.5L1436.1 381.1L1436.7 414.3L1437.3 382.5L1438 363.2L1438.6 413.4L1439.3 402.6L1439.9 368.7L1440.5 392.2L1441.2 422.8L1441.8 358L1442.5 435.8L1443.1 426.6L1443.7 397.4L1444.4 338.5L1445 255.6L1445.7 336.1L1446.3 409.7L1446.9 445.4L1447.6 399.2L1448.2 438.6L1448.9 425.8L1449.5 405.4L1450.1 443.6L1450.8 391.9L1451.4 453.5L1452 439L1452.7 428.2L1453.3 378.9L1454 363L1454.6 376.3L1455.2 447.9L1455.9 435.6L1456.5 441.8L1457.2 454.9L1457.8 439.9L1458.4 453.3L1459.1 461.4L1459.7 441.3L1460.4 433.4L1461 412.2L1461.6 456.6L1462.3 456.3L1462.9 461.2L1463.5 444.6L1464.2 473.5L1464.8 448.3L1465.5 422.3L1466.1 470.6L1466.7 460.3L1467.4 439.1L1468 445.1L1468.7 469.9L1469.3 451.8L1469.9 454.7L1470.6 417.4L1471.2 457.3L1471.9 445.2L1472.5 460.5L1473.1 443L1473.8 446.3L1474.4 449.2L1475.1 455.1L1475.7 436.4L1476.3 459.9L1477 420L1477.6 432.6L1478.2 423.2L1478.9 418.3L1479.5 428.5L1480.2 449.4L1480.8 404.2L1481.4 418L1482.1 412.8L1482.7 427.8L1483.4 357.8L1484 277L1484.6 374.1L1485.3 427.2L1485.9 433.2L1486.6 453.3L1487.2 442.2L1487.8 420.7L1488.5 433.7L1489.1 411.1L1489.8 443.7L1490.4 399.7L1491 400.3L1491.7 407.2L1492.3 449.7L1492.9 428.5L1493.6 376.4L1494.2 265.9L1494.9 381.3L1495.5 428.4L1496.1 417.3L1496.8 439L1497.4 434L1498.1 401.5L1498.7 462.7L1499.3 437.4L1500 431.4L1500.6 433.9L1501.3 437.8L1501.9 468.9L1502.5 436.6L1503.2 451.6L1503.8 457.4L1504.5 461.5L1505.1 443.8L1505.7 460.3L1506.4 462L1507 443.2L1507.6 466.9L1508.3 449.9L1508.9 460L1509.6 442.9L1510.2 474.3L1510.8 471.1L1511.5 450.7L1512.1 456.9L1512.8 393.5L1513.4 278L1514 397.4L1514.7 470.9L1515.3 455.8L1516 464.3L1516.6 472.8L1517.2 454.7L1517.9 464.4L1518.5 474.1L1519.2 440.4L1519.8 459.6L1520.4 472.3L1521.1 453.6L1521.7 453.5L1522.3 450.7L1523 475.8L1523.6 456.4L1524.3 448.5L1524.9 457.9L1525.5 468.8L1526.2 460.4L1526.8 473L1527.5 470L1528.1 462.1L1528.7 463.1L1529.4 459.5L1530 428.8L1530.7 330.3L1531.3 433.2L1531.9 421.6L1532.6 460.3L1533.2 446.1L1533.9 428.2L1534.5 433.4L1535.1 441.7L1535.8 462.4L1536.4 442.9L1537 430.3L1537.7 410.1L1538.3 408.8L1539 430L1539.6 422.8L1540.2 435.3L1540.9 397.4L1541.5 409.3L1542.2 403.8L1542.8 403.2L1543.4 400.4L1544.1 417.5L1544.7 382.7L1545.4 377.3L1546 357.3L1546.6 312.6L1547.3 365.6L1547.9 398L1548.5 440.1L1549.2 379.3L1549.8 320L1550.5 377.7L1551.1 431.6L1551.7 443.1L1552.4 412.1L1553 431.6L1553.7 409.6L1554.3 317L1554.9 402.9L1555.6 462.8L1556.2 463.7L1556.9 450.5L1557.5 451.9L1558.1 465.2L1558.8 451.7L1559.4 441L1560.1 447.4L1560.7 432.3L1561.3 452.4L1562 440.4L1562.6 439.1L1563.2 464.8L1563.9 451.5L1564.5 459.3L1565.2 465.9L1565.8 464.3L1566.4 463.9L1567.1 444.9L1567.7 453.3L1568.4 452.5L1569 429.3L1569.6 454.4L1570.3 443.2L1570.9 407.8L1571.6 439.3L1572.2 426.2L1572.8 445.6L1573.5 453.6L1574.1 434.4L1574.8 427L1575.4 450.5L1576 371.7L1576.7 411.1L1577.3 427.8L1577.9 436.4L1578.6 415.6L1579.2 447.2L1579.9 415.5L1580.5 443.2L1581.1 457.3L1581.8 401.4L1582.4 299.5L1583.1 391.4L1583.7 425.4L1584.3 462.4L1585 428.6L1585.6 458.1L1586.3 427.6L1586.9 458.3L1587.5 462.5L1588.2 470.5L1588.8 475.8L1589.5 445.3L1590.1 469.1L1590.7 437.3L1591.4 450.6L1592 474.7L1592.6 468.7L1593.3 478.2L1593.9 480.2L1594.6 450.5L1595.2 469.6L1595.8 464.7L1596.5 460L1597.1 457.7L1597.8 448.1L1598.4 447.2L1599 449.3L1599.7 411.2L1600.3 437.5L1601 445.1L1601.6 433.4L1602.2 443.9L1602.9 458L1603.5 452.2L1604.2 453.3L1604.8 447.6L1605.4 429L1606.1 357.4L1606.7 433.7L1607.3 455.3L1608 449.5L1608.6 447.5L1609.3 427.9L1609.9 424.5L1610.5 448.1L1611.2 467.6L1611.8 456.5L1612.5 462.4L1613.1 460.9L1613.7 466.7L1614.4 456.5L1615 469.5L1615.7 452.9L1616.3 459.5L1616.9 454.2L1617.6 453.3L1618.2 484.4L1618.9 476.2L1619.5 468.7L1620.1 448.6L1620.8 454.9L1621.4 455.5L1622 444.3L1622.7 440.1L1623.3 444.7L1624 465.5L1624.6 463.2L1625.2 413.7L1625.9 410.1L1626.5 394.1L1627.2 307L1627.8 377.3L1628.4 432.9L1629.1 448.3L1629.7 440.8L1630.4 406.7L1631 399.3L1631.6 427.4L1632.3 415.6L1632.9 377.8L1633.6 383.8L1634.2 296.7L1634.8 372.6L1635.5 442.3L1636.1 413.7L1636.7 416.1L1637.4 433.7L1638 438.2L1638.7 429.2L1639.3 402.4L1639.9 452.9L1640.6 385.9L1641.2 414.2L1641.9 412.7L1642.5 455.1L1643.1 440.8L1643.8 420.1L1644.4 433.1L1645.1 373.8L1645.7 456.8L1646.3 439.6L1647 426.9L1647.6 437.3L1648.2 467.2L1648.9 437.4L1649.5 433.5L1650.2 439L1650.8 469.5L1651.4 422.8L1652.1 415.4L1652.7 458.2L1653.4 429.1L1654 446.9L1654.6 468.6L1655.3 437.4L1655.9 464.6L1656.6 438.1L1657.2 387.8L1657.8 449.6L1658.5 428.4L1659.1 440.2L1659.8 443.8L1660.4 467.8L1661 386.4L1661.7 254.6L1662.3 398.4L1662.9 405.9L1663.6 423L1664.2 432.6L1664.9 447.1L1665.5 389.9L1666.1 426.6L1666.8 430L1667.4 428.6L1668.1 467.5L1668.7 456.8L1669.3 445.6L1670 451.4L1670.6 427.7L1671.3 466.6L1671.9 448.1L1672.5 400.9L1673.2 468.8L1673.8 462.7L1674.5 449L1675.1 462.3L1675.7 456.2L1676.4 464.4L1677 396.2L1677.6 342.5L1678.3 397.5L1678.9 450.5L1679.6 421.7L1680.2 438.2L1680.8 460.5L1681.5 443.9L1682.1 439L1682.8 422.1L1683.4 444.9L1684 454.2L1684.7 430.4L1685.3 455.3L1686 464.5L1686.6 414.4L1687.2 331.2L1687.9 409.7L1688.5 437.8L1689.2 433.7L1689.8 462.2L1690.4 438.3L1691.1 403.7L1691.7 422.8L1692.3 462.7L1693 446.4L1693.6 425.3L1694.3 437.5L1694.9 436.3L1695.5 458.5L1696.2 458.5L1696.8 447L1697.5 451L1698.1 462.7L1698.7 441.8L1699.4 470.7L1700 457.2L1700.7 461.8L1701.3 472.5L1701.9 455.3L1702.6 469L1703.2 453.9L1703.9 462L1704.5 461.7L1705.1 442.5L1705.8 432L1706.4 368.6L1707 414.9L1707.7 468.8L1708.3 451.4L1709 475.5L1709.6 460.9L1710.2 480.2L1710.9 450.8L1711.5 474.1L1712.2 452.5L1712.8 452.2L1713.4 469.5L1714.1 476.4L1714.7 457.5L1715.4 471.2L1716 449.8L1716.6 458.9L1717.3 466.1L1717.9 464.2L1718.6 462.2L1719.2 443.6L1719.8 392.9L1720.5 458.6L1721.1 453.3L1721.7 423.2L1722.4 422.1L1723 457.4L1723.7 447.6L1724.3 439.6L1724.9 459.8L1725.6 454.3L1726.2 440.2L1726.9 416L1727.5 400.2L1728.1 360.9L1728.8 396.6L1729.4 408L1730.1 386.6L1730.7 292L1731.3 373.8L1732 393L1732.6 451.7L1733.2 398.8L1733.9 400.4L1734.5 369.5L1735.2 453.3L1735.8 456.8L1736.4 442.4L1737.1 351.7L1737.7 415.4L1738.4 438.8L1739 415.6L1739.6 434.7L1740.3 439L1740.9 407.2L1741.6 459.4L1742.2 386.8L1742.8 313.5L1743.5 389.9L1744.1 435.7L1744.8 420.5L1745.4 450.3L1746 443L1746.7 435.1L1747.3 426"/>
<line x1="1396.6" y1="39.5" x2="1396.6" y2="542.3" stroke="#D02828" stroke-width="1.4"/>
<path d="M1044 542.3L1053.5 542.3 M1044 510.9L1049 510.9 M1044 479.4L1053.5 479.4 M1044 448L1049 448 M1044 416.6L1053.5 416.6 M1044 385.2L1049 385.2 M1044 353.8L1053.5 353.8 M1044 322.3L1049 322.3 M1044 290.9L1053.5 290.9 M1044 259.5L1049 259.5 M1044 228.1L1053.5 228.1 M1044 196.6L1049 196.6 M1044 165.2L1053.5 165.2 M1044 133.8L1049 133.8 M1044 102.3L1053.5 102.3 M1044 70.9L1049 70.9 M1044 39.5L1053.5 39.5 M1044 542.3L1044 532.8 M1076 542.3L1076 537.3 M1107.9 542.3L1107.9 532.8 M1139.9 542.3L1139.9 537.3 M1171.8 542.3L1171.8 532.8 M1203.8 542.3L1203.8 537.3 M1235.7 542.3L1235.7 532.8 M1267.7 542.3L1267.7 537.3 M1299.6 542.3L1299.6 532.8 M1331.6 542.3L1331.6 537.3 M1363.5 542.3L1363.5 532.8 M1395.5 542.3L1395.5 537.3 M1427.5 542.3L1427.5 532.8 M1459.4 542.3L1459.4 537.3 M1491.4 542.3L1491.4 532.8 M1523.3 542.3L1523.3 537.3 M1555.3 542.3L1555.3 532.8 M1587.2 542.3L1587.2 537.3 M1619.2 542.3L1619.2 532.8 M1651.1 542.3L1651.1 537.3 M1683.1 542.3L1683.1 532.8 M1715.1 542.3L1715.1 537.3 M1747 542.3L1747 532.8" stroke="#333" stroke-width="1.7" fill="none"/>
<rect x="1044" y="39.5" width="705.5" height="502.8" fill="none" stroke="#333" stroke-width="1.6"/>
<text x="994.04" y="547.90" font-size="20.34" font-weight="normal" textLength="37.82" lengthAdjust="spacingAndGlyphs" stroke="#000" stroke-width="0.55">0.00</text>
<text x="994.04" y="485.05" font-size="20.34" font-weight="normal" textLength="37.88" lengthAdjust="spacingAndGlyphs" stroke="#000" stroke-width="0.55">0.05</text>
<text x="994.04" y="422.20" font-size="20.34" font-weight="normal" textLength="37.82" lengthAdjust="spacingAndGlyphs" stroke="#000" stroke-width="0.55">0.10</text>
<text x="994.04" y="359.35" font-size="20.34" font-weight="normal" textLength="37.88" lengthAdjust="spacingAndGlyphs" stroke="#000" stroke-width="0.55">0.15</text>
<text x="994.04" y="296.50" font-size="20.34" font-weight="normal" textLength="37.82" lengthAdjust="spacingAndGlyphs" stroke="#000" stroke-width="0.55">0.20</text>
<text x="994.04" y="233.65" font-size="20.34" font-weight="normal" textLength="37.88" lengthAdjust="spacingAndGlyphs" stroke="#000" stroke-width="0.55">0.25</text>
<text x="994.04" y="170.80" font-size="20.34" font-weight="normal" textLength="37.82" lengthAdjust="spacingAndGlyphs" stroke="#000" stroke-width="0.55">0.30</text>
<text x="994.04" y="107.95" font-size="20.34" font-weight="normal" textLength="37.88" lengthAdjust="spacingAndGlyphs" stroke="#000" stroke-width="0.55">0.35</text>
<text x="994.04" y="45.10" font-size="20.34" font-weight="normal" textLength="37.82" lengthAdjust="spacingAndGlyphs" stroke="#000" stroke-width="0.55">0.40</text>
<text x="1038.12" y="567.13" font-size="17.51" font-weight="normal" textLength="11.75" lengthAdjust="spacingAndGlyphs" stroke="#000" stroke-width="0.55">0</text>
<text x="1091.27" y="567.13" font-size="17.51" font-weight="normal" textLength="32.55" lengthAdjust="spacingAndGlyphs" stroke="#000" stroke-width="0.55">100</text>
<text x="1155.70" y="567.13" font-size="17.51" font-weight="normal" textLength="32.01" lengthAdjust="spacingAndGlyphs" stroke="#000" stroke-width="0.55">200</text>
<text x="1219.85" y="567.13" font-size="17.51" font-weight="normal" textLength="31.77" lengthAdjust="spacingAndGlyphs" stroke="#000" stroke-width="0.55">300</text>
<text x="1284.06" y="567.13" font-size="17.51" font-weight="normal" textLength="31.47" lengthAdjust="spacingAndGlyphs" stroke="#000" stroke-width="0.55">400</text>
<text x="1347.64" y="567.13" font-size="17.51" font-weight="normal" textLength="31.81" lengthAdjust="spacingAndGlyphs" stroke="#000" stroke-width="0.55">500</text>
<text x="1411.34" y="567.13" font-size="17.51" font-weight="normal" textLength="32.02" lengthAdjust="spacingAndGlyphs" stroke="#000" stroke-width="0.55">600</text>
<text x="1475.24" y="567.13" font-size="17.51" font-weight="normal" textLength="32.03" lengthAdjust="spacingAndGlyphs" stroke="#000" stroke-width="0.55">700</text>
<text x="1539.30" y="567.13" font-size="17.51" font-weight="normal" textLength="31.88" lengthAdjust="spacingAndGlyphs" stroke="#000" stroke-width="0.55">800</text>
<text x="1603.14" y="567.13" font-size="17.51" font-weight="normal" textLength="31.95" lengthAdjust="spacingAndGlyphs" stroke="#000" stroke-width="0.55">900</text>
<text x="1661.44" y="567.13" font-size="17.51" font-weight="normal" textLength="42.61" lengthAdjust="spacingAndGlyphs" stroke="#000" stroke-width="0.55">1000</text>
<text x="1725.35" y="567.13" font-size="17.51" font-weight="normal" textLength="42.61" lengthAdjust="spacingAndGlyphs" stroke="#000" stroke-width="0.55">1100</text>
<text x="1313.58" y="597.80" font-size="22.53" font-weight="normal" textLength="163.59" lengthAdjust="spacingAndGlyphs" stroke="#000" stroke-width="0.6">Residue index</text>
<text transform="translate(966.20,369.92) rotate(-90)" font-size="26.74" font-weight="normal" textLength="126.94" lengthAdjust="spacingAndGlyphs" stroke="#000" stroke-width="0.6">RMSF (nm)</text>
<line x1="1064" y1="60.3" x2="1085" y2="60.3" stroke="#096C09" stroke-width="1.4"/>
<text x="1089.01" y="65.40" font-size="14.39" font-weight="bold" textLength="58.20" lengthAdjust="spacingAndGlyphs">PTGS2</text>
<text x="1309.95" y="103.40" font-size="24.56" font-weight="bold" textLength="18.73" lengthAdjust="spacingAndGlyphs">A</text>
<text x="1281.90" y="135.30" font-size="25.87" font-weight="bold" textLength="74.77" lengthAdjust="spacingAndGlyphs">Chain</text>
<text x="1454.84" y="103.40" font-size="24.56" font-weight="bold" textLength="18.95" lengthAdjust="spacingAndGlyphs">B</text>
<text x="1427.30" y="135.30" font-size="25.87" font-weight="bold" textLength="74.36" lengthAdjust="spacingAndGlyphs">Chain</text>
<path fill="none" stroke="#096C09" stroke-width="1.6" stroke-linejoin="round" d="M1043.5 878.4L1044.5 970.4L1045.5 1012L1046.5 985.8L1047.5 1015.9L1048.5 1013.1L1049.5 1022.1L1050.5 1007.6L1051.6 1007.5L1052.6 977.5L1053.6 962.8L1054.6 960M1055.6 938.9L1056.6 936.2L1057.6 938L1058.6 925.2L1059.6 838.9L1060.6 918.7L1061.6 1003.4L1062.6 1015.9L1063.6 1025.6L1064.6 988.9L1065.7 1009.7L1066.7 976.2L1067.7 947.5L1068.7 978L1069.7 1028.4L1070.7 989.1L1071.7 1006.1L1072.7 983.9L1073.7 953.5L1074.7 994.7L1075.7 1038L1076.7 962.1L1077.7 1009.6L1078.7 987.2L1079.8 1026.6L1080.8 1032.3L1081.8 1016.5L1082.8 999.9L1083.8 957.4L1084.8 980.8L1085.8 1000.3L1086.8 1003.5L1087.8 1027.4L1088.8 1019.2L1089.8 1056.8L1090.8 1053L1091.8 1038.2L1092.8 1054.6L1093.8 1040.1L1094.9 1040L1095.9 1042.7L1096.9 1063.6L1097.9 1062.4L1098.9 1068.1L1099.9 1025L1100.9 949.5L1101.9 1031.8L1102.9 1069.9L1103.9 1060.1L1104.9 1052.3L1105.9 1055.2L1106.9 1015.7L1107.9 1049.8L1109 1075.5L1110 1076.7L1111 1010.4L1112 929.8L1113 1023L1114 1051.5L1115 1069.6L1116 1045.3L1117 1074.2L1118 1068.7L1119 1002.9L1120 917.9L1121 1025.9L1122 1041.3L1123.1 1053.1L1124.1 1044L1125.1 1052L1126.1 1053.6L1127.1 1055.2L1128.1 1069.2L1129.1 1014.8L1130.1 901.5L1131.1 753L1132.1 971.8L1133.1 929.8L1134.1 984.5L1135.1 1055.2L1136.1 1063.6M1137.2 1045.3M1138.2 1039.4L1139.2 1040L1140.2 1048.8L1141.2 1042.4L1142.2 1040.2L1143.2 1040L1144.2 1056.3L1145.2 1041.7L1146.2 1023.1L1147.2 1018.4L1148.2 1027.5L1149.2 1005L1150.2 997.5L1151.2 993.9L1152.3 964.3L1153.3 985L1154.3 936.6L1155.3 902L1156.3 725.6L1157.3 837L1158.3 884.3L1159.3 925.1L1160.3 1043.4L1161.3 1025.1L1162.3 1058.8L1163.3 1076.2L1164.3 1079.5L1165.3 1051.1L1166.4 1054.8L1167.4 1078.6L1168.4 1056.1L1169.4 1073.1L1170.4 1049.4L1171.4 1060.1L1172.4 1034.8L1173.4 1032.6L1174.4 1050.8L1175.4 1063L1176.4 1070.1L1177.4 1055.3L1178.4 1082L1179.4 1064.3L1180.5 1062.9L1181.5 1036.9L1182.5 982L1183.5 1033.8L1184.5 1072.6L1185.5 1100.6L1186.5 1101.3L1187.5 1068.8L1188.5 1074.8L1189.5 1098.8M1190.5 1084.1L1191.5 1068.8L1192.5 1072.1L1193.5 1069.8L1194.5 1035.2L1195.6 1091L1196.6 1096.8L1197.6 1045L1198.6 1010.7L1199.6 1057.2L1200.6 1085L1201.6 1087.6L1202.6 1095.8L1203.6 1069.4L1204.6 1079.4M1205.6 1095.9L1206.6 1073.4L1207.6 1063.8L1208.6 1082L1209.7 1070.7L1210.7 1097.1L1211.7 1069.1L1212.7 1093.7L1213.7 1071.5L1214.7 1043.4L1215.7 904L1216.7 1021.2L1217.7 1078L1218.7 1061.5L1219.7 1065L1220.7 1012.7L1221.7 1063.5L1222.7 1064.9L1223.8 1077.6L1224.8 1062.2L1225.8 1072.3L1226.8 1083.2L1227.8 1062.4L1228.8 1085.1L1229.8 1085.4L1230.8 1070.1L1231.8 1062.5L1232.8 1070.8L1233.8 1074.8L1234.8 1083.8L1235.8 1089.6L1236.8 1071.7L1237.9 1067.7L1238.9 1093.7L1239.9 1081.9M1240.9 1059.6L1241.9 1059.3L1242.9 1073.6L1243.9 1097.7L1244.9 1061L1245.9 1060.5L1246.9 1097.2L1247.9 1090.7M1248.9 1067.4L1249.9 1093.4L1250.9 1097.9L1251.9 1083.6L1253 1074.9L1254 1081.4L1255 1091.1L1256 1077.5L1257 1088.1L1258 1075.9L1259 1074.5L1260 1089.1L1261 1028.1L1262 964.3L1263 1029.3L1264 1071L1265 1079.2L1266 1040.9L1267.1 1053.9L1268.1 1067.2L1269.1 1060.2L1270.1 1058.2L1271.1 1058.9L1272.1 1049L1273.1 1065.7L1274.1 1060.4L1275.1 1066.1L1276.1 1058L1277.1 1015.5L1278.1 1057.2L1279.1 1018.6L1280.1 1010.9L1281.2 1055.8L1282.2 1050.3L1283.2 1044L1284.2 1050.9L1285.2 1015.1L1286.2 866.5L1287.2 983.5L1288.2 1013.2L1289.2 952.3L1290.2 886.3L1291.2 950.9L1292.2 1002.9L1293.2 943.4L1294.2 903.9L1295.2 936.7L1296.3 969.9L1297.3 970.3L1298.3 918.3L1299.3 850.4L1300.3 750L1301.3 873.1L1302.3 945.6L1303.3 920.1L1304.3 975.6L1305.3 969.4L1306.3 946.3L1307.3 976.9L1308.3 951.7L1309.3 964.7L1310.4 973.8L1311.4 834L1312.4 950.6L1313.4 1021.9M1314.4 1023.3L1315.4 1030.7L1316.4 1011L1317.4 1047.8L1318.4 1064.7L1319.4 1050.4L1320.4 1036.3L1321.4 1040.6L1322.4 1059.8L1323.4 1040.7M1324.5 1043.3L1325.5 1077.6L1326.5 1063.9L1327.5 1015.7L1328.5 1026.8L1329.5 973.2L1330.5 1036.1L1331.5 1050.5L1332.5 1055L1333.5 1077L1334.5 1054.1L1335.5 1051.3M1336.5 1064.1L1337.5 1069M1338.6 1059.6M1339.6 1044.3L1340.6 1068.4L1341.6 1053.3L1342.6 1049.6M1343.6 1034.7L1344.6 1055.5L1345.6 1045.8L1346.6 1037.8L1347.6 1011.5L1348.6 1002.3L1349.6 948.5L1350.6 1004.7L1351.6 1049.8L1352.6 1026.6L1353.7 1021.6L1354.7 1014.4L1355.7 961L1356.7 988.1L1357.7 918.9L1358.7 1003.3L1359.7 1018L1360.7 1009.3L1361.7 1006.4L1362.7 1014.8L1363.7 964.7L1364.7 988.3L1365.7 983.4L1366.7 1008.8L1367.8 965.5L1368.8 891.2L1369.8 962.1L1370.8 957.7L1371.8 1018.8L1372.8 1018.1L1373.8 1002L1374.8 961.8L1375.8 1006.1L1376.8 1001.8L1377.8 962.3L1378.8 947.5L1379.8 973.2L1380.8 975.7L1381.9 983.2L1382.9 995.2L1383.9 932.2L1384.9 989.8L1385.9 1023.4L1386.9 902.6L1387.9 816.2L1388.9 921.5L1389.9 977.8L1390.9 985L1391.9 969.1L1392.9 989.5L1393.9 989.3L1394.9 980.5L1396 971.8L1397 999.5L1398 985.4L1399 1030.3L1400 1023.1L1401 995.9L1402 925L1403 807.3L1404 944.4L1405 1031L1406 983.9L1407 1015M1408 1010.6L1409 1023.5L1410 987.3L1411.1 1010.5L1412.1 1009.7L1413.1 1008.8L1414.1 969.8L1415.1 1011L1416.1 975.1L1417.1 1008.6L1418.1 997.7L1419.1 991.9L1420.1 978.6L1421.1 858.6L1422.1 960L1423.1 1009.8L1424.1 969.8L1425.2 989.4L1426.2 1020L1427.2 998.5L1428.2 1028L1429.2 973.4L1430.2 917.9L1431.2 974.4L1432.2 993.9L1433.2 1031.7L1434.2 996.3L1435.2 994.1L1436.2 1018.6L1437.2 996.5L1438.2 983.2L1439.3 1010.4L1440.3 1005.5L1441.3 1026.8L1442.3 1007.3L1443.3 1016.8L1444.3 995.9L1445.3 980.5L1446.3 917.9L1447.3 975.8L1448.3 993.1L1449.3 982.8L1450.3 1034M1451.3 1011.4L1452.3 1037.3L1453.3 1007.8L1454.4 1055.1L1455.4 992.9L1456.4 902L1457.4 992.2L1458.4 1076.7L1459.4 1070.8L1460.4 1075.2L1461.4 1086.2L1462.4 1077.6L1463.4 1062.6L1464.4 1088.6L1465.4 1083.2L1466.4 1063.3L1467.4 1014L1468.5 1060.6L1469.5 1037.2L1470.5 932.8L1471.5 874.4L1472.5 917.9L1473.5 767.8L1474.5 897.8L1475.5 996L1476.5 1005.7L1477.5 991L1478.5 1053.1M1479.5 1020.1L1480.5 1036.1L1481.5 1031.4L1482.6 1042.5L1483.6 1057.7L1484.6 1058.7L1485.6 1028.8L1486.6 1031.9L1487.6 1033.7L1488.6 1057.7L1489.6 1056.7L1490.6 1058.1L1491.6 1020.6L1492.6 1059L1493.6 1009.8L1494.6 975.4L1495.6 911L1496.7 960.3L1497.7 976.1L1498.7 858.6L1499.7 985.8L1500.7 969.4L1501.7 996.8L1502.7 1043.4L1503.7 1003.5L1504.7 1034.8L1505.7 1057.2L1506.7 1040.1L1507.7 1033.4L1508.7 1027.6L1509.7 1075.4L1510.7 1065.6L1511.8 1096.8L1512.8 1085.6M1513.8 1057.5L1514.8 1084.3L1515.8 1066L1516.8 1097.9L1517.8 1092.2L1518.8 1092.8L1519.8 1051.3M1520.8 1069.4L1521.8 1080.7L1522.8 1079.9L1523.8 1066.3L1524.8 1054.2L1525.9 1026.5L1526.9 1047.6L1527.9 1086.7L1528.9 1092.5L1529.9 1067.9L1530.9 1095.4L1531.9 1078.8L1532.9 1101.4L1533.9 1098.5L1534.9 1060.9L1535.9 1085.1L1536.9 1086.1L1537.9 1052.3L1538.9 1066.4L1540 1056.9L1541 1073.3L1542 1026.5L1543 981L1544 1041.1L1545 1042.1M1546 1086.3L1547 1019.5L1548 1038.4L1549 1041.2L1550 1089.8L1551 1044.2L1552 1012.6L1553 1072.1L1554 1089.1L1555.1 1072L1556.1 1090.4L1557.1 1062.1L1558.1 1041.3L1559.1 1047L1560.1 977.7L1561.1 834.9L1562.1 983.3L1563.1 973L1564.1 1045.9L1565.1 1081.4L1566.1 1081.4L1567.1 1076.5L1568.1 1060.2L1569.2 1070L1570.2 1061.2L1571.2 1046.8L1572.2 1060.1L1573.2 1085.1L1574.2 1089.5L1575.2 1065.6L1576.2 1055.6L1577.2 1093.4L1578.2 1074.8L1579.2 1074.5L1580.2 1060.4L1581.2 1017.6L1582.2 1064L1583.3 1083.4L1584.3 1096.1L1585.3 1049.5L1586.3 1079.7M1587.3 1080.5L1588.3 1091.9L1589.3 1057L1590.3 1069.4L1591.3 1065.8L1592.3 1086.6L1593.3 1073.1L1594.3 1081.2L1595.3 1075.3L1596.3 1086.8L1597.3 1081.7L1598.4 1068.6L1599.4 1069.5L1600.4 1067.2M1601.4 1051.2L1602.4 1087.7L1603.4 1049L1604.4 1063.4L1605.4 1017.9L1606.4 980L1607.4 1017.9L1608.4 1058.9L1609.4 1065L1610.4 1056.2L1611.4 1041.5L1612.5 1053.8L1613.5 1065.3L1614.5 1009.3L1615.5 1047.7L1616.5 1068.4L1617.5 1036.7L1618.5 1055.2L1619.5 980.3L1620.5 1053.7L1621.5 1031.6L1622.5 1022.4L1623.5 997.2L1624.5 1000.1L1625.5 962L1626.6 916.1L1627.6 997.6L1628.6 909.4L1629.6 796.4L1630.6 926.3L1631.6 953.1L1632.6 956.6L1633.6 927L1634.6 955.9L1635.6 945.5L1636.6 905.8L1637.6 854.8L1638.6 815.2L1639.6 905.3L1640.7 930.6L1641.7 966.6L1642.7 948.1L1643.7 951.5L1644.7 952L1645.7 951.6L1646.7 1034.1L1647.7 1012.3L1648.7 1037.4L1649.7 1001.1M1650.7 1018.5L1651.7 986.5L1652.7 952.3L1653.7 857.6L1654.7 957.9L1655.8 1047.4L1656.8 1058L1657.8 1008.7L1658.8 1039.4L1659.8 1053.6L1660.8 1019.5L1661.8 1067.1L1662.8 1045.4L1663.8 1076.3L1664.8 1034.1L1665.8 896L1666.8 1026L1667.8 1058.1L1668.8 1060.5L1669.9 1074.3L1670.9 1046.4L1671.9 1080.4L1672.9 1078.8L1673.9 1053.1L1674.9 1076.7L1675.9 1078.7L1676.9 1080.6L1677.9 1073L1678.9 1044.1L1679.9 1022.5L1680.9 1045.5L1681.9 1078.8L1682.9 1065.5L1684 1081.4L1685 1052.8L1686 1084.1L1687 1065.5L1688 1059.5L1689 1066.4L1690 1032.8L1691 1024.1L1692 1038.6L1693 1011.7L1694 1020.5L1695 1008.7L1696 1003.5L1697 1001.8L1698 999.8L1699.1 958.6L1700.1 918.8L1701.1 964.9L1702.1 958.8L1703.1 1015.8L1704.1 1011.7M1705.1 1030L1706.1 1019.4L1707.1 1000.6L1708.1 1019.7L1709.1 997.1L1710.1 1055.9L1711.1 1054.1L1712.1 1000.8L1713.2 1025.4L1714.2 1016L1715.2 1027.9L1716.2 1021.4L1717.2 1050.3L1718.2 1018.3L1719.2 1011.2L1720.2 1057L1721.2 1016.8L1722.2 1040.8L1723.2 1029.7L1724.2 1042.4L1725.2 1032.4L1726.2 1047.4L1727.3 1008.7L1728.3 1055.3L1729.3 1014.6L1730.3 985"/>
<line x1="1388.6" y1="646.7" x2="1388.6" y2="1171" stroke="#E88C8C" stroke-width="1.1"/>
<path d="M1043 1171L1052.5 1171 M1043 1138.2L1048 1138.2 M1043 1105.5L1052.5 1105.5 M1043 1072.7L1048 1072.7 M1043 1039.9L1052.5 1039.9 M1043 1007.2L1048 1007.2 M1043 974.4L1052.5 974.4 M1043 941.6L1048 941.6 M1043 908.9L1052.5 908.9 M1043 876.1L1048 876.1 M1043 843.3L1052.5 843.3 M1043 810.5L1048 810.5 M1043 777.8L1052.5 777.8 M1043 745L1048 745 M1043 712.2L1052.5 712.2 M1043 679.5L1048 679.5 M1043 646.7L1052.5 646.7 M1043 1171L1043 1161.5 M1093.3 1171L1093.3 1166 M1143.7 1171L1143.7 1161.5 M1194 1171L1194 1166 M1244.4 1171L1244.4 1161.5 M1294.8 1171L1294.8 1166 M1345.1 1171L1345.1 1161.5 M1395.5 1171L1395.5 1166 M1445.8 1171L1445.8 1161.5 M1496.2 1171L1496.2 1166 M1546.5 1171L1546.5 1161.5 M1596.8 1171L1596.8 1166 M1647.2 1171L1647.2 1161.5 M1697.5 1171L1697.5 1166 M1747.9 1171L1747.9 1161.5" stroke="#222" stroke-width="1.7" fill="none"/>
<rect x="1043" y="646.7" width="705.7" height="524.3" fill="none" stroke="#222" stroke-width="1.8"/>
<text x="994.04" y="1176.06" font-size="19.35" font-weight="normal" textLength="37.82" lengthAdjust="spacingAndGlyphs" stroke="#000" stroke-width="0.55">0.00</text>
<text x="994.04" y="1110.52" font-size="19.35" font-weight="normal" textLength="37.88" lengthAdjust="spacingAndGlyphs" stroke="#000" stroke-width="0.55">0.05</text>
<text x="994.04" y="1044.99" font-size="19.35" font-weight="normal" textLength="37.82" lengthAdjust="spacingAndGlyphs" stroke="#000" stroke-width="0.55">0.10</text>
<text x="994.04" y="979.45" font-size="19.35" font-weight="normal" textLength="37.88" lengthAdjust="spacingAndGlyphs" stroke="#000" stroke-width="0.55">0.15</text>
<text x="994.04" y="913.91" font-size="19.35" font-weight="normal" textLength="37.82" lengthAdjust="spacingAndGlyphs" stroke="#000" stroke-width="0.55">0.20</text>
<text x="994.04" y="848.37" font-size="19.35" font-weight="normal" textLength="37.88" lengthAdjust="spacingAndGlyphs" stroke="#000" stroke-width="0.55">0.25</text>
<text x="994.04" y="782.84" font-size="19.35" font-weight="normal" textLength="37.82" lengthAdjust="spacingAndGlyphs" stroke="#000" stroke-width="0.55">0.30</text>
<text x="994.04" y="717.30" font-size="19.35" font-weight="normal" textLength="37.88" lengthAdjust="spacingAndGlyphs" stroke="#000" stroke-width="0.55">0.35</text>
<text x="994.04" y="651.76" font-size="19.35" font-weight="normal" textLength="37.82" lengthAdjust="spacingAndGlyphs" stroke="#000" stroke-width="0.55">0.40</text>
<text x="1037.24" y="1196.52" font-size="17.94" font-weight="normal" textLength="11.52" lengthAdjust="spacingAndGlyphs" stroke="#000" stroke-width="0.55">0</text>
<text x="1127.39" y="1196.52" font-size="17.94" font-weight="normal" textLength="31.90" lengthAdjust="spacingAndGlyphs" stroke="#000" stroke-width="0.55">100</text>
<text x="1228.60" y="1196.52" font-size="17.94" font-weight="normal" textLength="31.38" lengthAdjust="spacingAndGlyphs" stroke="#000" stroke-width="0.55">200</text>
<text x="1329.54" y="1196.52" font-size="17.94" font-weight="normal" textLength="31.14" lengthAdjust="spacingAndGlyphs" stroke="#000" stroke-width="0.55">300</text>
<text x="1430.53" y="1196.52" font-size="17.94" font-weight="normal" textLength="30.85" lengthAdjust="spacingAndGlyphs" stroke="#000" stroke-width="0.55">400</text>
<text x="1530.90" y="1196.52" font-size="17.94" font-weight="normal" textLength="31.18" lengthAdjust="spacingAndGlyphs" stroke="#000" stroke-width="0.55">500</text>
<text x="1631.39" y="1196.52" font-size="17.94" font-weight="normal" textLength="31.39" lengthAdjust="spacingAndGlyphs" stroke="#000" stroke-width="0.55">600</text>
<text x="1732.09" y="1196.52" font-size="17.94" font-weight="normal" textLength="31.40" lengthAdjust="spacingAndGlyphs" stroke="#000" stroke-width="0.55">700</text>
<text x="1312.16" y="1228.60" font-size="23.69" font-weight="normal" textLength="165.12" lengthAdjust="spacingAndGlyphs" stroke="#000" stroke-width="0.6">Residue index</text>
<text transform="translate(965.70,970.46) rotate(-90)" font-size="26.74" font-weight="normal" textLength="129.92" lengthAdjust="spacingAndGlyphs" stroke="#000" stroke-width="0.6">RMSF (nm)</text>
<line x1="1064.8" y1="668.2" x2="1085.1" y2="668.2" stroke="#0C6E0C" stroke-width="2.4"/>
<text x="1090.00" y="674.40" font-size="16.42" font-weight="bold" textLength="57.08" lengthAdjust="spacingAndGlyphs">GSK3β</text>
<text x="1309.95" y="703.40" font-size="24.56" font-weight="bold" textLength="18.73" lengthAdjust="spacingAndGlyphs">A</text>
<text x="1281.90" y="735.30" font-size="25.87" font-weight="bold" textLength="74.77" lengthAdjust="spacingAndGlyphs">Chain</text>
<text x="1454.84" y="703.40" font-size="24.56" font-weight="bold" textLength="18.95" lengthAdjust="spacingAndGlyphs">B</text>
<text x="1427.30" y="735.30" font-size="25.87" font-weight="bold" textLength="74.36" lengthAdjust="spacingAndGlyphs">Chain</text>
<path fill="none" stroke="#096C09" stroke-width="1.8" stroke-linejoin="round" d="M1044.3 1399.5L1045.1 1538.3L1046 1508.4L1046.8 1523.5L1047.6 1611.3L1048.4 1702.8L1049.3 1687.1L1050.1 1678.3L1050.9 1622.7L1051.8 1624.3L1052.6 1617.7L1053.4 1615.6L1054.2 1643.7L1055.1 1637.9L1055.9 1659.6L1056.7 1692.3L1057.6 1622L1058.4 1705.6L1059.2 1654.7L1060.1 1611L1060.9 1529.8L1061.7 1604.9L1062.5 1657.5L1063.4 1634.5L1064.2 1696.6L1065 1713.2L1065.9 1632.6L1066.7 1694.6L1067.5 1637.5L1068.3 1542.6L1069.2 1634.4L1070 1677L1070.8 1634.9L1071.7 1569.3L1072.5 1652.5L1073.3 1710.9L1074.1 1637.6L1075 1633.2L1075.8 1699.6L1076.6 1683.5L1077.5 1638L1078.3 1606.2L1079.1 1539.4L1079.9 1613.7L1080.8 1691.7L1081.6 1655L1082.4 1553.5L1083.3 1708.8L1084.1 1710.4L1084.9 1698.2L1085.8 1659.9L1086.6 1680.1L1087.4 1630.5L1088.2 1693L1089.1 1654L1089.9 1634.9L1090.7 1673.9L1091.6 1663L1092.4 1636.5L1093.2 1638.5L1094 1634.2L1094.9 1667.5L1095.7 1601.1L1096.5 1610.9L1097.4 1528.6L1098.2 1370.7L1099 1576L1099.8 1595.7L1100.7 1661.6L1101.5 1667.7L1102.3 1660.5L1103.2 1700.9L1104 1576.4L1104.8 1672.1L1105.6 1692.4L1106.5 1637.2L1107.3 1682.9L1108.1 1678.9L1109 1647.2L1109.8 1684.5L1110.6 1656.4L1111.4 1703.9L1112.3 1658.2L1113.1 1636.4L1113.9 1587.4L1114.8 1663.7L1115.6 1663.5L1116.4 1663.9L1117.3 1691.9L1118.1 1719.4L1118.9 1715.8L1119.7 1711.7L1120.6 1684L1121.4 1703.4L1122.2 1724.3L1123.1 1723.9L1123.9 1692.4L1124.7 1715.1L1125.5 1709.1L1126.4 1703L1127.2 1715.8L1128 1723L1128.9 1717.4L1129.7 1723.8L1130.5 1734.6L1131.3 1726.1L1132.2 1736.6L1133 1742.1L1133.8 1734.5L1134.7 1734.7L1135.5 1728.8L1136.3 1737L1137.1 1718.6L1138 1707.1L1138.8 1735.4L1139.6 1705L1140.5 1709.5L1141.3 1703.3L1142.1 1710.5L1143 1728.2L1143.8 1709.5L1144.6 1731.7L1145.4 1712.2L1146.3 1705.5L1147.1 1719.1L1147.9 1683.8L1148.8 1727.3L1149.6 1716.1L1150.4 1730.8L1151.2 1646.3L1152.1 1513.7L1152.9 1637.3L1153.7 1679.4L1154.6 1709.1L1155.4 1686.4L1156.2 1647.9L1157 1684.2L1157.9 1716.3L1158.7 1678.4L1159.5 1581L1160.4 1665L1161.2 1732L1162 1729.5L1162.8 1734.8L1163.7 1712.9L1164.5 1726.5L1165.3 1712.2L1166.2 1730L1167 1699.4L1167.8 1722.1L1168.6 1713.1L1169.5 1711.1L1170.3 1736.1L1171.1 1715.8L1172 1704L1172.8 1709.5L1173.6 1732.6L1174.5 1741.8L1175.3 1721.5L1176.1 1718.9L1176.9 1734.8L1177.8 1737.7L1178.6 1677.2L1179.4 1565L1180.3 1649.7L1181.1 1707.7L1181.9 1711.2L1182.7 1662.3L1183.6 1713.4L1184.4 1714.3L1185.2 1730.2L1186.1 1696.1L1186.9 1720.9L1187.7 1693.3L1188.5 1710.5L1189.4 1730.2L1190.2 1724.1L1191 1718.5L1191.9 1689.9L1192.7 1712.5L1193.5 1718.7L1194.3 1728.4L1195.2 1676.4L1196 1648L1196.8 1562.9L1197.7 1639.7L1198.5 1690.5L1199.3 1696.5L1200.2 1703.1L1201 1686.4L1201.8 1674.1L1202.6 1698.1L1203.5 1727.7L1204.3 1675L1205.1 1665.4L1206 1703.7L1206.8 1663.6L1207.6 1682.3L1208.4 1679L1209.3 1724.9L1210.1 1678.1L1210.9 1655.8L1211.8 1671.1L1212.6 1675.2L1213.4 1723.8L1214.2 1695.4L1215.1 1651.4L1215.9 1566L1216.7 1650L1217.6 1674.9L1218.4 1712.8L1219.2 1668.3L1220 1642.5L1220.9 1706.6L1221.7 1692.5L1222.5 1600.1L1223.4 1690.8L1224.2 1706.4L1225 1654.6L1225.9 1701.8L1226.7 1711L1227.5 1670.4L1228.3 1719L1229.2 1664.9L1230 1609.8L1230.8 1650.4L1231.7 1673.4L1232.5 1666.9L1233.3 1690.4L1234.1 1707.4L1235 1716.2L1235.8 1680.4L1236.6 1618.9L1237.5 1680.3L1238.3 1679.4L1239.1 1713.2L1239.9 1693.9L1240.8 1689.7L1241.6 1696.1L1242.4 1693.4L1243.3 1677.8L1244.1 1658L1244.9 1648.8L1245.7 1660L1246.6 1668.2L1247.4 1658.7L1248.2 1643.8L1249.1 1703.1L1249.9 1705L1250.7 1625.1L1251.5 1576.7L1252.4 1625.7L1253.2 1682.4L1254 1714.1L1254.9 1666.8L1255.7 1673.7L1256.5 1695.7L1257.4 1705.3L1258.2 1710.4L1259 1703L1259.8 1700L1260.7 1696.4L1261.5 1727.5L1262.3 1724.2L1263.2 1688.9L1264 1620.5L1264.8 1696.3L1265.6 1736.5L1266.5 1736L1267.3 1713.6L1268.1 1699.1L1269 1728.3L1269.8 1732.6L1270.6 1728.2L1271.4 1747L1272.3 1697.6L1273.1 1737.3L1273.9 1732.9L1274.8 1724.1L1275.6 1676L1276.4 1736.1L1277.2 1740.6L1278.1 1725.3L1278.9 1724.2L1279.7 1742L1280.6 1717.2L1281.4 1711.1L1282.2 1714.6L1283.1 1700.3L1283.9 1726.7L1284.7 1699L1285.5 1713.8L1286.4 1731.7L1287.2 1696.4L1288 1714.4L1288.9 1703.3L1289.7 1729.9L1290.5 1700.8L1291.3 1725.3L1292.2 1665L1293 1676L1293.8 1730.1L1294.7 1719.9L1295.5 1731.8L1296.3 1692.8L1297.1 1694.4L1298 1704.9L1298.8 1719.1L1299.6 1732.7L1300.5 1721.8L1301.3 1678.3L1302.1 1686.8L1302.9 1734.8L1303.8 1702.6L1304.6 1653.5L1305.4 1569.5L1306.3 1666.7L1307.1 1720.6L1307.9 1721.9L1308.8 1739.9L1309.6 1721.3L1310.4 1708.6L1311.2 1723.2L1312.1 1735L1312.9 1734.8L1313.7 1713.3L1314.6 1697.1L1315.4 1716L1316.2 1738L1317 1716.8L1317.9 1709.4L1318.7 1715.1L1319.5 1739.1L1320.4 1709.7L1321.2 1726.2L1322 1738.5L1322.8 1719.2L1323.7 1705L1324.5 1731.2L1325.3 1706.8L1326.2 1689.6L1327 1714.5L1327.8 1734.4L1328.6 1732.8L1329.5 1692.3L1330.3 1683L1331.1 1724.6L1332 1675.8L1332.8 1675.7L1333.6 1667.4L1334.4 1721.2L1335.3 1713.2L1336.1 1670.9L1336.9 1684.2L1337.8 1691L1338.6 1686.2L1339.4 1609L1340.3 1690.1L1341.1 1699.2L1341.9 1704.3L1342.7 1682.8L1343.6 1630.5L1344.4 1543L1345.2 1651.6L1346.1 1698.5L1346.9 1727.6L1347.7 1711.6L1348.5 1733.4L1349.4 1695.4L1350.2 1693.8L1351 1722.5L1351.9 1737.3L1352.7 1716.1L1353.5 1697.3L1354.3 1717.4L1355.2 1696.7L1356 1721.5L1356.8 1716.2L1357.7 1719.1L1358.5 1706.1L1359.3 1704.3L1360.1 1699.7L1361 1705.2L1361.8 1701.8L1362.6 1716.5L1363.5 1693.4L1364.3 1699.5L1365.1 1703.4L1366 1691L1366.8 1711.9L1367.6 1714.3L1368.4 1687.4L1369.3 1696.8L1370.1 1711.8L1370.9 1704.2L1371.8 1667.4L1372.6 1676.5L1373.4 1712.9L1374.2 1714.5L1375.1 1630.6L1375.9 1658.1L1376.7 1671.8L1377.6 1672.9L1378.4 1662.1L1379.2 1655.6L1380 1616.8L1380.9 1576.9L1381.7 1652.5L1382.5 1656.8L1383.4 1690.9L1384.2 1691.9L1385 1587.4L1385.8 1521.5L1386.7 1360.4L1387.5 1528L1388.3 1603.2L1389.2 1650.9L1390 1552.6L1390.8 1645L1391.7 1646.1L1392.5 1654.4L1393.3 1686.1L1394.1 1697.3L1395 1656.3L1395.8 1644.9L1396.6 1691.2L1397.5 1700.1L1398.3 1642.9L1399.1 1665.5L1399.9 1641.6L1400.8 1678.9L1401.6 1674.8L1402.4 1596.1L1403.3 1576.7L1404.1 1642.5L1404.9 1686L1405.7 1645.4L1406.6 1665.6L1407.4 1703.4L1408.2 1639.5L1409.1 1634.5L1409.9 1676.5L1410.7 1671.9L1411.5 1665.2L1412.4 1654.3L1413.2 1620.9L1414 1556.2L1414.9 1616.7L1415.7 1685.1L1416.5 1627.9L1417.3 1662.2L1418.2 1655.7L1419 1634.3L1419.8 1662.3L1420.7 1695.2L1421.5 1660.8L1422.3 1640.1L1423.2 1675.9L1424 1623.5L1424.8 1641.2L1425.6 1586.3L1426.5 1632.7L1427.3 1665.9L1428.1 1689.2L1429 1674.9L1429.8 1686.7L1430.6 1645.5L1431.4 1677.2L1432.3 1632.1L1433.1 1633.8L1433.9 1635.3L1434.8 1638.9L1435.6 1664.5L1436.4 1639.4L1437.2 1686L1438.1 1629.8L1438.9 1590.2L1439.7 1527.4L1440.6 1524.8L1441.4 1377.3L1442.2 1569.8L1443 1607.9L1443.9 1623.3L1444.7 1651.3L1445.5 1657.3L1446.4 1627.3L1447.2 1665.4L1448 1634.4L1448.9 1657.4L1449.7 1661.5L1450.5 1629.2L1451.3 1629.5L1452.2 1636.5L1453 1655.5L1453.8 1612.8L1454.7 1574.3L1455.5 1617.3L1456.3 1683.1L1457.1 1681L1458 1682.9L1458.8 1651.5L1459.6 1699L1460.5 1689.3L1461.3 1679L1462.1 1700.7L1462.9 1693.3L1463.8 1706.1L1464.6 1719.4L1465.4 1720.6L1466.3 1698L1467.1 1700.5L1467.9 1707.6L1468.7 1721.1L1469.6 1713.9L1470.4 1724.5L1471.2 1726.5L1472.1 1720.8L1472.9 1711.2L1473.7 1717.7L1474.6 1718.1L1475.4 1731.1L1476.2 1728.7L1477 1722.1L1477.9 1684.1L1478.7 1698.3L1479.5 1729.6L1480.4 1702.4L1481.2 1729.1L1482 1693.7L1482.8 1705.4L1483.7 1708.8L1484.5 1690.3L1485.3 1696.2L1486.2 1721.6L1487 1696.7L1487.8 1700.8L1488.6 1697L1489.5 1688.1L1490.3 1704L1491.1 1719.9L1492 1723.5L1492.8 1684.6L1493.6 1719.5L1494.4 1689.8L1495.3 1651.3L1496.1 1549L1496.9 1661.3L1497.8 1713.9L1498.6 1701.3L1499.4 1653.2L1500.2 1706.7L1501.1 1692.9L1501.9 1705L1502.7 1685.6L1503.6 1712.1L1504.4 1693.5L1505.2 1591L1506.1 1678.5L1506.9 1729.8L1507.7 1690.2L1508.5 1690.6L1509.4 1715.5L1510.2 1717L1511 1695.8L1511.9 1715.4L1512.7 1731.8L1513.5 1732.9L1514.3 1715L1515.2 1721.4L1516 1722.1L1516.8 1671.9L1517.7 1669.8L1518.5 1707.4L1519.3 1709.2L1520.1 1697.2L1521 1706.2L1521.8 1659.5L1522.6 1593.8L1523.5 1650L1524.3 1693.2L1525.1 1715.5L1525.9 1723.6L1526.8 1702L1527.6 1699.9L1528.4 1706.4L1529.3 1695.3L1530.1 1729.5L1530.9 1715.8L1531.8 1695.9L1532.6 1701.8L1533.4 1699.1L1534.2 1718.9L1535.1 1699.8L1535.9 1716.2L1536.7 1720.8L1537.6 1689.1L1538.4 1648.5L1539.2 1558.5L1540 1636.6L1540.9 1647.2L1541.7 1686.5L1542.5 1718.6L1543.4 1691.1L1544.2 1725.3L1545 1705.5L1545.8 1694.8L1546.7 1712.2L1547.5 1693.1L1548.3 1722.9L1549.2 1685.4L1550 1701.1L1550.8 1658.1L1551.6 1696.8L1552.5 1677.4L1553.3 1694.2L1554.1 1687.8L1555 1662.3L1555.8 1699.4L1556.6 1634.8L1557.5 1575.6L1558.3 1635.8L1559.1 1674.4L1559.9 1713.4L1560.8 1699.9L1561.6 1645.5L1562.4 1692L1563.3 1677.2L1564.1 1664.3L1564.9 1706.1L1565.7 1672L1566.6 1651.4L1567.4 1703L1568.2 1684.4L1569.1 1675.9L1569.9 1699.7L1570.7 1637.1L1571.5 1661.8L1572.4 1687.9L1573.2 1663.4L1574 1674.8L1574.9 1666.1L1575.7 1684.9L1576.5 1701.8L1577.3 1695.2L1578.2 1663.8L1579 1682.8L1579.8 1670.4L1580.7 1598L1581.5 1656.3L1582.3 1671.4L1583.2 1684.7L1584 1692.8L1584.8 1698.3L1585.6 1633.5L1586.5 1689.7L1587.3 1692.4L1588.1 1693.3L1589 1651.8L1589.8 1599L1590.6 1661.7L1591.4 1699.1L1592.3 1691.8L1593.1 1680.1L1593.9 1692L1594.8 1703.1L1595.6 1714.1L1596.4 1694.5L1597.2 1732L1598.1 1680.8L1598.9 1692.3L1599.7 1717.1L1600.6 1703.8L1601.4 1714.2L1602.2 1706.2L1603 1702.9L1603.9 1669.1L1604.7 1689.4L1605.5 1605.5L1606.4 1688.9L1607.2 1716.7L1608 1719.5L1608.8 1727.5L1609.7 1713.4L1610.5 1718.6L1611.3 1721.5L1612.2 1716.7L1613 1729.5L1613.8 1705.8L1614.7 1730.5L1615.5 1734.6L1616.3 1715.5L1617.1 1724.5L1618 1711.2L1618.8 1731L1619.6 1712.3L1620.5 1725.7L1621.3 1705.6L1622.1 1707.2L1622.9 1698.6L1623.8 1714.9L1624.6 1691.8L1625.4 1696.2L1626.3 1662.3L1627.1 1718.3L1627.9 1711.5L1628.7 1714.4L1629.6 1680.4L1630.4 1709L1631.2 1666.9L1632.1 1716.4L1632.9 1683.1L1633.7 1697.1L1634.5 1686.1L1635.4 1684.6L1636.2 1710.2L1637 1711.9L1637.9 1696.8L1638.7 1713.4L1639.5 1681.5L1640.4 1691.4L1641.2 1717.2L1642 1689.7L1642.8 1678.3L1643.7 1724.2L1644.5 1691.5L1645.3 1712.1L1646.2 1705.3L1647 1708.5L1647.8 1653.9L1648.6 1545.7L1649.5 1652.4L1650.3 1713.6L1651.1 1701.5L1652 1708.2L1652.8 1711.3L1653.6 1719.6L1654.4 1716.5L1655.3 1712.9L1656.1 1723.6L1656.9 1720.4L1657.8 1709.5L1658.6 1720.8L1659.4 1734.9L1660.2 1730.1L1661.1 1719.2L1661.9 1724.6L1662.7 1735.6L1663.6 1705.8L1664.4 1712.1L1665.2 1731.4L1666 1692.4L1666.9 1626.9L1667.7 1699.6L1668.5 1715.7L1669.4 1717.2L1670.2 1705.5L1671 1729.2L1671.9 1690.3L1672.7 1698.5L1673.5 1693.3L1674.3 1713.1L1675.2 1726.9L1676 1725.6L1676.8 1703.2L1677.7 1697.8L1678.5 1683.5L1679.3 1681L1680.1 1666.9L1681 1691.3L1681.8 1712.8L1682.6 1696.8L1683.5 1686L1684.3 1688L1685.1 1716.8L1685.9 1722.3L1686.8 1682.7L1687.6 1543.6L1688.4 1671L1689.3 1696.2L1690.1 1711.2L1690.9 1705.1L1691.7 1718.3L1692.6 1697.7L1693.4 1700.9L1694.2 1719L1695.1 1727L1695.9 1720.8L1696.7 1716.9L1697.6 1715.8L1698.4 1720.9L1699.2 1707.6L1700 1716.3L1700.9 1686.5L1701.7 1720.5L1702.5 1715.2L1703.4 1714.7L1704.2 1730.5L1705 1725.1L1705.8 1733.8L1706.7 1713L1707.5 1727.7L1708.3 1722.6L1709.2 1715.9L1710 1734.4L1710.8 1719.5L1711.6 1713.6L1712.5 1728.5L1713.3 1722.9L1714.1 1722.6L1715 1711.9L1715.8 1706.9L1716.6 1688.3L1717.4 1695L1718.3 1626L1719.1 1547.9L1719.9 1620.4L1720.8 1689.3L1721.6 1680.7L1722.4 1596.9L1723.3 1586.5L1724.1 1558.2L1724.9 1497.5L1725.7 1380.3L1726.6 1492.2L1727.4 1422L1728.2 1505.5"/>
<line x1="1388.2" y1="1319" x2="1388.2" y2="1810.8" stroke="#D02828" stroke-width="1.4"/>
<path d="M1044 1808.8L1053.5 1808.8 M1044 1778.2L1049 1778.2 M1044 1747.6L1053.5 1747.6 M1044 1717L1049 1717 M1044 1686.3L1053.5 1686.3 M1044 1655.7L1049 1655.7 M1044 1625.1L1053.5 1625.1 M1044 1594.5L1049 1594.5 M1044 1563.9L1053.5 1563.9 M1044 1533.3L1049 1533.3 M1044 1502.7L1053.5 1502.7 M1044 1472.1L1049 1472.1 M1044 1441.5L1053.5 1441.5 M1044 1410.8L1049 1410.8 M1044 1380.2L1053.5 1380.2 M1044 1349.6L1049 1349.6 M1044 1319L1053.5 1319 M1044 1808.8L1044 1799.3 M1085.5 1808.8L1085.5 1803.8 M1126.9 1808.8L1126.9 1799.3 M1168.3 1808.8L1168.3 1803.8 M1209.8 1808.8L1209.8 1799.3 M1251.2 1808.8L1251.2 1803.8 M1292.7 1808.8L1292.7 1799.3 M1334.2 1808.8L1334.2 1803.8 M1375.6 1808.8L1375.6 1799.3 M1417 1808.8L1417 1803.8 M1458.5 1808.8L1458.5 1799.3 M1500 1808.8L1500 1803.8 M1541.4 1808.8L1541.4 1799.3 M1582.8 1808.8L1582.8 1803.8 M1624.3 1808.8L1624.3 1799.3 M1665.8 1808.8L1665.8 1803.8 M1707.2 1808.8L1707.2 1799.3 M1748.7 1808.8L1748.7 1803.8" stroke="#333" stroke-width="1.7" fill="none"/>
<rect x="1044" y="1319" width="704.2" height="489.8" fill="none" stroke="#333" stroke-width="1.6"/>
<text x="994.04" y="1814.27" font-size="17.94" font-weight="normal" textLength="37.82" lengthAdjust="spacingAndGlyphs" stroke="#000" stroke-width="0.55">0.00</text>
<text x="994.04" y="1753.05" font-size="17.94" font-weight="normal" textLength="37.88" lengthAdjust="spacingAndGlyphs" stroke="#000" stroke-width="0.55">0.05</text>
<text x="994.04" y="1691.82" font-size="17.94" font-weight="normal" textLength="37.82" lengthAdjust="spacingAndGlyphs" stroke="#000" stroke-width="0.55">0.10</text>
<text x="994.04" y="1630.60" font-size="17.94" font-weight="normal" textLength="37.88" lengthAdjust="spacingAndGlyphs" stroke="#000" stroke-width="0.55">0.15</text>
<text x="994.04" y="1569.37" font-size="17.94" font-weight="normal" textLength="37.82" lengthAdjust="spacingAndGlyphs" stroke="#000" stroke-width="0.55">0.20</text>
<text x="994.04" y="1508.15" font-size="17.94" font-weight="normal" textLength="37.88" lengthAdjust="spacingAndGlyphs" stroke="#000" stroke-width="0.55">0.25</text>
<text x="994.04" y="1446.92" font-size="17.94" font-weight="normal" textLength="37.82" lengthAdjust="spacingAndGlyphs" stroke="#000" stroke-width="0.55">0.30</text>
<text x="994.04" y="1385.70" font-size="17.94" font-weight="normal" textLength="37.88" lengthAdjust="spacingAndGlyphs" stroke="#000" stroke-width="0.55">0.35</text>
<text x="994.04" y="1324.47" font-size="17.94" font-weight="normal" textLength="37.82" lengthAdjust="spacingAndGlyphs" stroke="#000" stroke-width="0.55">0.40</text>
<text x="1038.42" y="1833.12" font-size="17.94" font-weight="normal" textLength="11.17" lengthAdjust="spacingAndGlyphs" stroke="#000" stroke-width="0.55">0</text>
<text x="1111.09" y="1833.12" font-size="17.94" font-weight="normal" textLength="30.94" lengthAdjust="spacingAndGlyphs" stroke="#000" stroke-width="0.55">100</text>
<text x="1194.48" y="1833.12" font-size="17.94" font-weight="normal" textLength="30.43" lengthAdjust="spacingAndGlyphs" stroke="#000" stroke-width="0.55">200</text>
<text x="1277.61" y="1833.12" font-size="17.94" font-weight="normal" textLength="30.20" lengthAdjust="spacingAndGlyphs" stroke="#000" stroke-width="0.55">300</text>
<text x="1360.79" y="1833.12" font-size="17.94" font-weight="normal" textLength="29.91" lengthAdjust="spacingAndGlyphs" stroke="#000" stroke-width="0.55">400</text>
<text x="1443.37" y="1833.12" font-size="17.94" font-weight="normal" textLength="30.23" lengthAdjust="spacingAndGlyphs" stroke="#000" stroke-width="0.55">500</text>
<text x="1526.07" y="1833.12" font-size="17.94" font-weight="normal" textLength="30.44" lengthAdjust="spacingAndGlyphs" stroke="#000" stroke-width="0.55">600</text>
<text x="1608.96" y="1833.12" font-size="17.94" font-weight="normal" textLength="30.45" lengthAdjust="spacingAndGlyphs" stroke="#000" stroke-width="0.55">700</text>
<text x="1692.01" y="1833.12" font-size="17.94" font-weight="normal" textLength="30.30" lengthAdjust="spacingAndGlyphs" stroke="#000" stroke-width="0.55">800</text>
<text x="1312.16" y="1863.60" font-size="22.67" font-weight="normal" textLength="165.62" lengthAdjust="spacingAndGlyphs" stroke="#000" stroke-width="0.6">Residue index</text>
<text transform="translate(965.70,1640.85) rotate(-90)" font-size="25.29" font-weight="normal" textLength="122.52" lengthAdjust="spacingAndGlyphs" stroke="#000" stroke-width="0.6">RMSF (nm)</text>
<text x="1089.62" y="1345.10" font-size="14.68" font-weight="bold" textLength="47.88" lengthAdjust="spacingAndGlyphs">NOS2</text>
<text x="1305.37" y="1346.00" font-size="24.42" font-weight="bold" textLength="18.19" lengthAdjust="spacingAndGlyphs">A</text>
<text x="1278.49" y="1378.50" font-size="29.80" font-weight="bold" textLength="74.88" lengthAdjust="spacingAndGlyphs">Chain</text>
<text x="1454.36" y="1346.00" font-size="24.42" font-weight="bold" textLength="19.89" lengthAdjust="spacingAndGlyphs">B</text>
<text x="1427.50" y="1378.50" font-size="29.80" font-weight="bold" textLength="74.77" lengthAdjust="spacingAndGlyphs">Chain</text>
</svg></body></html>
